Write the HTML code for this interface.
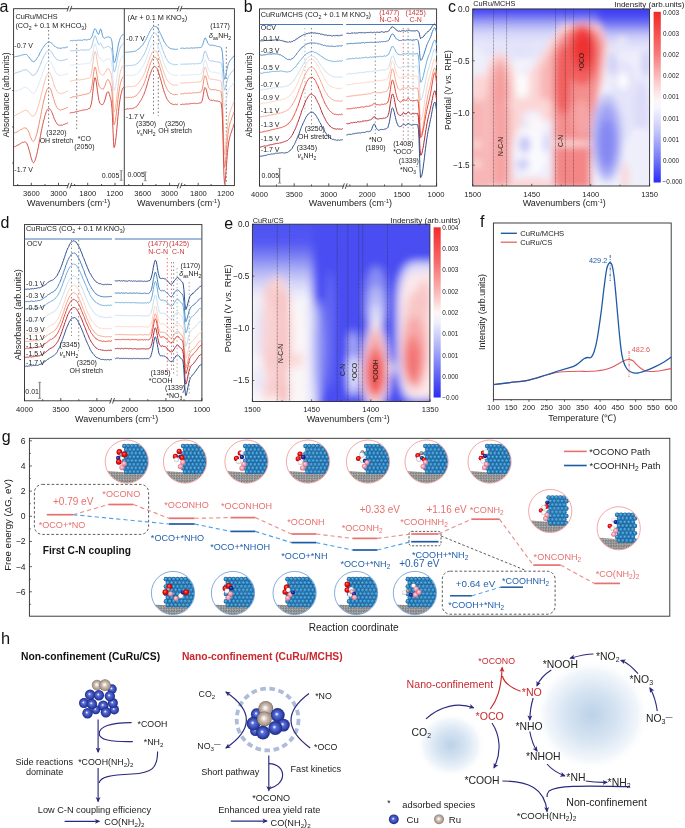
<!DOCTYPE html>
<html><head><meta charset="utf-8"><style>
html,body{margin:0;padding:0;background:#fff;}
body{width:685px;height:828px;overflow:hidden;position:relative;}
svg{position:absolute;left:0;top:0;font-family:"Liberation Sans", sans-serif;will-change:transform;}
</style></head><body>
<svg width="685" height="828" viewBox="0 0 685 828">
<text x="-0.60" y="11.60" font-size="16.00" fill="#111">a</text>
<rect x="13.60" y="8.70" width="220.80" height="176.90" fill="none" stroke="#2b2b2b" stroke-width="0.90"/>
<line x1="124.30" y1="8.70" x2="124.30" y2="185.60" stroke="#2b2b2b" stroke-width="0.90"/>
<line x1="67.00" y1="11.50" x2="69.00" y2="5.90" stroke="#2b2b2b" stroke-width="0.80"/><line x1="69.80" y1="11.50" x2="71.80" y2="5.90" stroke="#2b2b2b" stroke-width="0.80"/><rect x="68.60" y="8.10" width="1.60" height="1.20" fill="#fff"/>
<line x1="67.00" y1="188.40" x2="69.00" y2="182.80" stroke="#2b2b2b" stroke-width="0.80"/><line x1="69.80" y1="188.40" x2="71.80" y2="182.80" stroke="#2b2b2b" stroke-width="0.80"/><rect x="68.60" y="185.00" width="1.60" height="1.20" fill="#fff"/>
<line x1="177.20" y1="11.50" x2="179.20" y2="5.90" stroke="#2b2b2b" stroke-width="0.80"/><line x1="180.00" y1="11.50" x2="182.00" y2="5.90" stroke="#2b2b2b" stroke-width="0.80"/><rect x="178.80" y="8.10" width="1.60" height="1.20" fill="#fff"/>
<line x1="177.20" y1="188.40" x2="179.20" y2="182.80" stroke="#2b2b2b" stroke-width="0.80"/><line x1="180.00" y1="188.40" x2="182.00" y2="182.80" stroke="#2b2b2b" stroke-width="0.80"/><rect x="178.80" y="185.00" width="1.60" height="1.20" fill="#fff"/>
<line x1="31.30" y1="185.60" x2="31.30" y2="182.80" stroke="#2b2b2b" stroke-width="0.80"/><line x1="58.50" y1="185.60" x2="58.50" y2="182.80" stroke="#2b2b2b" stroke-width="0.80"/><line x1="87.70" y1="185.60" x2="87.70" y2="182.80" stroke="#2b2b2b" stroke-width="0.80"/><line x1="115.00" y1="185.60" x2="115.00" y2="182.80" stroke="#2b2b2b" stroke-width="0.80"/><line x1="142.60" y1="185.60" x2="142.60" y2="182.80" stroke="#2b2b2b" stroke-width="0.80"/><line x1="169.60" y1="185.60" x2="169.60" y2="182.80" stroke="#2b2b2b" stroke-width="0.80"/><line x1="198.20" y1="185.60" x2="198.20" y2="182.80" stroke="#2b2b2b" stroke-width="0.80"/><line x1="225.00" y1="185.60" x2="225.00" y2="182.80" stroke="#2b2b2b" stroke-width="0.80"/>
<line x1="17.70" y1="185.60" x2="17.70" y2="184.00" stroke="#2b2b2b" stroke-width="0.80"/><line x1="45.00" y1="185.60" x2="45.00" y2="184.00" stroke="#2b2b2b" stroke-width="0.80"/><line x1="74.60" y1="185.60" x2="74.60" y2="184.00" stroke="#2b2b2b" stroke-width="0.80"/><line x1="101.50" y1="185.60" x2="101.50" y2="184.00" stroke="#2b2b2b" stroke-width="0.80"/><line x1="128.80" y1="185.60" x2="128.80" y2="184.00" stroke="#2b2b2b" stroke-width="0.80"/><line x1="155.90" y1="185.60" x2="155.90" y2="184.00" stroke="#2b2b2b" stroke-width="0.80"/><line x1="184.80" y1="185.60" x2="184.80" y2="184.00" stroke="#2b2b2b" stroke-width="0.80"/><line x1="211.10" y1="185.60" x2="211.10" y2="184.00" stroke="#2b2b2b" stroke-width="0.80"/>
<text x="31.40" y="196.30" font-size="7.60" fill="#222" text-anchor="middle">3600</text>
<text x="58.60" y="196.30" font-size="7.60" fill="#222" text-anchor="middle">3000</text>
<text x="87.70" y="196.30" font-size="7.60" fill="#222" text-anchor="middle">1800</text>
<text x="114.80" y="196.30" font-size="7.60" fill="#222" text-anchor="middle">1200</text>
<text x="142.80" y="196.30" font-size="7.60" fill="#222" text-anchor="middle">3600</text>
<text x="169.50" y="196.30" font-size="7.60" fill="#222" text-anchor="middle">3000</text>
<text x="198.40" y="196.30" font-size="7.60" fill="#222" text-anchor="middle">1800</text>
<text x="225.50" y="196.30" font-size="7.60" fill="#222" text-anchor="middle">1200</text>
<text x="68.60" y="206.30" font-size="9.00" fill="#222" text-anchor="middle">Wavenumbers (cm<tspan baseline-shift="3.00" font-size="5.50">-1</tspan>)</text>
<text x="178.60" y="206.30" font-size="9.00" fill="#222" text-anchor="middle">Wavenumbers (cm<tspan baseline-shift="3.00" font-size="5.50">-1</tspan>)</text>
<text x="9.00" y="94.90" font-size="8.40" fill="#222" text-anchor="middle" transform="rotate(-90 9.00 94.90)">Absorbance (arb.units)</text>
<line x1="13.60" y1="54.50" x2="12.10" y2="54.50" stroke="#2b2b2b" stroke-width="0.70"/>
<line x1="13.60" y1="90.50" x2="12.10" y2="90.50" stroke="#2b2b2b" stroke-width="0.70"/>
<line x1="13.60" y1="127.00" x2="12.10" y2="127.00" stroke="#2b2b2b" stroke-width="0.70"/>
<line x1="13.60" y1="163.00" x2="12.10" y2="163.00" stroke="#2b2b2b" stroke-width="0.70"/>
<text x="15.40" y="18.90" font-size="7.30" fill="#222">CuRu/MCHS</text>
<text x="15.40" y="27.70" font-size="7.30" fill="#222">(CO<tspan baseline-shift="-1.80" font-size="5.20">2</tspan> + 0.1 M KHCO<tspan baseline-shift="-1.80" font-size="5.20">3</tspan>)</text>
<text x="14.30" y="48.30" font-size="7.00" fill="#222">-0.7 V</text>
<text x="14.30" y="172.20" font-size="7.00" fill="#222">-1.7 V</text>
<text x="56.40" y="135.30" font-size="7.00" fill="#222" text-anchor="middle">(3220)</text>
<text x="56.40" y="143.10" font-size="7.00" fill="#222" text-anchor="middle">OH stretch</text>
<text x="84.40" y="141.20" font-size="7.00" fill="#222" text-anchor="middle">*CO</text>
<text x="84.40" y="148.90" font-size="7.00" fill="#222" text-anchor="middle">(2050)</text>
<text x="119.40" y="177.80" font-size="7.00" fill="#222" text-anchor="end">0.005</text>
<line x1="121.20" y1="170.70" x2="121.20" y2="180.30" stroke="#808080" stroke-width="1.20"/>
<line x1="119.70" y1="170.70" x2="122.70" y2="170.70" stroke="#808080" stroke-width="0.80"/>
<line x1="119.70" y1="180.30" x2="122.70" y2="180.30" stroke="#808080" stroke-width="0.80"/>
<text x="127.60" y="19.50" font-size="7.30" fill="#222">(Ar + 0.1 M KNO<tspan baseline-shift="-1.80" font-size="5.20">3</tspan>)</text>
<text x="126.30" y="41.00" font-size="7.00" fill="#222">-0.7 V</text>
<text x="220.10" y="27.70" font-size="7.00" fill="#222" text-anchor="middle">(1177)</text>
<text x="220.10" y="37.90" font-size="7.00" fill="#222" text-anchor="middle"><tspan font-style="italic">δ</tspan><tspan baseline-shift="-1.80" font-size="5.00">as</tspan>NH<tspan baseline-shift="-1.80" font-size="5.00">2</tspan></text>
<text x="125.80" y="119.00" font-size="7.00" fill="#222">-1.7 V</text>
<text x="146.10" y="125.80" font-size="7.00" fill="#222" text-anchor="middle">(3350)</text>
<text x="146.10" y="133.50" font-size="7.00" fill="#222" text-anchor="middle"><tspan font-style="italic">v</tspan><tspan baseline-shift="-1.80" font-size="5.00">s</tspan>NH<tspan baseline-shift="-1.80" font-size="5.00">2</tspan></text>
<text x="175.10" y="125.80" font-size="7.00" fill="#222" text-anchor="middle">(3250)</text>
<text x="175.10" y="132.60" font-size="7.00" fill="#222" text-anchor="middle">OH stretch</text>
<text x="127.40" y="177.00" font-size="7.00" fill="#222">0.005</text>
<line x1="145.20" y1="172.00" x2="145.20" y2="180.70" stroke="#808080" stroke-width="1.20"/>
<line x1="143.70" y1="172.00" x2="146.70" y2="172.00" stroke="#808080" stroke-width="0.80"/>
<line x1="143.70" y1="180.70" x2="146.70" y2="180.70" stroke="#808080" stroke-width="0.80"/>
<line x1="48.60" y1="30.00" x2="48.60" y2="128.00" stroke="#444" stroke-width="0.70" stroke-dasharray="1.6 2.2"/>
<line x1="76.70" y1="44.00" x2="76.70" y2="129.00" stroke="#444" stroke-width="0.70" stroke-dasharray="1.6 2.2"/>
<line x1="153.50" y1="21.00" x2="153.50" y2="116.00" stroke="#444" stroke-width="0.70" stroke-dasharray="1.6 2.2"/>
<line x1="158.30" y1="24.00" x2="158.30" y2="116.00" stroke="#444" stroke-width="0.70" stroke-dasharray="1.6 2.2"/>
<line x1="226.30" y1="47.00" x2="226.30" y2="183.00" stroke="#444" stroke-width="0.70" stroke-dasharray="1.6 2.2"/>
<polyline points="13.90,57.21 14.40,57.06 14.90,56.76 15.40,56.57 15.90,56.63 16.40,56.46 16.91,56.59 17.41,56.19 17.91,56.18 18.41,56.13 18.91,56.19 19.41,55.81 19.91,55.52 20.41,55.64 20.91,55.39 21.41,54.99 21.91,55.20 22.42,55.07 22.92,54.80 23.42,54.72 23.92,54.25 24.42,54.45 24.92,54.54 25.42,54.47 25.92,54.48 26.42,54.47 26.92,54.97 27.43,55.46 27.93,56.11 28.43,56.68 28.93,57.00 29.43,57.89 29.93,58.22 30.43,59.24 30.93,59.77 31.43,60.06 31.93,61.02 32.43,61.23 32.94,61.74 33.44,61.73 33.94,61.24 34.44,61.30 34.94,61.17 35.44,60.33 35.94,59.81 36.44,59.47 36.94,58.32 37.44,57.73 37.94,56.66 38.45,56.19 38.95,55.15 39.45,53.99 39.95,52.81 40.45,52.00 40.95,51.18 41.45,50.52 41.95,49.13 42.45,48.54 42.95,47.81 43.45,46.93 43.96,46.35 44.46,45.49 44.96,45.10 45.46,44.30 45.96,43.77 46.46,43.23 46.96,42.93 47.46,42.49 47.96,42.37 48.46,42.03 48.96,41.89 49.47,41.91 49.97,42.30 50.47,42.55 50.97,42.74 51.47,42.88 51.97,43.70 52.47,44.23 52.97,44.73 53.47,45.16 53.97,45.67 54.48,46.13 54.98,46.32 55.48,46.61 55.98,47.13 56.48,47.16 56.98,47.72 57.48,47.94 57.98,48.12 58.48,48.05 58.98,48.34 59.48,48.17 59.99,48.11 60.49,48.23 60.99,48.40 61.49,48.31 61.99,48.19 62.49,47.70 62.99,47.94 63.49,47.79 63.99,47.79 64.49,47.84 64.99,47.39 65.50,47.59 66.00,47.14 66.50,47.11 67.00,47.36 67.50,46.99 68.00,47.19" fill="none" stroke="#5b9bd5" stroke-width="1.00" stroke-linejoin="round"/>
<polyline points="13.90,73.28 14.40,73.57 14.90,73.39 15.40,72.94 15.90,72.95 16.40,72.78 16.91,72.76 17.41,72.69 17.91,72.12 18.41,71.92 18.91,72.23 19.41,71.81 19.91,71.81 20.41,71.15 20.91,71.20 21.41,71.14 21.91,70.62 22.42,70.83 22.92,70.60 23.42,69.89 23.92,69.73 24.42,69.93 24.92,70.11 25.42,69.78 25.92,69.75 26.42,70.01 26.92,70.00 27.43,70.41 27.93,70.90 28.43,71.37 28.93,71.71 29.43,72.25 29.93,72.80 30.43,73.51 30.93,73.95 31.43,74.27 31.93,75.16 32.43,75.28 32.94,75.49 33.44,75.20 33.94,75.51 34.44,75.12 34.94,74.25 35.44,73.84 35.94,73.43 36.44,72.68 36.94,71.98 37.44,70.76 37.94,70.02 38.45,68.88 38.95,67.57 39.45,66.61 39.95,65.63 40.45,64.44 40.95,63.05 41.45,61.92 41.95,60.41 42.45,59.38 42.95,58.57 43.45,57.24 43.96,56.03 44.46,55.25 44.96,54.40 45.46,53.52 45.96,52.55 46.46,51.90 46.96,51.36 47.46,51.04 47.96,50.53 48.46,50.21 48.96,50.17 49.47,49.96 49.97,50.20 50.47,50.98 50.97,51.67 51.47,52.07 51.97,52.66 52.47,53.30 52.97,54.30 53.47,55.39 53.97,56.06 54.48,56.68 54.98,57.58 55.48,57.84 55.98,58.58 56.48,59.34 56.98,59.53 57.48,59.80 57.98,59.95 58.48,60.32 58.98,60.71 59.48,60.23 59.99,60.75 60.49,60.78 60.99,60.79 61.49,60.66 61.99,60.63 62.49,60.37 62.99,60.30 63.49,60.11 63.99,59.77 64.49,60.13 64.99,59.83 65.50,59.48 66.00,59.53 66.50,59.39 67.00,59.18 67.50,59.04 68.00,59.02" fill="none" stroke="#9fc5e8" stroke-width="1.00" stroke-linejoin="round"/>
<polyline points="13.90,92.07 14.40,91.90 14.90,91.19 15.40,91.04 15.90,91.31 16.40,91.08 16.91,90.86 17.41,90.46 17.91,90.45 18.41,90.25 18.91,90.03 19.41,89.56 19.91,89.49 20.41,89.23 20.91,89.18 21.41,89.08 21.91,88.80 22.42,88.30 22.92,88.00 23.42,87.68 23.92,87.35 24.42,87.21 24.92,87.39 25.42,87.29 25.92,87.38 26.42,87.82 26.92,87.82 27.43,88.15 27.93,88.34 28.43,88.67 28.93,89.38 29.43,89.85 29.93,90.68 30.43,91.58 30.93,91.97 31.43,92.19 31.93,93.05 32.43,93.29 32.94,93.39 33.44,93.45 33.94,93.12 34.44,92.74 34.94,91.95 35.44,91.67 35.94,90.87 36.44,89.48 36.94,88.81 37.44,87.66 37.94,86.30 38.45,85.05 38.95,83.67 39.45,82.52 39.95,80.82 40.45,79.54 40.95,77.75 41.45,76.55 41.95,75.05 42.45,73.28 42.95,71.87 43.45,70.64 43.96,69.13 44.46,67.66 44.96,66.26 45.46,65.18 45.96,64.36 46.46,63.13 46.96,62.80 47.46,61.80 47.96,61.71 48.46,61.04 48.96,61.30 49.47,61.26 49.97,61.47 50.47,62.02 50.97,62.82 51.47,63.64 51.97,64.46 52.47,65.46 52.97,66.74 53.47,68.10 53.97,69.01 54.48,69.72 54.98,71.13 55.48,71.96 55.98,72.86 56.48,73.11 56.98,74.02 57.48,74.08 57.98,74.82 58.48,74.88 58.98,75.06 59.48,75.59 59.99,75.20 60.49,75.47 60.99,75.65 61.49,75.24 61.99,75.13 62.49,75.43 62.99,75.03 63.49,75.08 63.99,74.52 64.49,74.57 64.99,74.29 65.50,74.43 66.00,73.92 66.50,74.27 67.00,73.55 67.50,73.80 68.00,73.21" fill="none" stroke="#d6e6f5" stroke-width="1.00" stroke-linejoin="round"/>
<polyline points="13.90,115.84 14.40,115.79 14.90,115.45 15.40,115.36 15.90,115.14 16.40,114.56 16.91,114.29 17.41,114.54 17.91,113.94 18.41,113.66 18.91,113.85 19.41,113.25 19.91,113.18 20.41,112.66 20.91,112.45 21.41,111.83 21.91,111.80 22.42,111.63 22.92,111.12 23.42,110.98 23.92,110.70 24.42,110.15 24.92,110.44 25.42,110.28 25.92,110.14 26.42,110.09 26.92,110.80 27.43,110.87 27.93,111.42 28.43,112.01 28.93,112.48 29.43,113.23 29.93,113.58 30.43,114.49 30.93,114.92 31.43,115.77 31.93,116.19 32.43,116.02 32.94,116.15 33.44,116.09 33.94,116.19 34.44,115.34 34.94,114.76 35.44,113.70 35.94,112.80 36.44,111.54 36.94,110.20 37.44,108.88 37.94,107.30 38.45,105.81 38.95,103.90 39.45,102.19 39.95,100.23 40.45,98.33 40.95,96.12 41.45,93.77 41.95,92.14 42.45,90.15 42.95,88.09 43.45,85.90 43.96,84.06 44.46,81.93 44.96,80.57 45.46,78.82 45.96,77.20 46.46,75.79 46.96,75.18 47.46,74.39 47.96,73.20 48.46,73.20 48.96,72.80 49.47,72.81 49.97,73.38 50.47,74.43 50.97,75.52 51.47,76.27 51.97,78.01 52.47,79.18 52.97,81.16 53.47,82.52 53.97,84.40 54.48,85.95 54.98,87.05 55.48,88.61 55.98,89.32 56.48,90.16 56.98,91.30 57.48,91.65 57.98,92.29 58.48,92.84 58.98,93.26 59.48,93.20 59.99,93.24 60.49,93.78 60.99,93.43 61.49,93.75 61.99,93.60 62.49,93.15 62.99,93.04 63.49,92.89 63.99,92.77 64.49,92.53 64.99,92.29 65.50,92.11 66.00,92.08 66.50,91.59 67.00,91.32 67.50,91.26 68.00,90.74" fill="none" stroke="#f8bfa6" stroke-width="1.00" stroke-linejoin="round"/>
<polyline points="13.90,133.24 14.40,132.92 14.90,132.85 15.40,132.46 15.90,132.16 16.40,132.12 16.91,132.17 17.41,131.85 17.91,131.57 18.41,130.97 18.91,130.88 19.41,130.44 19.91,130.07 20.41,129.72 20.91,129.47 21.41,129.58 21.91,129.20 22.42,128.88 22.92,128.59 23.42,127.97 23.92,127.85 24.42,127.91 24.92,127.94 25.42,128.09 25.92,128.30 26.42,128.16 26.92,128.97 27.43,129.67 27.93,130.39 28.43,131.18 28.93,132.49 29.43,133.51 29.93,135.34 30.43,136.65 30.93,137.77 31.43,138.82 31.93,140.20 32.43,140.75 32.94,141.37 33.44,141.42 33.94,140.89 34.44,140.20 34.94,139.41 35.44,138.15 35.94,136.59 36.44,135.04 36.94,133.51 37.44,131.03 37.94,128.87 38.45,126.92 38.95,124.33 39.45,122.02 39.95,119.48 40.45,116.87 40.95,114.72 41.45,111.71 41.95,109.34 42.45,106.75 42.95,104.62 43.45,102.09 43.96,99.92 44.46,98.06 44.96,95.85 45.46,94.20 45.96,92.80 46.46,90.91 46.96,89.70 47.46,88.84 47.96,88.45 48.46,87.89 48.96,87.48 49.47,87.71 49.97,88.14 50.47,89.15 50.97,90.01 51.47,91.74 51.97,93.37 52.47,95.04 52.97,96.60 53.47,98.45 53.97,99.56 54.48,101.33 54.98,103.23 55.48,104.49 55.98,105.48 56.48,106.86 56.98,107.57 57.48,108.43 57.98,108.71 58.48,109.11 58.98,109.59 59.48,109.63 59.99,109.91 60.49,110.32 60.99,109.93 61.49,109.67 61.99,109.58 62.49,109.51 62.99,109.71 63.49,109.27 63.99,109.02 64.49,108.69 64.99,109.00 65.50,108.44 66.00,108.07 66.50,107.75 67.00,107.51 67.50,107.34 68.00,107.40" fill="none" stroke="#ef8a70" stroke-width="1.00" stroke-linejoin="round"/>
<polyline points="13.90,146.97 14.40,146.82 14.90,146.63 15.40,146.49 15.90,146.14 16.40,146.02 16.91,145.25 17.41,145.28 17.91,145.32 18.41,144.89 18.91,144.78 19.41,144.04 19.91,143.98 20.41,143.55 20.91,143.44 21.41,143.16 21.91,142.53 22.42,142.37 22.92,142.16 23.42,142.35 23.92,142.12 24.42,141.72 24.92,142.17 25.42,141.98 25.92,142.64 26.42,142.91 26.92,143.61 27.43,145.12 27.93,145.95 28.43,147.40 28.93,149.52 29.43,151.28 29.93,152.87 30.43,155.25 30.93,156.93 31.43,158.81 31.93,160.07 32.43,161.72 32.94,162.35 33.44,162.81 33.94,162.53 34.44,161.54 34.94,160.60 35.44,159.18 35.94,157.57 36.44,155.64 36.94,153.67 37.44,151.55 37.94,148.73 38.45,146.56 38.95,143.72 39.45,141.02 39.95,138.64 40.45,135.78 40.95,133.07 41.45,130.63 41.95,128.29 42.45,125.54 42.95,123.82 43.45,121.10 43.96,119.52 44.46,117.69 44.96,115.46 45.46,114.35 45.96,112.69 46.46,111.60 46.96,110.22 47.46,109.41 47.96,108.86 48.46,108.91 48.96,108.26 49.47,108.69 49.97,109.17 50.47,109.80 50.97,110.29 51.47,111.32 51.97,112.59 52.47,114.00 52.97,114.92 53.47,116.63 53.97,117.95 54.48,119.23 54.98,119.89 55.48,121.49 55.98,121.91 56.48,122.87 56.98,123.71 57.48,124.46 57.98,124.55 58.48,125.23 58.98,125.24 59.48,125.25 59.99,125.32 60.49,125.25 60.99,125.15 61.49,125.11 61.99,125.32 62.49,125.36 62.99,124.69 63.49,124.44 63.99,124.81 64.49,124.34 64.99,124.05 65.50,123.74 66.00,123.74 66.50,123.66 67.00,123.21 67.50,122.97 68.00,122.53" fill="none" stroke="#d44c44" stroke-width="1.00" stroke-linejoin="round"/>
<polyline points="69.90,40.84 70.40,40.73 70.90,40.79 71.40,40.53 71.90,40.87 72.40,40.84 72.91,40.71 73.41,40.38 73.91,40.57 74.41,40.42 74.91,40.34 75.41,40.74 75.91,40.73 76.41,40.13 76.91,40.59 77.41,40.40 77.91,40.24 78.42,40.15 78.92,40.35 79.42,40.19 79.92,40.30 80.42,40.26 80.92,39.91 81.42,40.26 81.92,40.36 82.42,40.32 82.92,40.07 83.43,39.70 83.93,39.65 84.43,39.69 84.93,40.15 85.43,39.73 85.93,39.74 86.43,40.03 86.93,39.65 87.43,39.76 87.93,39.65 88.43,39.38 88.94,39.63 89.44,39.67 89.94,39.07 90.44,38.79 90.94,38.40 91.44,37.39 91.94,36.58 92.44,35.37 92.94,33.65 93.44,31.88 93.94,30.55 94.45,29.03 94.95,28.82 95.45,28.88 95.95,29.70 96.45,30.48 96.95,32.15 97.45,32.99 97.95,33.93 98.45,34.53 98.95,33.91 99.45,32.06 99.96,30.24 100.46,28.99 100.96,29.21 101.46,31.00 101.96,33.06 102.46,35.23 102.96,37.00 103.46,37.66 103.96,38.25 104.46,38.34 104.96,38.16 105.47,37.76 105.97,37.45 106.47,37.28 106.97,36.85 107.47,37.15 107.97,36.88 108.47,36.91 108.97,36.86 109.47,37.23 109.97,37.51 110.47,37.65 110.98,38.43 111.48,39.45 111.98,41.71 112.48,46.49 112.98,53.19 113.48,59.40 113.98,62.95 114.48,62.50 114.98,61.71 115.48,59.96 115.99,57.64 116.49,55.00 116.99,52.27 117.49,49.41 117.99,46.70 118.49,44.08 118.99,42.13 119.49,40.66 119.99,38.87 120.49,37.46 120.99,36.52 121.50,36.12 122.00,35.27 122.50,34.89 123.00,34.61 123.50,34.62 124.00,34.84" fill="none" stroke="#5b9bd5" stroke-width="1.00" stroke-linejoin="round"/>
<polyline points="69.90,50.87 70.40,50.90 70.90,51.09 71.40,50.78 71.90,50.78 72.40,50.80 72.91,50.52 73.41,50.69 73.91,50.73 74.41,50.79 74.91,50.34 75.41,50.44 75.91,50.28 76.41,50.68 76.91,50.58 77.41,50.15 77.91,50.69 78.42,50.64 78.92,50.43 79.42,50.37 79.92,50.06 80.42,49.95 80.92,50.22 81.42,49.91 81.92,49.96 82.42,49.96 82.92,49.80 83.43,50.03 83.93,49.98 84.43,50.19 84.93,49.97 85.43,50.01 85.93,49.89 86.43,49.96 86.93,49.80 87.43,49.66 87.93,50.05 88.43,50.00 88.94,49.83 89.44,49.61 89.94,49.14 90.44,48.69 90.94,48.08 91.44,46.96 91.94,45.98 92.44,43.97 92.94,42.15 93.44,39.70 93.94,38.09 94.45,36.63 94.95,35.53 95.45,35.90 95.95,37.20 96.45,38.34 96.95,40.34 97.45,41.72 97.95,43.03 98.45,44.38 98.95,44.82 99.45,44.25 99.96,43.57 100.46,43.35 100.96,43.98 101.46,44.76 101.96,45.62 102.46,46.85 102.96,47.54 103.46,47.88 103.96,48.37 104.46,47.86 104.96,47.85 105.47,47.49 105.97,47.03 106.47,47.08 106.97,46.49 107.47,46.65 107.97,46.28 108.47,46.52 108.97,46.54 109.47,46.78 109.97,47.46 110.47,47.68 110.98,47.92 111.48,49.41 111.98,51.47 112.48,56.03 112.98,62.54 113.48,68.61 113.98,71.65 114.48,72.05 114.98,70.58 115.48,68.92 115.99,67.01 116.49,64.16 116.99,61.39 117.49,58.49 117.99,55.86 118.49,53.76 118.99,51.44 119.49,49.86 119.99,48.22 120.49,47.04 120.99,46.36 121.50,45.28 122.00,44.73 122.50,44.43 123.00,43.69 123.50,43.45 124.00,43.79" fill="none" stroke="#9fc5e8" stroke-width="1.00" stroke-linejoin="round"/>
<polyline points="69.90,65.28 70.40,65.35 70.90,65.30 71.40,64.94 71.90,64.81 72.40,64.98 72.91,64.87 73.41,65.14 73.91,65.02 74.41,64.92 74.91,64.84 75.41,64.86 75.91,64.50 76.41,64.63 76.91,64.41 77.41,64.81 77.91,64.25 78.42,64.66 78.92,64.16 79.42,64.48 79.92,64.22 80.42,64.21 80.92,64.43 81.42,63.88 81.92,63.86 82.42,64.32 82.92,64.03 83.43,63.73 83.93,64.22 84.43,64.14 84.93,63.60 85.43,63.73 85.93,63.51 86.43,63.57 86.93,63.70 87.43,63.37 87.93,63.63 88.43,63.17 88.94,63.12 89.44,63.31 89.94,62.73 90.44,62.18 90.94,61.36 91.44,59.89 91.94,57.87 92.44,55.14 92.94,52.61 93.44,49.69 93.94,46.95 94.45,44.79 94.95,43.77 95.45,44.10 95.95,45.55 96.45,47.50 96.95,49.57 97.45,52.15 97.95,54.53 98.45,56.44 98.95,57.82 99.45,58.21 99.96,58.09 100.46,58.67 100.96,58.77 101.46,59.46 101.96,60.05 102.46,60.83 102.96,61.19 103.46,61.52 103.96,60.99 104.46,60.97 104.96,60.36 105.47,60.22 105.97,59.37 106.47,59.09 106.97,58.78 107.47,58.74 107.97,58.31 108.47,58.63 108.97,58.69 109.47,59.05 109.97,59.54 110.47,60.30 110.98,60.73 111.48,62.50 111.98,65.14 112.48,71.17 112.98,78.63 113.48,86.28 113.98,90.82 114.48,90.75 114.98,88.94 115.48,86.98 115.99,84.50 116.49,81.01 116.99,77.49 117.49,73.89 117.99,70.60 118.49,67.94 118.99,65.51 119.49,63.26 119.99,61.08 120.49,59.24 120.99,58.18 121.50,57.46 122.00,56.71 122.50,56.01 123.00,55.33 123.50,55.22 124.00,55.04" fill="none" stroke="#d6e6f5" stroke-width="1.00" stroke-linejoin="round"/>
<polyline points="69.90,81.06 70.40,81.24 70.90,81.16 71.40,81.18 71.90,80.71 72.40,80.66 72.91,80.53 73.41,80.50 73.91,80.73 74.41,80.29 74.91,80.46 75.41,80.19 75.91,80.17 76.41,80.17 76.91,80.34 77.41,80.13 77.91,79.69 78.42,79.77 78.92,79.62 79.42,79.98 79.92,79.87 80.42,79.79 80.92,79.73 81.42,79.60 81.92,79.65 82.42,79.48 82.92,79.08 83.43,79.36 83.93,79.07 84.43,79.15 84.93,78.96 85.43,78.80 85.93,78.69 86.43,78.65 86.93,78.50 87.43,78.30 87.93,78.63 88.43,78.50 88.94,78.45 89.44,78.00 89.94,77.45 90.44,76.78 90.94,75.14 91.44,73.55 91.94,70.71 92.44,67.09 92.94,63.06 93.44,59.06 93.94,55.13 94.45,52.54 94.95,51.48 95.45,51.80 95.95,53.34 96.45,56.24 96.95,59.37 97.45,62.84 97.95,66.05 98.45,68.86 98.95,70.67 99.45,72.29 99.96,73.20 100.46,73.32 100.96,73.95 101.46,74.58 101.96,74.53 102.46,74.92 102.96,75.37 103.46,75.16 103.96,74.53 104.46,73.52 104.96,72.78 105.47,72.04 105.97,71.02 106.47,70.01 106.97,68.89 107.47,68.80 107.97,68.38 108.47,68.80 108.97,68.99 109.47,70.25 109.97,70.92 110.47,72.00 110.98,73.00 111.48,75.44 111.98,79.60 112.48,86.86 112.98,96.71 113.48,106.82 113.98,111.94 114.48,111.70 114.98,110.00 115.48,107.60 115.99,103.69 116.49,99.60 116.99,95.06 117.49,90.93 117.99,86.60 118.49,82.66 118.99,78.88 119.49,76.11 119.99,73.51 120.49,71.25 120.99,69.46 121.50,68.65 122.00,67.00 122.50,66.24 123.00,65.58 123.50,65.35 124.00,64.82" fill="none" stroke="#f8bfa6" stroke-width="1.00" stroke-linejoin="round"/>
<polyline points="69.90,97.36 70.40,97.61 70.90,97.48 71.40,97.54 71.90,97.03 72.40,96.92 72.91,97.10 73.41,96.94 73.91,96.62 74.41,96.74 74.91,96.46 75.41,96.59 75.91,96.08 76.41,96.04 76.91,96.34 77.41,95.90 77.91,95.74 78.42,95.96 78.92,95.75 79.42,95.35 79.92,95.48 80.42,95.44 80.92,95.04 81.42,95.22 81.92,94.80 82.42,94.82 82.92,94.56 83.43,94.52 83.93,94.88 84.43,94.43 84.93,94.67 85.43,94.23 85.93,94.23 86.43,94.28 86.93,94.06 87.43,93.60 87.93,93.76 88.43,93.64 88.94,93.17 89.44,92.82 89.94,92.81 90.44,91.80 90.94,90.36 91.44,88.63 91.94,85.87 92.44,82.85 92.94,78.75 93.44,74.44 93.94,71.21 94.45,68.13 94.95,67.11 95.45,67.35 95.95,69.38 96.45,71.55 96.95,74.92 97.45,77.96 97.95,81.26 98.45,83.95 98.95,85.72 99.45,86.84 99.96,87.50 100.46,87.86 100.96,88.32 101.46,88.46 101.96,89.09 102.46,89.17 102.96,89.47 103.46,89.08 103.96,87.80 104.46,86.79 104.96,85.84 105.47,84.32 105.97,82.51 106.47,81.56 106.97,80.61 107.47,79.61 107.97,79.38 108.47,79.83 108.97,80.81 109.47,81.49 109.97,82.78 110.47,84.09 110.98,85.99 111.48,88.33 111.98,92.51 112.48,99.80 112.98,109.41 113.48,119.25 113.98,124.86 114.48,124.40 114.98,122.60 115.48,120.29 115.99,116.39 116.49,112.19 116.99,107.62 117.49,103.21 117.99,98.92 118.49,94.95 118.99,91.76 119.49,88.26 119.99,85.56 120.49,83.49 120.99,81.76 121.50,79.80 122.00,78.79 122.50,77.54 123.00,76.89 123.50,76.40 124.00,76.34" fill="none" stroke="#ef8a70" stroke-width="1.00" stroke-linejoin="round"/>
<polyline points="69.90,113.38 70.40,112.69 70.90,113.02 71.40,112.56 71.90,112.94 72.40,112.25 72.91,112.66 73.41,112.42 73.91,112.42 74.41,112.39 74.91,111.82 75.41,111.77 75.91,111.88 76.41,111.51 76.91,111.39 77.41,111.26 77.91,111.52 78.42,111.42 78.92,111.26 79.42,110.81 79.92,111.11 80.42,110.75 80.92,110.47 81.42,110.50 81.92,110.36 82.42,110.05 82.92,110.23 83.43,109.99 83.93,110.00 84.43,110.11 84.93,109.83 85.43,109.57 85.93,109.73 86.43,109.70 86.93,109.28 87.43,109.43 87.93,108.75 88.43,108.66 88.94,108.46 89.44,108.58 89.94,107.87 90.44,106.96 90.94,105.21 91.44,103.09 91.94,100.20 92.44,95.70 92.94,91.02 93.44,86.11 93.94,81.99 94.45,79.07 94.95,77.54 95.45,77.94 95.95,79.94 96.45,82.82 96.95,87.06 97.45,90.70 97.95,94.40 98.45,97.67 98.95,100.48 99.45,101.93 99.96,103.40 100.46,103.75 100.96,104.27 101.46,104.36 101.96,105.01 102.46,104.88 102.96,104.32 103.46,103.41 103.96,102.60 104.46,101.17 104.96,99.79 105.47,98.00 105.97,95.99 106.47,93.97 106.97,92.43 107.47,92.08 107.97,91.89 108.47,91.86 108.97,93.08 109.47,94.51 109.97,96.48 110.47,97.73 110.98,99.85 111.48,103.39 111.98,108.55 112.48,117.32 112.98,129.51 113.48,141.19 113.98,147.61 114.48,147.09 114.98,145.01 115.48,141.68 115.99,137.54 116.49,132.66 116.99,127.06 117.49,121.53 117.99,116.36 118.49,111.47 118.99,106.94 119.49,102.84 119.99,99.74 120.49,96.81 120.99,94.40 121.50,92.33 122.00,90.12 122.50,89.17 123.00,87.98 123.50,87.35 124.00,87.10" fill="none" stroke="#d44c44" stroke-width="1.00" stroke-linejoin="round"/>
<polyline points="124.80,52.44 125.30,52.28 125.80,52.30 126.31,52.36 126.81,51.94 127.31,52.14 127.81,52.28 128.31,52.23 128.82,52.02 129.32,51.75 129.82,51.86 130.32,52.17 130.82,51.60 131.32,51.69 131.83,52.03 132.33,51.67 132.83,51.47 133.33,51.46 133.83,51.72 134.34,51.27 134.84,51.18 135.34,51.14 135.84,51.04 136.34,50.61 136.85,50.09 137.35,50.06 137.85,49.37 138.35,49.01 138.85,48.63 139.35,48.47 139.86,47.74 140.36,47.48 140.86,46.64 141.36,46.07 141.86,45.46 142.37,45.28 142.87,44.75 143.37,43.70 143.87,42.99 144.37,42.09 144.88,41.64 145.38,40.54 145.88,39.50 146.38,38.81 146.88,37.75 147.38,36.60 147.89,35.35 148.39,34.56 148.89,33.45 149.39,32.35 149.89,31.20 150.40,30.73 150.90,29.83 151.40,28.94 151.90,28.43 152.40,27.59 152.91,26.95 153.41,26.42 153.91,26.44 154.41,26.24 154.91,26.16 155.42,26.60 155.92,26.74 156.42,26.67 156.92,27.63 157.42,27.73 157.92,28.86 158.43,29.51 158.93,30.68 159.43,31.81 159.93,32.59 160.43,33.81 160.94,34.49 161.44,35.97 161.94,36.75 162.44,38.05 162.94,39.04 163.45,39.92 163.95,41.32 164.45,41.86 164.95,42.84 165.45,43.56 165.95,44.66 166.46,45.13 166.96,45.60 167.46,46.14 167.96,46.75 168.46,47.36 168.97,47.44 169.47,47.76 169.97,48.42 170.47,48.57 170.97,48.52 171.48,48.78 171.98,48.80 172.48,48.98 172.98,49.13 173.48,49.08 173.98,49.11 174.49,49.15 174.99,49.21 175.49,49.37 175.99,49.56 176.49,49.41 177.00,49.28 177.50,49.00 178.00,49.09" fill="none" stroke="#5b9bd5" stroke-width="1.00" stroke-linejoin="round"/>
<polyline points="124.80,65.50 125.30,65.80 125.80,65.76 126.31,65.66 126.81,65.49 127.31,65.83 127.81,65.83 128.31,65.64 128.82,65.63 129.32,65.45 129.82,65.30 130.32,65.50 130.82,65.61 131.32,65.27 131.83,65.68 132.33,65.30 132.83,65.25 133.33,65.06 133.83,65.54 134.34,65.27 134.84,65.19 135.34,64.85 135.84,64.26 136.34,64.14 136.85,63.90 137.35,63.28 137.85,63.33 138.35,62.47 138.85,61.80 139.35,61.62 139.86,60.59 140.36,60.43 140.86,59.49 141.36,58.86 141.86,58.02 142.37,57.36 142.87,56.38 143.37,55.44 143.87,55.02 144.37,53.66 144.88,52.92 145.38,51.43 145.88,50.66 146.38,49.34 146.88,47.92 147.38,46.55 147.89,45.05 148.39,43.75 148.89,42.01 149.39,40.89 149.89,39.82 150.40,38.25 150.90,37.57 151.40,36.54 151.90,35.37 152.40,34.58 152.91,34.01 153.41,33.48 153.91,33.51 154.41,32.97 154.91,32.75 155.42,32.96 155.92,33.67 156.42,34.35 156.92,34.73 157.42,35.58 157.92,36.62 158.43,37.89 158.93,38.83 159.43,40.39 159.93,41.76 160.43,43.25 160.94,44.47 161.44,45.96 161.94,47.56 162.44,49.38 162.94,50.47 163.45,52.02 163.95,53.18 164.45,54.32 164.95,55.49 165.45,57.05 165.95,58.05 166.46,58.74 166.96,59.78 167.46,60.53 167.96,61.35 168.46,61.98 168.97,62.17 169.47,62.97 169.97,63.35 170.47,63.45 170.97,63.91 171.48,63.90 171.98,64.03 172.48,64.11 172.98,64.61 173.48,64.28 173.98,64.31 174.49,64.81 174.99,64.84 175.49,64.70 175.99,64.93 176.49,64.48 177.00,64.62 177.50,64.64 178.00,64.72" fill="none" stroke="#9fc5e8" stroke-width="1.00" stroke-linejoin="round"/>
<polyline points="124.80,75.67 125.30,75.18 125.80,75.11 126.31,75.70 126.81,75.21 127.31,75.17 127.81,75.49 128.31,75.30 128.82,75.62 129.32,75.23 129.82,75.66 130.32,75.26 130.82,75.42 131.32,75.60 131.83,75.43 132.33,75.54 132.83,75.36 133.33,74.90 133.83,75.31 134.34,75.02 134.84,74.71 135.34,74.45 135.84,74.60 136.34,74.15 136.85,74.02 137.35,73.52 137.85,73.18 138.35,72.43 138.85,71.96 139.35,71.32 139.86,70.48 140.36,70.25 140.86,69.19 141.36,68.78 141.86,68.16 142.37,67.21 142.87,66.10 143.37,65.64 143.87,64.61 144.37,63.31 144.88,62.13 145.38,61.25 145.88,59.71 146.38,58.93 146.88,57.31 147.38,55.91 147.89,54.42 148.39,53.15 148.89,51.90 149.39,50.17 149.89,48.90 150.40,47.80 150.90,46.49 151.40,45.64 151.90,44.71 152.40,43.86 152.91,43.37 153.41,42.79 153.91,42.19 154.41,42.57 154.91,42.18 155.42,42.41 155.92,42.75 156.42,43.60 156.92,44.33 157.42,44.95 157.92,45.93 158.43,46.94 158.93,48.71 159.43,49.67 159.93,51.34 160.43,52.73 160.94,54.25 161.44,55.82 161.94,57.27 162.44,58.70 162.94,60.49 163.45,62.09 163.95,63.39 164.45,64.43 164.95,65.96 165.45,66.73 165.95,68.01 166.46,69.23 166.96,70.17 167.46,70.69 167.96,71.63 168.46,72.04 168.97,72.61 169.47,73.12 169.97,73.77 170.47,73.97 170.97,74.10 171.48,74.51 171.98,74.66 172.48,74.66 172.98,75.05 173.48,75.19 173.98,75.15 174.49,75.42 174.99,74.93 175.49,75.26 175.99,75.38 176.49,75.23 177.00,75.14 177.50,75.47 178.00,75.33" fill="none" stroke="#d6e6f5" stroke-width="1.00" stroke-linejoin="round"/>
<polyline points="124.80,87.25 125.30,87.25 125.80,87.20 126.31,86.69 126.81,86.98 127.31,86.86 127.81,86.91 128.31,86.65 128.82,86.66 129.32,86.79 129.82,86.63 130.32,86.75 130.82,86.46 131.32,86.46 131.83,86.79 132.33,86.56 132.83,86.55 133.33,86.59 133.83,86.26 134.34,85.93 134.84,86.19 135.34,85.85 135.84,85.62 136.34,85.27 136.85,85.09 137.35,84.28 137.85,84.01 138.35,83.21 138.85,82.72 139.35,82.12 139.86,81.23 140.36,80.38 140.86,79.87 141.36,79.25 141.86,78.37 142.37,77.45 142.87,76.68 143.37,75.46 143.87,74.43 144.37,73.42 144.88,72.52 145.38,70.87 145.88,69.47 146.38,68.03 146.88,66.51 147.38,65.12 147.89,63.76 148.39,62.36 148.89,60.54 149.39,59.08 149.89,57.61 150.40,56.28 150.90,55.33 151.40,54.07 151.90,52.91 152.40,51.97 152.91,51.67 153.41,51.08 153.91,50.77 154.41,50.22 154.91,50.39 155.42,50.78 155.92,50.95 156.42,51.72 156.92,52.01 157.42,53.42 157.92,53.98 158.43,55.45 158.93,56.59 159.43,58.53 159.93,60.00 160.43,61.77 160.94,63.30 161.44,65.03 161.94,66.43 162.44,68.32 162.94,69.76 163.45,71.05 163.95,72.89 164.45,73.93 164.95,75.13 165.45,76.27 165.95,77.63 166.46,78.50 166.96,79.87 167.46,80.71 167.96,81.02 168.46,81.60 168.97,82.43 169.47,82.70 169.97,83.35 170.47,83.87 170.97,83.83 171.48,84.18 171.98,84.67 172.48,84.56 172.98,84.63 173.48,85.06 173.98,85.10 174.49,85.20 174.99,85.12 175.49,84.99 175.99,85.17 176.49,85.27 177.00,85.16 177.50,84.91 178.00,84.94" fill="none" stroke="#f8bfa6" stroke-width="1.00" stroke-linejoin="round"/>
<polyline points="124.80,97.73 125.30,97.78 125.80,97.35 126.31,97.82 126.81,97.30 127.31,97.56 127.81,97.19 128.31,97.56 128.82,97.16 129.32,97.46 129.82,97.44 130.32,97.42 130.82,97.19 131.32,97.40 131.83,97.41 132.33,96.82 132.83,96.98 133.33,97.14 133.83,96.88 134.34,96.54 134.84,96.26 135.34,96.39 135.84,95.57 136.34,95.60 136.85,95.22 137.35,94.31 137.85,93.85 138.35,93.21 138.85,92.67 139.35,91.85 139.86,91.40 140.36,90.63 140.86,89.45 141.36,88.94 141.86,87.57 142.37,86.66 142.87,86.02 143.37,85.05 143.87,83.94 144.37,82.82 144.88,81.43 145.38,79.67 145.88,78.46 146.38,77.00 146.88,74.86 147.38,73.42 147.89,71.52 148.39,69.81 148.89,68.33 149.39,66.81 149.89,65.43 150.40,63.45 150.90,62.31 151.40,61.37 151.90,60.14 152.40,59.06 152.91,58.11 153.41,57.74 153.91,57.09 154.41,57.09 154.91,57.07 155.42,57.10 155.92,57.74 156.42,58.11 156.92,58.96 157.42,60.19 157.92,61.04 158.43,62.38 158.93,64.11 159.43,65.63 159.93,67.57 160.43,68.94 160.94,70.79 161.44,72.40 161.94,74.43 162.44,76.12 162.94,77.93 163.45,79.79 163.95,80.95 164.45,83.04 164.95,84.30 165.45,85.69 165.95,86.75 166.46,87.89 166.96,88.80 167.46,89.70 167.96,90.40 168.46,91.15 168.97,91.77 169.47,92.32 169.97,93.12 170.47,93.44 170.97,93.66 171.48,93.55 171.98,93.91 172.48,94.26 172.98,94.48 173.48,94.42 173.98,94.63 174.49,94.85 174.99,94.51 175.49,94.60 175.99,94.84 176.49,94.58 177.00,94.82 177.50,94.62 178.00,94.37" fill="none" stroke="#ef8a70" stroke-width="1.00" stroke-linejoin="round"/>
<polyline points="124.80,109.13 125.30,109.41 125.80,109.31 126.31,108.89 126.81,109.24 127.31,109.05 127.81,108.65 128.31,109.15 128.82,108.68 129.32,108.66 129.82,108.68 130.32,108.72 130.82,108.38 131.32,108.65 131.83,108.67 132.33,108.39 132.83,108.46 133.33,108.23 133.83,108.20 134.34,107.63 134.84,107.51 135.34,107.30 135.84,106.75 136.34,106.88 136.85,106.22 137.35,105.36 137.85,105.06 138.35,104.30 138.85,103.46 139.35,102.68 139.86,102.06 140.36,101.00 140.86,100.44 141.36,99.53 141.86,98.37 142.37,97.85 142.87,96.33 143.37,95.32 143.87,94.53 144.37,92.91 144.88,91.67 145.38,90.30 145.88,88.67 146.38,87.08 146.88,85.39 147.38,83.64 147.89,81.62 148.39,80.31 148.89,78.25 149.39,76.42 149.89,75.02 150.40,73.73 150.90,72.21 151.40,70.82 151.90,69.70 152.40,68.56 152.91,67.98 153.41,67.19 153.91,66.56 154.41,66.35 154.91,66.29 155.42,66.81 155.92,67.32 156.42,67.84 156.92,68.34 157.42,69.32 157.92,71.01 158.43,72.06 158.93,73.46 159.43,75.32 159.93,77.06 160.43,78.78 160.94,80.53 161.44,82.27 161.94,84.20 162.44,85.97 162.94,87.86 163.45,89.42 163.95,90.99 164.45,92.91 164.95,93.82 165.45,95.55 165.95,96.59 166.46,97.95 166.96,98.91 167.46,99.74 167.96,100.57 168.46,101.05 168.97,101.54 169.47,102.50 169.97,102.66 170.47,102.95 170.97,103.68 171.48,103.80 171.98,103.67 172.48,104.12 172.98,104.03 173.48,104.54 173.98,104.25 174.49,104.69 174.99,104.52 175.49,104.20 175.99,104.40 176.49,104.72 177.00,104.54 177.50,104.19 178.00,104.28" fill="none" stroke="#d44c44" stroke-width="1.00" stroke-linejoin="round"/>
<polyline points="180.30,48.42 180.80,48.26 181.30,48.08 181.81,48.44 182.31,48.15 182.81,48.17 183.31,48.23 183.81,48.36 184.31,48.55 184.82,48.22 185.32,48.52 185.82,48.50 186.32,48.03 186.82,47.91 187.33,47.95 187.83,48.34 188.33,48.18 188.83,48.35 189.33,48.36 189.84,48.16 190.34,48.07 190.84,47.77 191.34,47.72 191.84,48.17 192.34,48.08 192.85,48.11 193.35,47.98 193.85,48.02 194.35,47.99 194.85,48.12 195.36,47.63 195.86,47.85 196.36,47.72 196.86,48.01 197.36,48.02 197.87,47.63 198.37,47.50 198.87,47.58 199.37,47.59 199.87,47.82 200.37,47.53 200.88,47.57 201.38,46.99 201.88,46.53 202.38,45.36 202.88,44.21 203.39,42.35 203.89,40.69 204.39,39.20 204.89,38.15 205.39,37.91 205.90,38.99 206.40,39.94 206.90,40.82 207.40,42.02 207.90,43.36 208.40,43.81 208.91,44.42 209.41,45.07 209.91,45.27 210.41,45.37 210.91,45.47 211.42,45.28 211.92,45.21 212.42,45.10 212.92,45.12 213.42,45.27 213.93,45.39 214.43,45.67 214.93,45.72 215.43,45.78 215.93,45.83 216.43,46.11 216.94,46.10 217.44,46.47 217.94,46.49 218.44,46.62 218.94,46.52 219.45,46.68 219.95,46.89 220.45,47.18 220.95,47.25 221.45,47.95 221.96,50.10 222.46,53.70 222.96,60.41 223.46,68.60 223.96,76.25 224.46,79.15 224.97,78.85 225.47,77.33 225.97,74.85 226.47,71.82 226.97,69.43 227.48,66.81 227.98,65.34 228.48,63.58 228.98,62.57 229.48,61.27 229.99,60.82 230.49,59.74 230.99,59.55 231.49,58.65 231.99,57.86 232.49,57.76 233.00,57.10 233.50,56.11 234.00,55.73" fill="none" stroke="#5b9bd5" stroke-width="1.00" stroke-linejoin="round"/>
<polyline points="180.30,64.11 180.80,64.15 181.30,64.29 181.81,64.44 182.31,64.09 182.81,64.06 183.31,64.10 183.81,64.40 184.31,64.01 184.82,64.34 185.32,64.27 185.82,63.94 186.32,64.15 186.82,64.08 187.33,64.03 187.83,64.36 188.33,63.80 188.83,63.73 189.33,64.26 189.84,63.92 190.34,63.77 190.84,63.83 191.34,63.83 191.84,64.16 192.34,63.69 192.85,63.67 193.35,63.87 193.85,63.82 194.35,64.04 194.85,63.95 195.36,63.64 195.86,63.53 196.36,63.88 196.86,63.95 197.36,63.35 197.87,63.75 198.37,63.81 198.87,63.65 199.37,63.35 199.87,63.65 200.37,63.51 200.88,62.98 201.38,62.83 201.88,61.81 202.38,60.41 202.88,58.71 203.39,56.35 203.89,53.91 204.39,52.04 204.89,51.12 205.39,51.27 205.90,52.06 206.40,53.38 206.90,54.85 207.40,56.20 207.90,57.60 208.40,59.07 208.91,59.88 209.41,60.53 209.91,60.50 210.41,60.71 210.91,61.21 211.42,61.02 211.92,61.07 212.42,60.72 212.92,60.93 213.42,61.29 213.93,61.20 214.43,61.51 214.93,61.14 215.43,61.42 215.93,61.75 216.43,61.67 216.94,62.00 217.44,61.98 217.94,61.82 218.44,61.91 218.94,62.52 219.45,62.08 219.95,62.20 220.45,62.41 220.95,62.92 221.45,63.70 221.96,65.11 222.46,68.46 222.96,74.21 223.46,81.01 223.96,87.28 224.46,90.03 224.97,89.72 225.47,87.86 225.97,85.87 226.47,83.61 226.97,81.72 227.48,79.70 227.98,78.19 228.48,76.73 228.98,75.39 229.48,74.88 229.99,74.34 230.49,73.38 230.99,72.63 231.49,72.33 231.99,71.75 232.49,71.17 233.00,70.57 233.50,70.09 234.00,70.01" fill="none" stroke="#9fc5e8" stroke-width="1.00" stroke-linejoin="round"/>
<polyline points="180.30,75.15 180.80,75.21 181.30,75.24 181.81,75.57 182.31,75.31 182.81,75.42 183.31,75.03 183.81,75.25 184.31,75.43 184.82,75.21 185.32,75.44 185.82,75.38 186.32,75.05 186.82,74.81 187.33,75.24 187.83,74.84 188.33,74.75 188.83,75.16 189.33,75.20 189.84,75.18 190.34,75.22 190.84,74.75 191.34,74.66 191.84,74.66 192.34,75.15 192.85,74.61 193.35,74.61 193.85,74.51 194.35,74.50 194.85,74.47 195.36,74.64 195.86,74.50 196.36,74.57 196.86,74.92 197.36,74.44 197.87,74.80 198.37,74.73 198.87,74.60 199.37,74.57 199.87,74.63 200.37,74.41 200.88,73.96 201.38,73.54 201.88,72.59 202.38,71.19 202.88,69.36 203.39,66.28 203.89,63.20 204.39,61.09 204.89,60.11 205.39,60.00 205.90,61.09 206.40,62.27 206.90,64.14 207.40,66.44 207.90,67.83 208.40,69.40 208.91,70.49 209.41,71.06 209.91,71.37 210.41,71.55 210.91,72.20 211.42,72.06 211.92,72.22 212.42,71.96 212.92,72.26 213.42,72.26 213.93,72.19 214.43,72.23 214.93,72.33 215.43,72.28 215.93,72.50 216.43,72.84 216.94,72.65 217.44,73.16 217.94,73.06 218.44,73.21 218.94,73.43 219.45,73.40 219.95,73.18 220.45,73.39 220.95,73.57 221.45,74.43 221.96,76.96 222.46,80.81 222.96,87.80 223.46,96.32 223.96,103.59 224.46,107.15 224.97,106.73 225.47,104.63 225.97,101.94 226.47,99.33 226.97,96.52 227.48,94.21 227.98,92.01 228.48,90.77 228.98,89.67 229.48,88.23 229.99,87.76 230.49,86.94 230.99,86.23 231.49,85.85 231.99,84.91 232.49,84.55 233.00,83.45 233.50,83.37 234.00,82.27" fill="none" stroke="#d6e6f5" stroke-width="1.00" stroke-linejoin="round"/>
<polyline points="180.30,83.14 180.80,83.15 181.30,83.23 181.81,82.88 182.31,83.08 182.81,83.19 183.31,83.17 183.81,82.71 184.31,82.96 184.82,82.91 185.32,82.81 185.82,83.06 186.32,82.77 186.82,82.69 187.33,82.96 187.83,82.75 188.33,82.52 188.83,82.49 189.33,82.58 189.84,82.28 190.34,82.59 190.84,82.63 191.34,82.42 191.84,82.64 192.34,82.66 192.85,82.41 193.35,82.46 193.85,82.09 194.35,82.02 194.85,82.55 195.36,82.10 195.86,82.03 196.36,82.41 196.86,82.29 197.36,81.89 197.87,81.97 198.37,81.90 198.87,81.88 199.37,81.68 199.87,81.92 200.37,81.67 200.88,81.49 201.38,80.88 201.88,79.93 202.38,78.38 202.88,76.69 203.39,73.87 203.89,70.88 204.39,68.27 204.89,67.09 205.39,67.18 205.90,68.22 206.40,69.61 206.90,71.62 207.40,73.51 207.90,75.26 208.40,76.95 208.91,77.86 209.41,78.55 209.91,78.87 210.41,79.18 210.91,79.40 211.42,79.13 211.92,78.98 212.42,79.23 212.92,79.19 213.42,79.48 213.93,79.14 214.43,79.69 214.93,79.28 215.43,79.71 215.93,79.78 216.43,79.82 216.94,80.28 217.44,80.28 217.94,80.06 218.44,80.35 218.94,80.50 219.45,80.23 219.95,80.38 220.45,80.95 220.95,81.72 221.45,83.38 221.96,87.72 222.46,96.71 222.96,111.50 223.46,130.90 223.96,147.62 224.46,154.34 224.97,153.19 225.47,149.43 225.97,144.25 226.47,137.90 226.97,131.80 227.48,126.50 227.98,122.36 228.48,118.76 228.98,115.81 229.48,113.86 229.99,112.18 230.49,110.78 230.99,109.28 231.49,107.67 231.99,106.54 232.49,105.24 233.00,103.84 233.50,102.40 234.00,100.93" fill="none" stroke="#f8bfa6" stroke-width="1.00" stroke-linejoin="round"/>
<polyline points="180.30,93.82 180.80,93.82 181.30,93.93 181.81,93.93 182.31,93.89 182.81,93.54 183.31,93.86 183.81,93.51 184.31,93.40 184.82,93.24 185.32,93.45 185.82,93.20 186.32,93.24 186.82,93.40 187.33,93.47 187.83,93.42 188.33,92.98 188.83,92.93 189.33,93.01 189.84,93.16 190.34,93.29 190.84,93.23 191.34,93.28 191.84,93.04 192.34,93.03 192.85,92.79 193.35,92.76 193.85,92.66 194.35,92.83 194.85,92.83 195.36,92.78 195.86,92.63 196.36,92.62 196.86,92.48 197.36,92.78 197.87,92.60 198.37,92.66 198.87,92.66 199.37,92.29 199.87,92.12 200.37,92.08 200.88,92.18 201.38,91.56 201.88,90.29 202.38,88.80 202.88,86.04 203.39,83.22 203.89,79.47 204.39,77.18 204.89,75.98 205.39,75.77 205.90,76.87 206.40,78.45 206.90,80.70 207.40,82.91 207.90,84.96 208.40,86.46 208.91,87.80 209.41,88.47 209.91,89.19 210.41,89.35 210.91,89.34 211.42,89.79 211.92,89.41 212.42,89.54 212.92,89.77 213.42,89.73 213.93,89.92 214.43,89.79 214.93,90.04 215.43,89.67 215.93,90.19 216.43,90.06 216.94,90.17 217.44,90.54 217.94,90.62 218.44,90.46 218.94,90.55 219.45,90.57 219.95,91.08 220.45,91.15 220.95,91.65 221.45,93.70 221.96,97.94 222.46,107.36 222.96,123.03 223.46,143.10 223.96,160.36 224.46,167.45 224.97,166.67 225.47,162.21 225.97,156.83 226.47,150.71 226.97,143.99 227.48,138.89 227.98,134.28 228.48,130.22 228.98,127.62 229.48,125.48 229.99,123.14 230.49,121.73 230.99,120.33 231.49,119.03 231.99,117.29 232.49,116.16 233.00,114.70 233.50,113.35 234.00,111.85" fill="none" stroke="#ef8a70" stroke-width="1.00" stroke-linejoin="round"/>
<polyline points="180.30,104.43 180.80,104.52 181.30,104.48 181.81,104.52 182.31,104.14 182.81,104.52 183.31,104.25 183.81,104.33 184.31,104.30 184.82,104.37 185.32,103.95 185.82,103.97 186.32,104.15 186.82,104.04 187.33,104.11 187.83,103.84 188.33,104.16 188.83,103.57 189.33,103.96 189.84,103.72 190.34,103.48 190.84,103.84 191.34,103.43 191.84,103.51 192.34,103.53 192.85,103.40 193.35,103.37 193.85,103.29 194.35,103.72 194.85,103.23 195.36,103.24 195.86,103.16 196.36,103.63 196.86,103.38 197.36,103.51 197.87,103.57 198.37,103.25 198.87,103.15 199.37,103.10 199.87,102.96 200.37,103.03 200.88,102.99 201.38,102.20 201.88,101.38 202.38,99.85 202.88,97.47 203.39,94.44 203.89,91.28 204.39,88.50 204.89,87.40 205.39,87.80 205.90,88.55 206.40,90.35 206.90,92.13 207.40,94.40 207.90,96.07 208.40,97.93 208.91,99.07 209.41,99.32 209.91,100.14 210.41,100.02 210.91,100.61 211.42,100.17 211.92,100.14 212.42,100.60 212.92,100.45 213.42,100.13 213.93,100.47 214.43,100.77 214.93,100.48 215.43,100.94 215.93,100.79 216.43,101.00 216.94,101.08 217.44,100.99 217.94,101.29 218.44,101.45 218.94,101.59 219.45,101.62 219.95,101.52 220.45,102.06 220.95,102.64 221.45,105.02 221.96,109.35 222.46,119.65 222.96,135.77 223.46,157.12 223.96,175.43 224.46,183.25 224.97,182.43 225.47,178.08 225.97,171.60 226.47,165.42 226.97,158.68 227.48,152.43 227.98,147.85 228.48,144.00 228.98,140.69 229.48,138.61 229.99,136.24 230.49,134.72 230.99,133.03 231.49,131.86 231.99,130.05 232.49,128.50 233.00,127.44 233.50,125.56 234.00,124.08" fill="none" stroke="#d44c44" stroke-width="1.00" stroke-linejoin="round"/>
<text x="243.80" y="11.60" font-size="16.00" fill="#111">b</text>
<rect x="259.50" y="8.90" width="177.10" height="177.20" fill="none" stroke="#2b2b2b" stroke-width="0.90"/>
<line x1="342.40" y1="188.90" x2="344.40" y2="183.30" stroke="#2b2b2b" stroke-width="0.80"/><line x1="345.20" y1="188.90" x2="347.20" y2="183.30" stroke="#2b2b2b" stroke-width="0.80"/><rect x="344.00" y="185.50" width="1.60" height="1.20" fill="#fff"/>
<line x1="259.50" y1="186.10" x2="259.50" y2="183.30" stroke="#2b2b2b" stroke-width="0.80"/><line x1="294.20" y1="186.10" x2="294.20" y2="183.30" stroke="#2b2b2b" stroke-width="0.80"/><line x1="328.80" y1="186.10" x2="328.80" y2="183.30" stroke="#2b2b2b" stroke-width="0.80"/><line x1="367.20" y1="186.10" x2="367.20" y2="183.30" stroke="#2b2b2b" stroke-width="0.80"/><line x1="401.90" y1="186.10" x2="401.90" y2="183.30" stroke="#2b2b2b" stroke-width="0.80"/><line x1="436.60" y1="186.10" x2="436.60" y2="183.30" stroke="#2b2b2b" stroke-width="0.80"/>
<line x1="276.50" y1="186.10" x2="276.50" y2="184.50" stroke="#2b2b2b" stroke-width="0.80"/><line x1="311.50" y1="186.10" x2="311.50" y2="184.50" stroke="#2b2b2b" stroke-width="0.80"/><line x1="349.80" y1="186.10" x2="349.80" y2="184.50" stroke="#2b2b2b" stroke-width="0.80"/><line x1="384.50" y1="186.10" x2="384.50" y2="184.50" stroke="#2b2b2b" stroke-width="0.80"/><line x1="419.90" y1="186.10" x2="419.90" y2="184.50" stroke="#2b2b2b" stroke-width="0.80"/>
<text x="259.50" y="196.60" font-size="7.60" fill="#222" text-anchor="middle">4000</text>
<text x="294.20" y="196.60" font-size="7.60" fill="#222" text-anchor="middle">3500</text>
<text x="328.80" y="196.60" font-size="7.60" fill="#222" text-anchor="middle">3000</text>
<text x="367.20" y="196.60" font-size="7.60" fill="#222" text-anchor="middle">2000</text>
<text x="401.90" y="196.60" font-size="7.60" fill="#222" text-anchor="middle">1500</text>
<text x="436.00" y="196.60" font-size="7.60" fill="#222" text-anchor="middle">1000</text>
<text x="350.40" y="206.30" font-size="9.00" fill="#222" text-anchor="middle">Wavenumbers (cm<tspan baseline-shift="3.00" font-size="5.50">-1</tspan>)</text>
<text x="252.40" y="94.90" font-size="8.40" fill="#222" text-anchor="middle" transform="rotate(-90 252.40 94.90)">Absorbance (arb.units)</text>
<text x="260.80" y="17.00" font-size="7.30" fill="#222">CuRu/MCHS (CO<tspan baseline-shift="-1.80" font-size="5.20">2</tspan> + 0.1 M KNO<tspan baseline-shift="-1.80" font-size="5.20">3</tspan>)</text>
<text x="389.30" y="14.80" font-size="7.00" fill="#c8373a" text-anchor="middle">(1477)</text>
<text x="389.30" y="22.20" font-size="7.00" fill="#c8373a" text-anchor="middle">N-C-N</text>
<text x="415.70" y="14.80" font-size="7.00" fill="#c8373a" text-anchor="middle">(1425)</text>
<text x="415.70" y="22.20" font-size="7.00" fill="#c8373a" text-anchor="middle">C-N</text>
<line x1="304.90" y1="28.00" x2="304.90" y2="112.00" stroke="#999" stroke-width="0.70" stroke-dasharray="1.4 2.4"/>
<line x1="311.50" y1="28.00" x2="311.50" y2="130.00" stroke="#555" stroke-width="0.70" stroke-dasharray="1.4 2.4"/>
<line x1="375.30" y1="34.00" x2="375.30" y2="134.00" stroke="#555" stroke-width="0.70" stroke-dasharray="1.4 2.4"/>
<line x1="403.30" y1="28.00" x2="403.30" y2="140.00" stroke="#c8373a" stroke-width="0.70" stroke-dasharray="1.4 2.4"/>
<line x1="408.10" y1="28.00" x2="408.10" y2="140.00" stroke="#555" stroke-width="0.70" stroke-dasharray="1.4 2.4"/>
<line x1="413.00" y1="40.00" x2="413.00" y2="140.00" stroke="#777" stroke-width="0.70" stroke-dasharray="1.4 2.4"/>
<line x1="259.50" y1="24.50" x2="343.00" y2="24.50" stroke="#4477bb" stroke-width="1.00"/>
<line x1="346.20" y1="24.50" x2="436.60" y2="24.50" stroke="#4477bb" stroke-width="1.00"/>
<polyline points="259.80,40.87 260.30,41.13 260.80,40.50 261.30,40.65 261.80,41.09 262.30,40.85 262.80,40.44 263.30,40.56 263.80,40.90 264.30,40.56 264.80,40.23 265.30,40.81 265.80,40.24 266.30,40.56 266.80,40.51 267.30,40.37 267.80,40.69 268.30,40.10 268.80,40.37 269.30,40.00 269.80,40.56 270.30,39.95 270.80,40.18 271.30,40.38 271.80,40.39 272.30,39.81 272.80,40.33 273.30,40.29 273.80,39.90 274.30,40.19 274.80,39.81 275.30,39.75 275.80,39.76 276.30,39.87 276.80,40.24 277.30,40.01 277.80,40.40 278.30,40.37 278.80,39.94 279.30,40.16 279.80,39.97 280.30,40.41 280.80,40.51 281.30,40.60 281.80,40.36 282.30,40.84 282.80,40.62 283.30,41.26 283.80,41.13 284.30,41.01 284.80,41.76 285.30,41.87 285.80,41.56 286.30,42.10 286.80,41.75 287.30,42.01 287.80,42.10 288.30,42.30 288.80,41.81 289.30,41.79 289.80,41.83 290.30,41.93 290.80,42.13 291.30,41.95 291.80,41.37 292.30,41.63 292.80,41.04 293.30,40.68 293.80,40.75 294.30,40.77 294.80,40.47 295.30,39.84 295.80,39.77 296.30,39.01 296.80,38.66 297.30,38.88 297.80,38.34 298.30,37.65 298.80,37.44 299.30,37.42 299.80,36.60 300.30,36.38 300.80,36.52 301.30,35.84 301.80,35.69 302.30,35.44 302.80,35.22 303.30,34.87 303.80,34.60 304.30,34.78 304.80,34.55 305.30,34.49 305.80,33.69 306.30,33.61 306.80,33.95 307.30,33.44 307.80,33.65 308.30,33.20 308.80,33.16 309.30,33.27 309.80,33.03 310.30,33.04 310.80,32.65 311.30,33.18 311.80,33.00 312.30,32.73 312.80,32.89 313.30,33.02 313.80,33.25 314.30,32.65 314.80,33.33 315.30,33.16 315.80,32.84 316.30,33.14 316.80,33.48 317.30,33.14 317.80,33.57 318.30,33.65 318.80,33.76 319.30,33.48 319.80,33.59 320.30,34.36 320.80,33.91 321.30,34.03 321.80,34.41 322.30,34.13 322.80,34.73 323.30,34.85 323.80,34.65 324.30,34.93 324.80,34.94 325.30,35.16 325.80,34.88 326.30,34.85 326.80,34.97 327.30,35.62 327.80,35.71 328.30,35.26 328.80,35.63 329.30,35.32 329.80,35.61 330.30,35.49 330.80,35.64 331.30,35.90 331.80,35.89 332.30,35.95 332.80,35.88 333.30,35.64 333.80,35.44 334.30,35.88 334.80,35.75 335.30,35.39 335.80,35.55 336.30,35.30 336.80,35.79 337.30,35.88 337.80,35.21 338.30,35.62 338.80,35.79 339.30,35.76 339.80,35.62 340.30,35.16 340.80,35.45 341.30,35.26 341.80,35.40 342.30,35.21 342.80,35.08" fill="none" stroke="#2b4a86" stroke-width="1.00" stroke-linejoin="round"/>
<polyline points="259.80,55.22 260.30,55.05 260.80,54.95 261.30,55.41 261.80,55.12 262.30,55.14 262.80,54.99 263.30,54.81 263.80,55.00 264.30,54.83 264.80,54.91 265.30,54.77 265.80,54.84 266.30,54.50 266.80,54.24 267.30,54.18 267.80,54.53 268.30,54.08 268.80,54.37 269.30,54.29 269.80,53.84 270.30,54.30 270.80,53.72 271.30,54.26 271.80,54.20 272.30,53.72 272.80,54.05 273.30,54.02 273.80,53.57 274.30,53.94 274.80,53.55 275.30,54.11 275.80,53.98 276.30,54.21 276.80,53.62 277.30,53.87 277.80,54.17 278.30,54.27 278.80,54.11 279.30,54.76 279.80,54.91 280.30,54.74 280.80,54.86 281.30,55.48 281.80,55.58 282.30,56.06 282.80,56.26 283.30,56.53 283.80,56.61 284.30,57.04 284.80,57.62 285.30,58.15 285.80,58.27 286.30,58.80 286.80,58.94 287.30,59.43 287.80,59.47 288.30,59.40 288.80,59.38 289.30,59.37 289.80,59.34 290.30,59.83 290.80,59.70 291.30,59.40 291.80,58.67 292.30,58.72 292.80,57.95 293.30,58.03 293.80,57.37 294.30,56.89 294.80,56.22 295.30,55.47 295.80,55.14 296.30,54.58 296.80,53.42 297.30,52.89 297.80,52.45 298.30,51.76 298.80,50.94 299.30,50.35 299.80,50.12 300.30,49.07 300.80,48.47 301.30,48.28 301.80,47.50 302.30,47.47 302.80,46.63 303.30,46.64 303.80,45.87 304.30,45.87 304.80,45.44 305.30,45.12 305.80,44.47 306.30,44.17 306.80,43.83 307.30,43.72 307.80,43.86 308.30,43.26 308.80,43.22 309.30,43.32 309.80,42.91 310.30,42.93 310.80,42.78 311.30,43.03 311.80,42.59 312.30,43.18 312.80,42.90 313.30,42.99 313.80,42.90 314.30,42.91 314.80,43.30 315.30,43.31 315.80,43.35 316.30,42.89 316.80,43.39 317.30,43.75 317.80,43.67 318.30,43.71 318.80,43.94 319.30,43.75 319.80,44.28 320.30,44.46 320.80,44.11 321.30,44.56 321.80,44.77 322.30,44.74 322.80,45.11 323.30,45.41 323.80,45.52 324.30,45.23 324.80,45.23 325.30,45.83 325.80,45.76 326.30,46.01 326.80,46.12 327.30,45.79 327.80,46.07 328.30,45.94 328.80,46.34 329.30,46.31 329.80,46.03 330.30,46.25 330.80,46.34 331.30,46.10 331.80,46.08 332.30,46.29 332.80,46.01 333.30,46.30 333.80,46.60 334.30,46.51 334.80,45.95 335.30,46.46 335.80,46.36 336.30,46.32 336.80,45.81 337.30,46.29 337.80,45.85 338.30,46.24 338.80,45.85 339.30,45.84 339.80,45.66 340.30,46.09 340.80,45.59 341.30,46.00 341.80,45.69 342.30,45.38 342.80,45.68" fill="none" stroke="#3d78bd" stroke-width="1.00" stroke-linejoin="round"/>
<polyline points="259.80,73.60 260.30,73.09 260.80,73.19 261.30,73.08 261.80,73.36 262.30,73.24 262.80,73.32 263.30,72.68 263.80,72.83 264.30,72.48 264.80,72.54 265.30,72.66 265.80,72.25 266.30,72.30 266.80,72.53 267.30,72.39 267.80,72.08 268.30,72.26 268.80,72.34 269.30,71.71 269.80,72.19 270.30,72.04 270.80,71.72 271.30,71.52 271.80,72.01 272.30,71.51 272.80,71.27 273.30,71.21 273.80,71.67 274.30,71.44 274.80,71.53 275.30,71.43 275.80,71.25 276.30,71.52 276.80,71.07 277.30,71.17 277.80,71.35 278.30,71.19 278.80,71.37 279.30,71.18 279.80,71.29 280.30,70.86 280.80,71.03 281.30,71.13 281.80,71.04 282.30,71.21 282.80,71.19 283.30,71.39 283.80,71.72 284.30,71.61 284.80,71.68 285.30,71.63 285.80,71.72 286.30,72.22 286.80,72.03 287.30,71.99 287.80,71.65 288.30,71.97 288.80,71.48 289.30,71.49 289.80,71.75 290.30,71.29 290.80,70.97 291.30,70.76 291.80,70.53 292.30,70.11 292.80,69.31 293.30,68.71 293.80,68.42 294.30,67.86 294.80,67.27 295.30,67.20 295.80,66.55 296.30,65.54 296.80,65.14 297.30,64.32 297.80,64.03 298.30,63.05 298.80,62.25 299.30,61.58 299.80,61.15 300.30,60.29 300.80,59.88 301.30,59.47 301.80,58.51 302.30,57.79 302.80,57.76 303.30,56.85 303.80,56.02 304.30,55.47 304.80,55.02 305.30,54.92 305.80,54.59 306.30,53.92 306.80,53.28 307.30,53.15 307.80,53.26 308.30,52.65 308.80,52.71 309.30,52.41 309.80,51.63 310.30,51.98 310.80,51.84 311.30,51.66 311.80,51.44 312.30,51.70 312.80,51.37 313.30,51.68 313.80,51.80 314.30,52.30 314.80,52.42 315.30,52.21 315.80,52.61 316.30,52.65 316.80,53.45 317.30,53.72 317.80,53.65 318.30,54.23 318.80,54.55 319.30,54.59 319.80,55.39 320.30,55.60 320.80,56.14 321.30,56.33 321.80,56.33 322.30,56.91 322.80,57.05 323.30,58.03 323.80,58.32 324.30,58.61 324.80,58.55 325.30,58.66 325.80,59.51 326.30,59.81 326.80,59.45 327.30,59.95 327.80,59.86 328.30,60.53 328.80,60.71 329.30,60.42 329.80,60.80 330.30,60.97 330.80,60.88 331.30,61.39 331.80,61.16 332.30,61.07 332.80,61.35 333.30,61.52 333.80,61.18 334.30,61.28 334.80,61.76 335.30,61.52 335.80,61.36 336.30,61.40 336.80,61.10 337.30,61.15 337.80,61.19 338.30,61.32 338.80,61.03 339.30,60.97 339.80,60.82 340.30,61.15 340.80,60.81 341.30,61.23 341.80,61.13 342.30,60.51 342.80,60.56" fill="none" stroke="#6aaad8" stroke-width="1.00" stroke-linejoin="round"/>
<polyline points="259.80,89.78 260.30,90.16 260.80,89.69 261.30,89.83 261.80,89.90 262.30,89.90 262.80,89.59 263.30,89.54 263.80,89.12 264.30,89.33 264.80,89.21 265.30,89.46 265.80,89.17 266.30,89.24 266.80,88.93 267.30,88.67 267.80,89.06 268.30,88.96 268.80,88.57 269.30,88.29 269.80,88.51 270.30,88.41 270.80,88.53 271.30,88.33 271.80,88.19 272.30,88.16 272.80,87.94 273.30,87.63 273.80,87.57 274.30,88.11 274.80,87.96 275.30,87.51 275.80,87.85 276.30,87.53 276.80,87.17 277.30,87.63 277.80,87.38 278.30,87.57 278.80,87.33 279.30,86.87 279.80,87.19 280.30,87.25 280.80,87.28 281.30,86.84 281.80,86.93 282.30,87.00 282.80,86.57 283.30,86.99 283.80,86.88 284.30,86.30 284.80,86.59 285.30,86.34 285.80,86.10 286.30,86.26 286.80,86.36 287.30,85.90 287.80,85.39 288.30,85.42 288.80,85.36 289.30,85.18 289.80,84.68 290.30,83.84 290.80,84.08 291.30,83.37 291.80,82.52 292.30,82.02 292.80,81.42 293.30,81.21 293.80,80.21 294.30,79.98 294.80,78.76 295.30,78.31 295.80,77.46 296.30,76.36 296.80,75.49 297.30,75.25 297.80,74.42 298.30,72.92 298.80,72.43 299.30,71.68 299.80,70.69 300.30,69.74 300.80,68.42 301.30,67.76 301.80,66.68 302.30,66.08 302.80,65.02 303.30,64.25 303.80,63.41 304.30,62.26 304.80,61.70 305.30,60.52 305.80,59.89 306.30,59.74 306.80,58.75 307.30,58.38 307.80,57.79 308.30,57.12 308.80,56.95 309.30,56.84 309.80,56.16 310.30,55.97 310.80,55.72 311.30,55.64 311.80,56.09 312.30,56.08 312.80,56.40 313.30,56.40 313.80,56.87 314.30,56.70 314.80,57.07 315.30,57.54 315.80,58.16 316.30,59.14 316.80,59.19 317.30,59.99 317.80,60.37 318.30,61.04 318.80,62.12 319.30,62.89 319.80,63.56 320.30,64.59 320.80,65.31 321.30,66.12 321.80,66.60 322.30,67.10 322.80,67.72 323.30,68.86 323.80,69.11 324.30,69.66 324.80,70.77 325.30,70.97 325.80,71.88 326.30,72.13 326.80,72.79 327.30,72.98 327.80,73.67 328.30,74.05 328.80,74.38 329.30,74.64 329.80,75.27 330.30,75.64 330.80,75.55 331.30,75.67 331.80,76.03 332.30,76.52 332.80,76.38 333.30,76.77 333.80,76.48 334.30,77.02 334.80,76.70 335.30,76.82 335.80,77.22 336.30,77.07 336.80,77.21 337.30,76.97 337.80,77.23 338.30,76.96 338.80,77.07 339.30,77.01 339.80,77.31 340.30,77.15 340.80,76.96 341.30,77.12 341.80,76.90 342.30,76.92 342.80,76.72" fill="none" stroke="#c5dcf0" stroke-width="1.00" stroke-linejoin="round"/>
<polyline points="259.80,103.94 260.30,103.93 260.80,104.06 261.30,103.49 261.80,103.42 262.30,103.19 262.80,103.16 263.30,102.99 263.80,102.99 264.30,103.15 264.80,103.38 265.30,103.08 265.80,102.76 266.30,102.69 266.80,102.79 267.30,102.44 267.80,102.17 268.30,102.61 268.80,102.35 269.30,101.90 269.80,101.78 270.30,101.70 270.80,102.21 271.30,101.52 271.80,101.78 272.30,101.92 272.80,101.17 273.30,101.32 273.80,101.29 274.30,101.50 274.80,100.89 275.30,100.84 275.80,100.74 276.30,100.50 276.80,100.84 277.30,100.84 277.80,100.47 278.30,100.09 278.80,100.46 279.30,100.38 279.80,100.21 280.30,99.87 280.80,100.11 281.30,99.86 281.80,99.71 282.30,99.54 282.80,99.19 283.30,99.20 283.80,99.28 284.30,99.03 284.80,98.61 285.30,98.74 285.80,98.53 286.30,97.73 286.80,97.54 287.30,97.30 287.80,96.83 288.30,96.99 288.80,96.53 289.30,96.04 289.80,95.89 290.30,94.95 290.80,94.30 291.30,93.66 291.80,93.19 292.30,92.88 292.80,92.00 293.30,90.86 293.80,90.33 294.30,89.21 294.80,88.73 295.30,87.46 295.80,86.53 296.30,85.85 296.80,84.95 297.30,83.73 297.80,82.41 298.30,81.53 298.80,80.12 299.30,78.78 299.80,77.79 300.30,76.89 300.80,75.66 301.30,74.17 301.80,73.44 302.30,72.26 302.80,70.72 303.30,70.07 303.80,68.48 304.30,67.28 304.80,66.57 305.30,65.83 305.80,64.72 306.30,63.82 306.80,62.97 307.30,62.08 307.80,61.43 308.30,60.91 308.80,60.49 309.30,60.34 309.80,59.38 310.30,59.24 310.80,59.55 311.30,59.26 311.80,58.87 312.30,59.23 312.80,59.58 313.30,60.05 313.80,59.85 314.30,60.89 314.80,61.34 315.30,61.62 315.80,62.49 316.30,63.45 316.80,63.85 317.30,65.03 317.80,65.84 318.30,66.44 318.80,67.55 319.30,68.65 319.80,69.46 320.30,71.05 320.80,71.58 321.30,72.59 321.80,73.85 322.30,74.79 322.80,75.62 323.30,76.58 323.80,77.62 324.30,78.79 324.80,79.07 325.30,80.47 325.80,81.26 326.30,81.82 326.80,82.60 327.30,82.96 327.80,83.97 328.30,84.38 328.80,84.86 329.30,85.18 329.80,85.46 330.30,86.18 330.80,86.58 331.30,86.39 331.80,86.89 332.30,87.30 332.80,87.30 333.30,87.43 333.80,87.64 334.30,87.66 334.80,87.85 335.30,88.13 335.80,88.28 336.30,88.43 336.80,88.24 337.30,88.14 337.80,88.70 338.30,88.49 338.80,88.51 339.30,88.49 339.80,88.20 340.30,88.34 340.80,88.10 341.30,88.28 341.80,88.33 342.30,87.70 342.80,88.18" fill="none" stroke="#fdd3c0" stroke-width="1.00" stroke-linejoin="round"/>
<polyline points="259.80,117.04 260.30,117.09 260.80,116.71 261.30,116.79 261.80,116.50 262.30,116.36 262.80,116.45 263.30,116.24 263.80,116.27 264.30,116.48 264.80,115.88 265.30,116.19 265.80,115.75 266.30,116.11 266.80,115.97 267.30,115.50 267.80,115.85 268.30,115.66 268.80,115.11 269.30,115.24 269.80,115.35 270.30,115.40 270.80,114.78 271.30,114.73 271.80,115.00 272.30,115.03 272.80,114.32 273.30,114.21 273.80,114.57 274.30,114.17 274.80,114.11 275.30,114.35 275.80,114.16 276.30,114.00 276.80,114.04 277.30,113.84 277.80,113.78 278.30,113.56 278.80,113.41 279.30,112.93 279.80,113.41 280.30,113.29 280.80,112.77 281.30,112.84 281.80,112.27 282.30,112.47 282.80,112.40 283.30,112.01 283.80,111.92 284.30,112.02 284.80,111.32 285.30,111.31 285.80,110.81 286.30,110.74 286.80,110.79 287.30,110.27 287.80,109.50 288.30,109.68 288.80,109.10 289.30,108.53 289.80,107.85 290.30,107.30 290.80,106.61 291.30,106.27 291.80,105.17 292.30,105.04 292.80,103.66 293.30,103.17 293.80,102.24 294.30,101.14 294.80,100.09 295.30,99.16 295.80,98.00 296.30,97.32 296.80,95.93 297.30,94.63 297.80,93.50 298.30,92.11 298.80,90.58 299.30,89.18 299.80,88.51 300.30,87.09 300.80,85.22 301.30,84.24 301.80,83.02 302.30,81.77 302.80,79.89 303.30,78.66 303.80,77.60 304.30,76.54 304.80,75.01 305.30,74.34 305.80,73.33 306.30,72.13 306.80,71.50 307.30,70.35 307.80,69.90 308.30,68.92 308.80,68.36 309.30,67.85 309.80,67.70 310.30,67.53 310.80,66.77 311.30,67.05 311.80,67.24 312.30,67.27 312.80,67.19 313.30,67.63 313.80,68.44 314.30,68.51 314.80,69.66 315.30,69.99 315.80,70.88 316.30,71.88 316.80,72.80 317.30,73.73 317.80,74.97 318.30,75.89 318.80,77.21 319.30,78.17 319.80,79.29 320.30,80.09 320.80,81.86 321.30,82.56 321.80,83.72 322.30,84.74 322.80,86.27 323.30,87.19 323.80,88.45 324.30,89.58 324.80,90.66 325.30,91.51 325.80,92.43 326.30,92.96 326.80,93.54 327.30,94.79 327.80,95.65 328.30,95.94 328.80,96.85 329.30,97.17 329.80,97.56 330.30,98.34 330.80,98.22 331.30,98.81 331.80,99.38 332.30,99.26 332.80,99.85 333.30,99.97 333.80,100.05 334.30,100.35 334.80,100.73 335.30,100.79 335.80,100.83 336.30,101.03 336.80,100.83 337.30,100.98 337.80,100.67 338.30,101.06 338.80,101.06 339.30,101.01 339.80,101.10 340.30,101.19 340.80,100.96 341.30,101.08 341.80,100.80 342.30,100.47 342.80,100.81" fill="none" stroke="#f7a088" stroke-width="1.00" stroke-linejoin="round"/>
<polyline points="259.80,132.77 260.30,132.32 260.80,132.34 261.30,132.42 261.80,131.87 262.30,131.96 262.80,131.90 263.30,132.05 263.80,131.29 264.30,131.21 264.80,131.28 265.30,131.52 265.80,131.42 266.30,130.82 266.80,131.26 267.30,130.87 267.80,131.07 268.30,130.94 268.80,130.24 269.30,130.74 269.80,130.29 270.30,129.95 270.80,130.05 271.30,129.67 271.80,130.03 272.30,129.78 272.80,129.36 273.30,129.33 273.80,129.41 274.30,129.49 274.80,129.02 275.30,128.79 275.80,128.85 276.30,128.53 276.80,128.60 277.30,128.86 277.80,128.26 278.30,128.22 278.80,128.43 279.30,127.90 279.80,127.71 280.30,127.67 280.80,127.78 281.30,127.71 281.80,127.53 282.30,126.94 282.80,126.92 283.30,126.62 283.80,126.73 284.30,126.37 284.80,126.41 285.30,126.02 285.80,125.75 286.30,125.16 286.80,125.08 287.30,124.38 287.80,124.00 288.30,124.09 288.80,123.13 289.30,122.48 289.80,122.42 290.30,121.43 290.80,120.84 291.30,120.32 291.80,119.80 292.30,118.34 292.80,117.90 293.30,116.54 293.80,116.07 294.30,114.75 294.80,113.46 295.30,112.54 295.80,111.53 296.30,109.93 296.80,108.83 297.30,107.79 297.80,106.46 298.30,105.00 298.80,103.41 299.30,102.13 299.80,100.28 300.30,98.98 300.80,97.45 301.30,95.85 301.80,94.32 302.30,92.88 302.80,92.09 303.30,90.27 303.80,88.86 304.30,87.77 304.80,86.54 305.30,85.45 305.80,84.30 306.30,82.63 306.80,81.76 307.30,80.94 307.80,80.05 308.30,79.49 308.80,78.64 309.30,78.56 309.80,77.74 310.30,77.81 310.80,77.63 311.30,77.34 311.80,77.10 312.30,77.09 312.80,78.01 313.30,78.34 313.80,78.52 314.30,78.82 314.80,80.01 315.30,80.47 315.80,81.45 316.30,82.79 316.80,83.78 317.30,84.82 317.80,85.43 318.30,87.03 318.80,88.23 319.30,89.56 319.80,90.35 320.30,92.27 320.80,93.05 321.30,94.22 321.80,95.96 322.30,97.27 322.80,98.49 323.30,99.26 323.80,100.53 324.30,101.87 324.80,103.00 325.30,104.13 325.80,104.61 326.30,106.00 326.80,106.57 327.30,107.49 327.80,108.14 328.30,109.10 328.80,109.59 329.30,110.47 329.80,110.79 330.30,111.19 330.80,111.80 331.30,112.19 331.80,112.56 332.30,113.39 332.80,113.39 333.30,113.84 333.80,113.90 334.30,114.33 334.80,114.14 335.30,114.26 335.80,114.22 336.30,114.27 336.80,114.80 337.30,114.54 337.80,114.68 338.30,114.88 338.80,114.59 339.30,114.32 339.80,114.66 340.30,114.68 340.80,114.72 341.30,114.31 341.80,114.03 342.30,114.34 342.80,114.34" fill="none" stroke="#e6453a" stroke-width="1.00" stroke-linejoin="round"/>
<polyline points="259.80,147.10 260.30,147.04 260.80,146.95 261.30,146.76 261.80,146.77 262.30,146.57 262.80,146.22 263.30,146.37 263.80,145.98 264.30,145.93 264.80,145.93 265.30,146.31 265.80,145.86 266.30,145.80 266.80,145.95 267.30,145.82 267.80,145.48 268.30,145.13 268.80,145.23 269.30,145.00 269.80,145.31 270.30,144.55 270.80,144.68 271.30,144.79 271.80,144.62 272.30,144.48 272.80,144.51 273.30,144.04 273.80,144.35 274.30,144.30 274.80,143.57 275.30,143.68 275.80,143.59 276.30,143.50 276.80,143.51 277.30,143.20 277.80,143.38 278.30,143.44 278.80,143.38 279.30,143.22 279.80,142.68 280.30,142.95 280.80,142.87 281.30,142.65 281.80,142.59 282.30,142.20 282.80,142.42 283.30,141.91 283.80,141.99 284.30,141.63 284.80,141.64 285.30,141.10 285.80,141.07 286.30,141.15 286.80,140.51 287.30,140.53 287.80,140.23 288.30,139.70 288.80,139.29 289.30,138.51 289.80,138.18 290.30,137.93 290.80,137.31 291.30,136.32 291.80,135.49 292.30,135.06 292.80,133.89 293.30,133.16 293.80,131.68 294.30,130.78 294.80,130.08 295.30,128.76 295.80,127.74 296.30,126.27 296.80,125.35 297.30,123.42 297.80,122.25 298.30,121.14 298.80,119.66 299.30,118.36 299.80,116.80 300.30,115.53 300.80,114.16 301.30,112.39 301.80,110.76 302.30,109.51 302.80,108.21 303.30,107.31 303.80,105.97 304.30,104.51 304.80,102.93 305.30,102.28 305.80,100.62 306.30,99.60 306.80,99.09 307.30,97.90 307.80,97.14 308.30,96.35 308.80,95.56 309.30,95.13 309.80,94.68 310.30,94.34 310.80,94.15 311.30,94.15 311.80,94.39 312.30,94.51 312.80,94.95 313.30,95.32 313.80,95.58 314.30,96.16 314.80,96.42 315.30,97.21 315.80,98.56 316.30,99.52 316.80,100.08 317.30,101.47 317.80,102.56 318.30,103.23 318.80,104.26 319.30,105.48 319.80,106.66 320.30,107.85 320.80,109.41 321.30,110.40 321.80,112.06 322.30,112.99 322.80,114.16 323.30,115.43 323.80,116.43 324.30,117.75 324.80,118.13 325.30,119.39 325.80,120.36 326.30,121.51 326.80,121.96 327.30,122.69 327.80,123.38 328.30,124.43 328.80,124.81 329.30,125.13 329.80,126.24 330.30,126.12 330.80,126.79 331.30,127.40 331.80,127.78 332.30,127.81 332.80,128.17 333.30,128.54 333.80,128.25 334.30,128.93 334.80,129.06 335.30,128.97 335.80,128.80 336.30,128.96 336.80,129.39 337.30,128.98 337.80,128.89 338.30,128.94 338.80,129.18 339.30,129.15 339.80,128.99 340.30,129.13 340.80,129.17 341.30,129.27 341.80,129.23 342.30,128.61 342.80,128.87" fill="none" stroke="#b3262f" stroke-width="1.00" stroke-linejoin="round"/>
<polyline points="259.80,156.53 260.30,156.14 260.80,156.45 261.30,156.06 261.80,156.40 262.30,155.78 262.80,156.08 263.30,155.56 263.80,156.02 264.30,155.86 264.80,155.22 265.30,155.50 265.80,155.09 266.30,155.20 266.80,155.34 267.30,154.75 267.80,154.69 268.30,154.49 268.80,154.38 269.30,154.59 269.80,154.26 270.30,154.13 270.80,154.43 271.30,154.05 271.80,153.99 272.30,153.89 272.80,154.15 273.30,153.66 273.80,153.84 274.30,153.95 274.80,153.61 275.30,153.33 275.80,153.16 276.30,153.45 276.80,153.05 277.30,153.15 277.80,153.39 278.30,153.32 278.80,152.93 279.30,152.96 279.80,152.88 280.30,152.87 280.80,153.00 281.30,152.73 281.80,152.72 282.30,152.74 282.80,152.87 283.30,153.01 283.80,152.85 284.30,152.90 284.80,153.11 285.30,153.06 285.80,152.74 286.30,152.96 286.80,152.21 287.30,152.44 287.80,152.30 288.30,151.85 288.80,151.56 289.30,151.09 289.80,151.03 290.30,150.16 290.80,149.88 291.30,149.39 291.80,148.82 292.30,148.17 292.80,146.85 293.30,146.01 293.80,145.20 294.30,144.63 294.80,143.45 295.30,142.51 295.80,141.21 296.30,140.14 296.80,139.29 297.30,137.68 297.80,136.49 298.30,135.40 298.80,134.29 299.30,133.05 299.80,131.52 300.30,129.90 300.80,128.67 301.30,127.37 301.80,126.11 302.30,125.34 302.80,123.95 303.30,122.59 303.80,121.97 304.30,120.74 304.80,119.63 305.30,118.87 305.80,117.42 306.30,116.79 306.80,116.07 307.30,115.26 307.80,114.40 308.30,114.20 308.80,113.74 309.30,113.40 309.80,112.78 310.30,112.23 310.80,112.08 311.30,111.84 311.80,112.50 312.30,112.21 312.80,112.29 313.30,112.38 313.80,112.95 314.30,113.86 314.80,114.17 315.30,114.35 315.80,115.12 316.30,116.34 316.80,116.69 317.30,117.83 317.80,118.62 318.30,119.12 318.80,120.62 319.30,121.55 319.80,122.59 320.30,123.00 320.80,124.07 321.30,125.11 321.80,126.43 322.30,127.21 322.80,128.43 323.30,129.21 323.80,129.61 324.30,130.83 324.80,131.29 325.30,132.59 325.80,132.78 326.30,133.67 326.80,134.57 327.30,135.35 327.80,135.44 328.30,136.47 328.80,136.46 329.30,137.11 329.80,137.81 330.30,137.97 330.80,138.46 331.30,138.62 331.80,139.03 332.30,139.36 332.80,139.35 333.30,139.33 333.80,139.36 334.30,139.80 334.80,139.74 335.30,139.89 335.80,139.87 336.30,139.91 336.80,140.49 337.30,140.06 337.80,140.46 338.30,139.83 338.80,140.16 339.30,140.37 339.80,140.14 340.30,139.81 340.80,140.07 341.30,139.93 341.80,139.84 342.30,139.79 342.80,139.80" fill="none" stroke="#2d4f8e" stroke-width="1.00" stroke-linejoin="round"/>
<polyline points="346.40,33.27 346.90,33.44 347.40,33.20 347.90,33.56 348.40,33.30 348.90,33.19 349.40,33.56 349.90,33.47 350.40,33.50 350.90,33.34 351.41,32.99 351.91,33.11 352.41,32.99 352.91,33.36 353.41,32.79 353.91,33.32 354.41,32.86 354.91,32.94 355.41,33.15 355.91,33.16 356.41,33.03 356.91,33.04 357.41,33.04 357.91,33.03 358.41,32.67 358.91,32.78 359.41,32.57 359.91,32.93 360.42,32.72 360.92,32.66 361.42,32.67 361.92,33.12 362.42,32.53 362.92,33.05 363.42,33.03 363.92,32.52 364.42,32.94 364.92,32.48 365.42,32.77 365.92,32.39 366.42,32.51 366.92,32.61 367.42,32.51 367.92,32.80 368.42,32.66 368.92,32.21 369.43,32.56 369.93,32.21 370.43,32.25 370.93,32.38 371.43,32.31 371.93,32.46 372.43,32.74 372.93,32.58 373.43,32.40 373.93,32.58 374.43,32.10 374.93,32.46 375.43,32.62 375.93,32.58 376.43,32.26 376.93,32.30 377.43,32.13 377.94,32.15 378.44,32.52 378.94,31.90 379.44,32.39 379.94,31.92 380.44,32.14 380.94,32.11 381.44,31.74 381.94,32.03 382.44,31.68 382.94,32.31 383.44,32.29 383.94,32.02 384.44,32.13 384.94,32.08 385.44,31.69 385.94,31.56 386.44,31.72 386.94,31.68 387.45,31.60 387.95,31.53 388.45,31.29 388.95,30.74 389.45,29.79 389.95,29.35 390.45,28.82 390.95,28.28 391.45,27.05 391.95,27.13 392.45,26.82 392.95,26.81 393.45,27.44 393.95,27.42 394.45,27.86 394.95,28.62 395.45,29.22 395.95,29.39 396.46,30.08 396.96,30.27 397.46,30.91 397.96,30.63 398.46,31.33 398.96,31.18 399.46,31.04 399.96,31.15 400.46,31.43 400.96,31.26 401.46,30.90 401.96,30.81 402.46,30.62 402.96,30.82 403.46,30.87 403.96,30.47 404.46,31.06 404.96,30.96 405.47,31.21 405.97,30.78 406.47,30.66 406.97,30.79 407.47,30.87 407.97,30.43 408.47,30.39 408.97,30.58 409.47,30.32 409.97,30.55 410.47,30.76 410.97,31.08 411.47,30.86 411.97,31.00 412.47,30.80 412.97,30.91 413.47,30.88 413.98,30.50 414.48,30.87 414.98,30.73 415.48,30.90 415.98,30.70 416.48,30.45 416.98,30.41 417.48,30.79 417.98,31.04 418.48,31.65 418.98,32.47 419.48,34.40 419.98,36.70 420.48,38.50 420.98,38.28 421.48,37.76 421.98,37.95 422.48,37.47 422.99,37.14 423.49,36.19 423.99,36.11 424.49,35.18 424.99,34.76 425.49,33.74 425.99,33.70 426.49,33.23 426.99,32.41 427.49,32.00 427.99,31.18 428.49,31.16 428.99,30.73 429.49,30.36 429.99,29.81 430.49,28.85 430.99,28.57 431.49,27.73 432.00,26.62 432.50,25.83 433.00,25.19 433.50,24.56 434.00,24.39 434.50,24.10 435.00,24.22 435.50,24.56 436.00,25.48 436.50,26.59" fill="none" stroke="#2b4a86" stroke-width="1.00" stroke-linejoin="round"/>
<polyline points="346.40,43.80 346.90,43.81 347.40,43.96 347.90,43.59 348.40,43.56 348.90,43.79 349.40,43.62 349.90,43.50 350.40,43.50 350.90,43.42 351.41,43.28 351.91,43.57 352.41,43.73 352.91,43.55 353.41,43.49 353.91,43.25 354.41,43.29 354.91,43.06 355.41,43.44 355.91,43.11 356.41,43.07 356.91,43.53 357.41,43.05 357.91,43.47 358.41,43.18 358.91,43.26 359.41,43.13 359.91,42.79 360.42,43.14 360.92,42.79 361.42,42.86 361.92,42.64 362.42,42.56 362.92,42.75 363.42,42.47 363.92,42.70 364.42,43.00 364.92,43.07 365.42,42.64 365.92,42.39 366.42,42.53 366.92,42.30 367.42,42.38 367.92,42.63 368.42,42.60 368.92,42.16 369.43,42.45 369.93,42.38 370.43,42.33 370.93,42.12 371.43,42.27 371.93,42.04 372.43,42.42 372.93,42.36 373.43,42.32 373.93,42.14 374.43,42.49 374.93,42.05 375.43,41.91 375.93,42.00 376.43,42.34 376.93,41.79 377.43,42.18 377.94,42.28 378.44,42.19 378.94,41.89 379.44,41.85 379.94,42.11 380.44,41.97 380.94,42.01 381.44,41.54 381.94,41.81 382.44,41.87 382.94,41.49 383.44,41.44 383.94,41.86 384.44,41.64 384.94,41.49 385.44,41.51 385.94,41.30 386.44,41.21 386.94,41.00 387.45,41.02 387.95,40.55 388.45,40.64 388.95,40.07 389.45,39.01 389.95,37.68 390.45,36.96 390.95,35.59 391.45,34.84 391.95,34.07 392.45,34.13 392.95,33.96 393.45,34.46 393.95,35.00 394.45,35.86 394.95,36.96 395.45,37.50 395.95,38.37 396.46,38.98 396.96,39.38 397.46,39.48 397.96,39.78 398.46,40.06 398.96,40.47 399.46,40.43 399.96,40.88 400.46,40.36 400.96,40.27 401.46,40.52 401.96,40.33 402.46,39.75 402.96,39.77 403.46,39.75 403.96,40.03 404.46,40.11 404.96,40.31 405.47,40.15 405.97,40.41 406.47,39.96 406.97,39.63 407.47,39.30 407.97,39.63 408.47,39.48 408.97,39.56 409.47,39.99 409.97,39.92 410.47,39.81 410.97,40.13 411.47,40.30 411.97,39.76 412.47,40.27 412.97,39.87 413.47,39.63 413.98,39.88 414.48,40.04 414.98,39.81 415.48,39.63 415.98,39.95 416.48,39.46 416.98,39.85 417.48,39.74 417.98,40.40 418.48,41.84 418.98,45.09 419.48,50.58 419.98,57.10 420.48,60.32 420.98,60.22 421.48,60.00 421.98,59.38 422.48,57.89 422.99,56.90 423.49,55.27 423.99,54.16 424.49,52.04 424.99,50.97 425.49,49.18 425.99,47.63 426.49,46.21 426.99,44.71 427.49,43.61 427.99,42.28 428.49,41.35 428.99,40.49 429.49,39.46 429.99,38.16 430.49,37.19 430.99,36.04 431.49,34.66 432.00,32.70 432.50,31.63 433.00,30.07 433.50,29.38 434.00,28.36 434.50,27.77 435.00,27.85 435.50,28.65 436.00,30.10 436.50,32.61" fill="none" stroke="#3d78bd" stroke-width="1.00" stroke-linejoin="round"/>
<polyline points="346.40,59.40 346.90,58.83 347.40,59.35 347.90,58.80 348.40,58.92 348.90,59.18 349.40,58.76 349.90,58.83 350.40,58.55 350.90,59.07 351.41,59.04 351.91,58.43 352.41,58.36 352.91,58.56 353.41,58.56 353.91,58.70 354.41,58.35 354.91,58.49 355.41,58.15 355.91,58.14 356.41,58.01 356.91,58.30 357.41,58.27 357.91,58.27 358.41,58.45 358.91,57.97 359.41,57.96 359.91,58.00 360.42,58.30 360.92,57.81 361.42,57.76 361.92,57.82 362.42,57.96 362.92,57.64 363.42,57.52 363.92,57.87 364.42,57.72 364.92,57.69 365.42,57.25 365.92,57.38 366.42,57.23 366.92,57.38 367.42,57.72 367.92,57.73 368.42,57.60 368.92,57.22 369.43,57.32 369.93,57.51 370.43,57.08 370.93,57.08 371.43,57.26 371.93,56.96 372.43,57.02 372.93,56.90 373.43,57.18 373.93,56.93 374.43,56.60 374.93,56.50 375.43,56.90 375.93,56.49 376.43,56.84 376.93,56.48 377.43,56.66 377.94,56.49 378.44,56.67 378.94,56.26 379.44,56.42 379.94,56.55 380.44,56.23 380.94,56.70 381.44,56.66 381.94,56.61 382.44,56.54 382.94,56.51 383.44,56.21 383.94,56.36 384.44,56.01 384.94,55.73 385.44,56.28 385.94,56.21 386.44,55.65 386.94,55.58 387.45,55.24 387.95,55.20 388.45,54.26 388.95,53.92 389.45,52.33 389.95,51.33 390.45,50.21 390.95,48.64 391.45,47.23 391.95,46.38 392.45,46.58 392.95,46.31 393.45,46.92 393.95,47.87 394.45,48.57 394.95,49.37 395.45,50.90 395.95,51.79 396.46,52.54 396.96,52.87 397.46,53.68 397.96,54.42 398.46,54.38 398.96,54.38 399.46,54.97 399.96,54.60 400.46,54.72 400.96,54.40 401.46,54.75 401.96,54.41 402.46,54.05 402.96,53.79 403.46,53.56 403.96,53.67 404.46,53.84 404.96,53.66 405.47,54.25 405.97,54.25 406.47,53.58 406.97,53.39 407.47,53.50 407.97,53.05 408.47,52.87 408.97,53.40 409.47,53.82 409.97,53.59 410.47,53.90 410.97,53.94 411.47,53.95 411.97,53.96 412.47,54.15 412.97,54.07 413.47,54.05 413.98,53.87 414.48,53.88 414.98,53.84 415.48,53.79 415.98,53.71 416.48,53.73 416.98,53.23 417.48,53.45 417.98,54.46 418.48,56.39 418.98,60.97 419.48,68.91 419.98,77.01 420.48,82.20 420.98,81.92 421.48,81.74 421.98,80.29 422.48,79.34 422.99,77.18 423.49,75.54 423.99,72.96 424.49,70.99 424.99,68.65 425.49,66.81 425.99,64.60 426.49,62.54 426.99,60.40 427.49,59.03 427.99,57.32 428.49,55.82 428.99,54.91 429.49,53.50 429.99,52.49 430.49,50.99 430.99,48.95 431.49,48.02 432.00,46.13 432.50,44.86 433.00,42.90 433.50,41.75 434.00,40.95 434.50,40.09 435.00,40.14 435.50,41.04 436.00,42.84 436.50,45.17" fill="none" stroke="#6aaad8" stroke-width="1.00" stroke-linejoin="round"/>
<polyline points="346.40,74.26 346.90,74.10 347.40,74.47 347.90,74.11 348.40,73.78 348.90,74.18 349.40,73.65 349.90,73.68 350.40,73.53 350.90,73.86 351.41,73.95 351.91,73.73 352.41,73.40 352.91,73.78 353.41,73.74 353.91,73.30 354.41,73.20 354.91,73.42 355.41,73.57 355.91,73.47 356.41,73.39 356.91,73.22 357.41,72.81 357.91,73.03 358.41,72.84 358.91,72.93 359.41,72.76 359.91,72.51 360.42,72.93 360.92,72.27 361.42,72.42 361.92,72.36 362.42,72.74 362.92,72.09 363.42,72.35 363.92,72.55 364.42,72.26 364.92,72.42 365.42,71.99 365.92,71.96 366.42,71.86 366.92,71.80 367.42,71.72 367.92,71.47 368.42,72.05 368.92,71.82 369.43,71.72 369.93,71.56 370.43,71.27 370.93,71.22 371.43,71.68 371.93,71.53 372.43,71.21 372.93,71.35 373.43,71.44 373.93,70.74 374.43,70.91 374.93,70.88 375.43,70.78 375.93,70.86 376.43,70.63 376.93,70.45 377.43,70.91 377.94,70.54 378.44,70.74 378.94,70.22 379.44,70.28 379.94,70.35 380.44,69.97 380.94,70.18 381.44,69.96 381.94,70.05 382.44,69.92 382.94,70.20 383.44,69.95 383.94,69.71 384.44,69.89 384.94,69.74 385.44,69.48 385.94,69.77 386.44,69.49 386.94,68.88 387.45,68.90 387.95,68.26 388.45,67.22 388.95,66.70 389.45,64.95 389.95,63.39 390.45,61.03 390.95,59.03 391.45,57.15 391.95,56.38 392.45,55.88 392.95,55.89 393.45,57.03 393.95,57.90 394.45,58.84 394.95,60.90 395.45,61.96 395.95,63.67 396.46,64.50 396.96,65.24 397.46,66.37 397.96,66.85 398.46,67.52 398.96,67.58 399.46,67.64 399.96,67.74 400.46,67.77 400.96,67.85 401.46,67.70 401.96,67.11 402.46,66.56 402.96,66.13 403.46,66.36 403.96,66.14 404.46,66.77 404.96,66.70 405.47,67.22 405.97,66.57 406.47,66.86 406.97,65.97 407.47,65.64 407.97,65.47 408.47,65.33 408.97,65.64 409.47,66.00 409.97,66.38 410.47,66.18 410.97,66.68 411.47,66.53 411.97,66.66 412.47,66.39 412.97,66.69 413.47,66.22 413.98,66.07 414.48,66.45 414.98,66.33 415.48,65.96 415.98,66.01 416.48,66.01 416.98,65.84 417.48,66.25 417.98,66.96 418.48,69.58 418.98,75.39 419.48,84.20 419.98,94.40 420.48,100.46 420.98,100.44 421.48,99.78 421.98,98.22 422.48,96.48 422.99,94.28 423.49,92.08 423.99,89.46 424.49,87.11 424.99,84.12 425.49,81.76 425.99,78.75 426.49,76.49 426.99,74.38 427.49,72.23 427.99,70.56 428.49,69.19 428.99,67.20 429.49,65.41 429.99,64.05 430.49,62.27 430.99,60.64 431.49,58.17 432.00,56.62 432.50,54.54 433.00,52.47 433.50,50.93 434.00,49.54 434.50,49.43 435.00,48.91 435.50,50.17 436.00,52.57 436.50,55.36" fill="none" stroke="#c5dcf0" stroke-width="1.00" stroke-linejoin="round"/>
<polyline points="346.40,84.88 346.90,84.93 347.40,84.71 347.90,85.00 348.40,84.31 348.90,84.93 349.40,84.66 349.90,84.67 350.40,84.61 350.90,84.12 351.41,84.49 351.91,84.31 352.41,83.90 352.91,84.33 353.41,83.97 353.91,84.11 354.41,83.60 354.91,83.95 355.41,83.42 355.91,83.40 356.41,83.36 356.91,83.26 357.41,83.57 357.91,83.25 358.41,83.17 358.91,83.54 359.41,83.45 359.91,83.12 360.42,82.93 360.92,83.24 361.42,83.04 361.92,82.85 362.42,82.75 362.92,82.72 363.42,82.75 363.92,82.47 364.42,82.28 364.92,82.54 365.42,82.30 365.92,82.13 366.42,82.22 366.92,82.43 367.42,82.48 367.92,81.86 368.42,82.34 368.92,81.92 369.43,82.25 369.93,82.21 370.43,81.73 370.93,81.91 371.43,81.79 371.93,81.50 372.43,81.94 372.93,81.66 373.43,81.81 373.93,81.18 374.43,81.20 374.93,81.60 375.43,81.10 375.93,81.09 376.43,80.96 376.93,81.28 377.43,80.85 377.94,80.66 378.44,80.59 378.94,81.09 379.44,80.42 379.94,80.44 380.44,80.49 380.94,80.59 381.44,80.72 381.94,80.75 382.44,80.34 382.94,80.41 383.44,80.10 383.94,80.18 384.44,79.77 384.94,80.20 385.44,79.96 385.94,79.94 386.44,79.88 386.94,79.58 387.45,79.23 387.95,78.31 388.45,76.77 388.95,75.36 389.45,73.50 389.95,70.66 390.45,68.09 390.95,65.37 391.45,62.89 391.95,61.55 392.45,61.22 392.95,61.73 393.45,62.50 393.95,63.93 394.45,65.43 394.95,68.01 395.45,69.87 395.95,71.72 396.46,73.24 396.96,74.69 397.46,75.46 397.96,76.43 398.46,76.81 398.96,77.87 399.46,77.66 399.96,77.97 400.46,78.04 400.96,77.73 401.46,77.83 401.96,77.42 402.46,76.58 402.96,75.82 403.46,76.10 403.96,75.98 404.46,75.93 404.96,76.76 405.47,76.90 405.97,77.13 406.47,76.55 406.97,75.90 407.47,75.13 407.97,74.78 408.47,75.13 408.97,75.49 409.47,75.61 409.97,76.20 410.47,76.26 410.97,76.26 411.47,76.45 411.97,76.37 412.47,76.79 412.97,76.22 413.47,76.24 413.98,76.33 414.48,76.61 414.98,76.10 415.48,76.06 415.98,76.31 416.48,76.05 416.98,76.36 417.48,76.29 417.98,77.17 418.48,80.85 418.98,87.95 419.48,99.72 419.98,113.02 420.48,120.13 420.98,120.09 421.48,119.15 421.98,117.59 422.48,115.79 422.99,113.14 423.49,109.64 423.99,106.24 424.49,102.90 424.99,99.30 425.49,96.30 425.99,92.86 426.49,90.03 426.99,86.91 427.49,84.71 427.99,82.47 428.49,80.04 428.99,78.57 429.49,76.21 429.99,74.85 430.49,72.94 430.99,70.92 431.49,68.54 432.00,66.72 432.50,64.76 433.00,62.46 433.50,61.13 434.00,59.62 434.50,58.83 435.00,59.19 435.50,60.23 436.00,62.48 436.50,64.73" fill="none" stroke="#fdd3c0" stroke-width="1.00" stroke-linejoin="round"/>
<polyline points="346.40,96.54 346.90,96.39 347.40,96.72 347.90,96.38 348.40,96.38 348.90,96.33 349.40,96.12 349.90,96.27 350.40,96.39 350.90,95.75 351.41,96.03 351.91,95.76 352.41,95.98 352.91,95.89 353.41,95.43 353.91,95.41 354.41,95.64 354.91,95.81 355.41,95.71 355.91,95.67 356.41,95.13 356.91,95.21 357.41,95.31 357.91,95.10 358.41,94.95 358.91,95.37 359.41,95.11 359.91,94.88 360.42,94.88 360.92,94.97 361.42,94.95 361.92,94.91 362.42,94.53 362.92,94.92 363.42,94.71 363.92,94.31 364.42,94.18 364.92,94.30 365.42,94.12 365.92,94.49 366.42,93.82 366.92,94.32 367.42,93.80 367.92,94.20 368.42,93.87 368.92,93.60 369.43,94.13 369.93,93.66 370.43,93.96 370.93,93.38 371.43,93.16 371.93,93.18 372.43,92.68 372.93,92.68 373.43,92.55 373.93,92.35 374.43,91.86 374.93,92.38 375.43,92.23 375.93,92.50 376.43,92.89 376.93,92.97 377.43,92.48 377.94,92.43 378.44,92.86 378.94,92.58 379.44,92.72 379.94,92.62 380.44,92.80 380.94,92.64 381.44,92.68 381.94,92.55 382.44,92.26 382.94,92.08 383.44,91.85 383.94,92.26 384.44,91.95 384.94,91.87 385.44,91.65 385.94,91.54 386.44,91.46 386.94,91.23 387.45,90.44 387.95,89.45 388.45,88.43 388.95,86.77 389.45,84.00 389.95,81.25 390.45,77.34 390.95,74.47 391.45,71.49 391.95,69.27 392.45,68.77 392.95,69.57 393.45,70.82 393.95,72.14 394.45,74.77 394.95,77.38 395.45,79.41 395.95,82.15 396.46,83.74 396.96,85.45 397.46,87.27 397.96,88.35 398.46,88.94 398.96,89.28 399.46,89.69 399.96,89.77 400.46,89.82 400.96,89.92 401.46,89.30 401.96,88.68 402.46,88.05 402.96,87.73 403.46,87.63 403.96,87.46 404.46,87.75 404.96,88.11 405.47,88.79 405.97,88.27 406.47,88.15 406.97,87.39 407.47,87.12 407.97,86.67 408.47,86.59 408.97,86.55 409.47,87.25 409.97,87.81 410.47,88.64 410.97,88.86 411.47,88.80 411.97,88.65 412.47,88.49 412.97,88.55 413.47,88.47 413.98,88.28 414.48,88.10 414.98,87.94 415.48,88.02 415.98,87.89 416.48,88.23 416.98,88.29 417.48,88.07 417.98,89.70 418.48,93.08 418.98,100.60 419.48,113.53 419.98,127.28 420.48,135.35 420.98,135.47 421.48,134.59 421.98,132.66 422.48,130.09 422.99,127.56 423.49,124.32 423.99,120.69 424.49,116.92 424.99,113.66 425.49,110.01 425.99,106.40 426.49,102.97 426.99,100.10 427.49,97.04 427.99,94.47 428.49,92.33 428.99,90.45 429.49,88.62 429.99,86.39 430.49,84.15 430.99,81.49 431.49,79.62 432.00,76.63 432.50,74.33 433.00,72.34 433.50,70.59 434.00,68.63 434.50,68.29 435.00,68.12 435.50,69.54 436.00,72.17 436.50,75.74" fill="none" stroke="#f7a088" stroke-width="1.00" stroke-linejoin="round"/>
<polyline points="346.40,108.80 346.90,108.99 347.40,108.79 347.90,108.87 348.40,108.67 348.90,109.03 349.40,108.76 349.90,108.82 350.40,108.88 350.90,108.52 351.41,108.43 351.91,108.13 352.41,108.52 352.91,107.96 353.41,108.10 353.91,107.90 354.41,108.23 354.91,107.97 355.41,107.94 355.91,107.89 356.41,108.05 356.91,108.08 357.41,107.59 357.91,107.88 358.41,107.70 358.91,107.63 359.41,107.76 359.91,107.15 360.42,107.17 360.92,107.22 361.42,107.03 361.92,106.95 362.42,106.82 362.92,107.27 363.42,107.24 363.92,107.11 364.42,106.98 364.92,106.65 365.42,106.52 365.92,106.52 366.42,106.18 366.92,106.19 367.42,106.37 367.92,106.27 368.42,106.37 368.92,106.23 369.43,105.84 369.93,106.27 370.43,105.85 370.93,105.71 371.43,105.37 371.93,105.02 372.43,104.96 372.93,104.53 373.43,103.58 373.93,103.86 374.43,103.75 374.93,103.93 375.43,103.86 375.93,104.62 376.43,104.69 376.93,104.80 377.43,104.61 377.94,104.97 378.44,104.71 378.94,104.75 379.44,105.09 379.94,104.67 380.44,104.93 380.94,104.55 381.44,104.31 381.94,104.45 382.44,104.22 382.94,104.15 383.44,104.45 383.94,104.40 384.44,103.97 384.94,104.27 385.44,104.04 385.94,103.60 386.44,103.38 386.94,103.46 387.45,103.03 387.95,102.05 388.45,100.49 388.95,98.13 389.45,95.98 389.95,92.33 390.45,89.33 390.95,85.39 391.45,83.08 391.95,80.79 392.45,79.97 392.95,80.33 393.45,81.68 393.95,83.87 394.45,85.91 394.95,88.35 395.45,91.42 395.95,93.45 396.46,95.60 396.96,97.43 397.46,98.80 397.96,99.93 398.46,100.57 398.96,101.03 399.46,101.41 399.96,101.76 400.46,102.15 400.96,101.96 401.46,101.44 401.96,100.66 402.46,100.58 402.96,99.56 403.46,99.46 403.96,99.58 404.46,99.87 404.96,100.20 405.47,100.96 405.97,100.38 406.47,100.17 406.97,99.76 407.47,98.77 407.97,98.12 408.47,98.12 408.97,98.95 409.47,99.41 409.97,99.88 410.47,100.62 410.97,100.69 411.47,100.43 411.97,100.42 412.47,100.85 412.97,100.45 413.47,100.49 413.98,100.29 414.48,100.63 414.98,100.34 415.48,100.42 415.98,100.07 416.48,100.20 416.98,99.76 417.48,99.97 417.98,100.96 418.48,103.68 418.98,110.30 419.48,119.81 419.98,131.04 420.48,137.55 420.98,137.34 421.48,136.78 421.98,135.30 422.48,133.48 422.99,130.79 423.49,128.32 423.99,125.91 424.49,122.64 424.99,119.96 425.49,116.97 425.99,114.44 426.49,111.51 426.99,109.37 427.49,107.02 427.99,104.81 428.49,102.95 428.99,100.72 429.49,98.45 429.99,96.44 430.49,93.85 430.99,90.98 431.49,88.09 432.00,84.78 432.50,81.86 433.00,78.62 433.50,76.31 434.00,74.08 434.50,73.22 435.00,72.60 435.50,75.24 436.00,78.44 436.50,83.21" fill="none" stroke="#e6453a" stroke-width="1.00" stroke-linejoin="round"/>
<polyline points="346.40,123.40 346.90,123.81 347.40,123.88 347.90,123.42 348.40,123.72 348.90,123.28 349.40,123.34 349.90,123.48 350.40,122.90 350.90,122.71 351.41,122.74 351.91,122.56 352.41,122.77 352.91,122.48 353.41,122.38 353.91,122.46 354.41,122.45 354.91,122.71 355.41,122.03 355.91,122.40 356.41,122.51 356.91,122.31 357.41,121.84 357.91,121.76 358.41,121.84 358.91,121.51 359.41,122.11 359.91,121.89 360.42,121.85 360.92,121.67 361.42,121.83 361.92,121.34 362.42,121.02 362.92,121.17 363.42,121.15 363.92,121.34 364.42,120.70 364.92,121.22 365.42,120.79 365.92,120.49 366.42,120.82 366.92,120.94 367.42,120.68 367.92,120.69 368.42,120.41 368.92,120.30 369.43,119.95 369.93,120.43 370.43,120.06 370.93,119.51 371.43,119.18 371.93,118.91 372.43,118.39 372.93,117.90 373.43,116.95 373.93,116.70 374.43,116.78 374.93,116.62 375.43,117.72 375.93,117.84 376.43,118.72 376.93,118.96 377.43,119.11 377.94,118.69 378.44,118.90 378.94,118.88 379.44,118.70 379.94,118.75 380.44,118.55 380.94,118.67 381.44,118.69 381.94,118.59 382.44,118.61 382.94,118.52 383.44,118.14 383.94,118.27 384.44,118.28 384.94,117.70 385.44,118.02 385.94,117.72 386.44,117.28 386.94,117.02 387.45,116.77 387.95,115.77 388.45,114.27 388.95,112.53 389.45,109.69 389.95,106.10 390.45,103.02 390.95,99.46 391.45,96.72 391.95,94.65 392.45,94.10 392.95,94.05 393.45,95.71 393.95,97.26 394.45,99.54 394.95,102.53 395.45,105.16 395.95,107.69 396.46,109.40 396.96,111.62 397.46,112.82 397.96,113.89 398.46,114.73 398.96,115.24 399.46,114.99 399.96,115.53 400.46,115.52 400.96,115.42 401.46,114.89 401.96,114.80 402.46,113.64 402.96,113.51 403.46,112.78 403.96,112.80 404.46,113.18 404.96,114.19 405.47,113.86 405.97,114.01 406.47,113.94 406.97,112.98 407.47,112.71 407.97,112.15 408.47,111.83 408.97,112.37 409.47,113.07 409.97,113.54 410.47,114.11 410.97,113.86 411.47,114.10 411.97,113.84 412.47,113.63 412.97,114.06 413.47,113.69 413.98,113.40 414.48,113.71 414.98,113.75 415.48,113.22 415.98,113.32 416.48,113.66 416.98,113.42 417.48,113.26 417.98,114.72 418.48,117.45 418.98,124.52 419.48,136.26 419.98,148.71 420.48,155.18 420.98,155.21 421.48,154.73 421.98,153.00 422.48,150.77 422.99,148.30 423.49,145.79 423.99,142.12 424.49,139.10 424.99,135.69 425.49,132.28 425.99,129.24 426.49,126.43 426.99,123.34 427.49,121.21 427.99,118.51 428.49,116.35 428.99,114.41 429.49,112.49 429.99,110.43 430.49,108.29 430.99,105.61 431.49,103.52 432.00,100.68 432.50,98.30 433.00,95.60 433.50,93.28 434.00,92.21 434.50,91.02 435.00,90.76 435.50,92.50 436.00,95.45 436.50,99.22" fill="none" stroke="#b3262f" stroke-width="1.00" stroke-linejoin="round"/>
<polyline points="346.40,134.97 346.90,135.03 347.40,134.83 347.90,134.86 348.40,134.23 348.90,134.49 349.40,134.31 349.90,134.12 350.40,134.46 350.90,134.02 351.41,134.39 351.91,133.89 352.41,133.95 352.91,134.03 353.41,133.96 353.91,133.37 354.41,133.78 354.91,133.27 355.41,133.36 355.91,133.11 356.41,133.40 356.91,133.04 357.41,132.96 357.91,133.12 358.41,132.98 358.91,132.98 359.41,132.90 359.91,132.95 360.42,133.01 360.92,132.99 361.42,132.65 361.92,132.60 362.42,132.50 362.92,132.26 363.42,132.49 363.92,131.96 364.42,132.45 364.92,132.06 365.42,132.17 365.92,132.06 366.42,131.56 366.92,131.72 367.42,131.62 367.92,131.36 368.42,131.72 368.92,131.41 369.43,131.47 369.93,130.87 370.43,131.22 370.93,130.38 371.43,129.92 371.93,128.77 372.43,126.92 372.93,125.90 373.43,124.63 373.93,124.00 374.43,124.04 374.93,124.43 375.43,125.87 375.93,127.46 376.43,128.11 376.93,129.04 377.43,129.61 377.94,129.93 378.44,130.16 378.94,129.88 379.44,130.02 379.94,130.10 380.44,129.45 380.94,129.73 381.44,129.36 381.94,129.82 382.44,129.54 382.94,129.24 383.44,129.56 383.94,129.06 384.44,129.08 384.94,129.37 385.44,129.12 385.94,129.06 386.44,128.36 386.94,128.19 387.45,128.03 387.95,127.33 388.45,125.66 388.95,123.88 389.45,121.79 389.95,118.90 390.45,115.91 390.95,113.04 391.45,110.56 391.95,108.31 392.45,107.85 392.95,108.33 393.45,109.14 393.95,111.23 394.45,112.87 394.95,115.51 395.45,117.43 395.95,119.77 396.46,121.58 396.96,122.99 397.46,124.25 397.96,125.40 398.46,126.10 398.96,126.13 399.46,126.61 399.96,126.91 400.46,126.42 400.96,126.64 401.46,125.83 401.96,125.54 402.46,124.98 402.96,124.54 403.46,124.74 403.96,124.18 404.46,124.45 404.96,125.29 405.47,125.39 405.97,125.44 406.47,125.03 406.97,124.24 407.47,124.02 407.97,123.64 408.47,123.63 408.97,123.48 409.47,124.34 409.97,124.89 410.47,124.68 410.97,125.21 411.47,125.15 411.97,125.01 412.47,124.95 412.97,125.15 413.47,124.70 413.98,124.93 414.48,124.53 414.98,124.88 415.48,124.57 415.98,124.25 416.48,124.46 416.98,124.35 417.48,124.70 417.98,126.30 418.48,129.64 418.98,138.42 419.48,153.24 419.98,168.72 420.48,177.58 420.98,177.43 421.48,176.35 421.98,174.85 422.48,172.01 422.99,169.00 423.49,164.93 423.99,161.33 424.49,157.29 424.99,152.69 425.49,148.41 425.99,144.83 426.49,140.95 426.99,137.60 427.49,134.72 427.99,131.73 428.49,129.06 428.99,127.19 429.49,124.73 429.99,121.95 430.49,119.65 430.99,117.43 431.49,114.69 432.00,111.63 432.50,109.41 433.00,106.50 433.50,104.78 434.00,102.95 434.50,102.36 435.00,102.00 435.50,103.51 436.00,106.74 436.50,110.17" fill="none" stroke="#2d4f8e" stroke-width="1.00" stroke-linejoin="round"/>
<text x="260.80" y="30.40" font-size="7.00" fill="#222">OCV</text>
<text x="260.80" y="40.50" font-size="7.00" fill="#222">-0.1 V</text>
<text x="260.80" y="53.20" font-size="7.00" fill="#222">-0.3 V</text>
<text x="260.80" y="69.80" font-size="7.00" fill="#222">-0.5 V</text>
<text x="260.80" y="87.00" font-size="7.00" fill="#222">-0.7 V</text>
<text x="260.80" y="99.60" font-size="7.00" fill="#222">-0.9 V</text>
<text x="260.80" y="113.00" font-size="7.00" fill="#222">-1.1 V</text>
<text x="260.80" y="126.80" font-size="7.00" fill="#222">-1.3 V</text>
<text x="260.80" y="140.80" font-size="7.00" fill="#222">-1.5 V</text>
<text x="260.80" y="152.00" font-size="7.00" fill="#222">-1.7 V</text>
<text x="314.80" y="131.30" font-size="7.00" fill="#222" text-anchor="middle">(3250)</text>
<text x="314.80" y="139.30" font-size="7.00" fill="#222" text-anchor="middle">OH stretch</text>
<text x="306.90" y="149.90" font-size="7.00" fill="#222" text-anchor="middle">(3345)</text>
<text x="306.90" y="157.90" font-size="7.00" fill="#222" text-anchor="middle"><tspan font-style="italic">v</tspan><tspan baseline-shift="-1.80" font-size="5.00">s</tspan>NH<tspan baseline-shift="-1.80" font-size="5.00">2</tspan></text>
<text x="261.60" y="178.30" font-size="7.00" fill="#222">0.005</text>
<line x1="279.60" y1="168.40" x2="279.60" y2="183.10" stroke="#808080" stroke-width="1.20"/><line x1="278.10" y1="168.40" x2="281.10" y2="168.40" stroke="#808080" stroke-width="0.80"/><line x1="278.10" y1="183.10" x2="281.10" y2="183.10" stroke="#808080" stroke-width="0.80"/>
<text x="375.50" y="141.80" font-size="7.00" fill="#222" text-anchor="middle">*NO</text>
<text x="375.50" y="150.10" font-size="7.00" fill="#222" text-anchor="middle">(1890)</text>
<text x="403.30" y="145.60" font-size="7.00" fill="#222" text-anchor="middle">(1408)</text>
<text x="403.30" y="153.60" font-size="7.00" fill="#222" text-anchor="middle">*OCO<tspan baseline-shift="2.50" font-size="5.00">-</tspan></text>
<text x="408.80" y="162.60" font-size="7.00" fill="#222" text-anchor="middle">(1339)</text>
<text x="408.80" y="171.60" font-size="7.00" fill="#222" text-anchor="middle">*NO<tspan baseline-shift="-1.80" font-size="5.00">3</tspan><tspan baseline-shift="4.30" font-size="5.00">-</tspan></text>
<text x="448.00" y="12.30" font-size="16.00" fill="#111">c</text>
<defs><clipPath id="clipc"><rect x="472.7" y="8.9" width="176.9" height="177.1"/></clipPath><filter id="blurc" x="-20%" y="-20%" width="140%" height="140%"><feGaussianBlur stdDeviation="3.8"/></filter></defs>
<g clip-path="url(#clipc)"><g filter="url(#blurc)">
<rect x="462.7" y="-1.1" width="196.9" height="197.1" fill="#efeffc"/>
<defs><linearGradient id="gctop" x1="0" y1="0" x2="0" y2="1"><stop offset="0.000" stop-color="#3a3cf2" stop-opacity="1.00"/><stop offset="0.150" stop-color="#3a3cf2" stop-opacity="1.00"/><stop offset="0.233" stop-color="#5052f2" stop-opacity="1.00"/><stop offset="0.317" stop-color="#7c7ef3" stop-opacity="1.00"/><stop offset="0.417" stop-color="#a8aaf6" stop-opacity="1.00"/><stop offset="0.533" stop-color="#cecff8" stop-opacity="1.00"/><stop offset="0.683" stop-color="#e2e2fa" stop-opacity="1.00"/><stop offset="1.000" stop-color="#efeffc" stop-opacity="0.00"/></linearGradient></defs><rect x="462.7" y="-1.1" width="196.9" height="60.0" fill="url(#gctop)"/>
<defs><linearGradient id="gctopr" x1="0" y1="0" x2="0" y2="1"><stop offset="0.000" stop-color="#3a3cf2" stop-opacity="1.00"/><stop offset="0.200" stop-color="#3a3cf2" stop-opacity="1.00"/><stop offset="0.350" stop-color="#5052f2" stop-opacity="1.00"/><stop offset="0.500" stop-color="#8a8cf4" stop-opacity="1.00"/><stop offset="0.640" stop-color="#c6c7f8" stop-opacity="1.00"/><stop offset="0.840" stop-color="#e4e4fa" stop-opacity="1.00"/><stop offset="1.000" stop-color="#e4e4fa" stop-opacity="0.00"/></linearGradient></defs><rect x="598.0" y="-1.1" width="70.0" height="56.0" fill="url(#gctopr)"/>
<ellipse cx="520.0" cy="50.0" rx="40.0" ry="9.0" fill="#e4e4fa"/>
<ellipse cx="612.5" cy="64.0" rx="5.0" ry="12.0" fill="#cfd0f7"/>
<ellipse cx="646.0" cy="64.0" rx="5.0" ry="14.0" fill="#cfd0f7"/>
<ellipse cx="625.0" cy="100.0" rx="14.0" ry="40.0" fill="#e4e4fa"/>
<ellipse cx="642.0" cy="110.0" rx="8.0" ry="30.0" fill="#dcdcf9"/>
<path d="M528 110 L528 75 L562 24 L600 24 L608 45 L604 75 L598 100 L592 110 Z" fill="#fbd6d6"/>
<path d="M540 110 L540 70 L560 34 L580 22 Q600 22 606 42 L602 75 L596 105 L592 110 Z" fill="#f8b6b6"/>
<path d="M553 186 L553 60 Q556 32 578 25 Q598 25 603 45 L600 78 Q596 105 591 130 L591 186 Z" fill="#f58e8e"/>
<ellipse cx="582.0" cy="55.0" rx="16.0" ry="30.0" fill="#f25e5e"/>
<ellipse cx="583.0" cy="50.0" rx="11.0" ry="20.0" fill="#f03a3a"/>
<ellipse cx="583.0" cy="48.0" rx="7.0" ry="12.0" fill="#ee3030"/>
<ellipse cx="563.0" cy="80.0" rx="8.0" ry="35.0" fill="#f25e5e"/>
<ellipse cx="582.0" cy="118.0" rx="9.0" ry="18.0" fill="#f6a4a4"/>
<ellipse cx="572.0" cy="143.5" rx="22.0" ry="3.2" fill="#fbd6d6"/>
<rect x="553.0" y="149.0" width="38.0" height="40.0" fill="#f48686"/>
<path d="M484 190 L484 80 Q488 55 500 52 Q510 54 516 80 Q526 104 523 122 Q511 140 511 160 L513 190 Z" fill="#fbd6d6"/>
<path d="M488 186 L488 85 Q492 60 500 58 Q508 60 511 85 L512 186 Z" fill="#f8b6b6"/>
<ellipse cx="500.0" cy="105.0" rx="7.0" ry="40.0" fill="#f59c9c"/>
<rect x="494.0" y="100.0" width="13.0" height="86.0" fill="#f5a2a2"/>
<path d="M466 100 Q472 84 486 86 L488 190 L466 190 Z" fill="#f8b6b6"/>
<ellipse cx="478.0" cy="88.0" rx="8.0" ry="14.0" fill="#fbd6d6"/>
<ellipse cx="477.0" cy="144.5" rx="3.0" ry="4.0" fill="#fde8e8"/>
<ellipse cx="477.0" cy="164.0" rx="3.0" ry="4.0" fill="#fde8e8"/>
<ellipse cx="522.0" cy="80.0" rx="7.0" ry="26.0" fill="#fdfbfc"/>
<ellipse cx="521.7" cy="48.7" rx="9.0" ry="12.0" fill="#e2e2fa"/>
<ellipse cx="523.0" cy="70.0" rx="4.0" ry="5.0" fill="#e8e8fa"/>
<ellipse cx="531.0" cy="150.0" rx="16.0" ry="25.0" fill="#fafafe"/>
<ellipse cx="535.0" cy="124.0" rx="10.0" ry="8.0" fill="#fbf6f9"/>
<ellipse cx="547.0" cy="112.0" rx="6.0" ry="10.0" fill="#fbd6d6"/>
<ellipse cx="525.0" cy="124.8" rx="4.0" ry="4.0" fill="#e4e4f8"/>
<ellipse cx="524.6" cy="144.6" rx="6.0" ry="9.0" fill="#c6c6f4"/>
<ellipse cx="523.0" cy="164.0" rx="6.0" ry="6.0" fill="#cacaf5"/>
<ellipse cx="545.6" cy="143.0" rx="3.0" ry="10.0" fill="#d0d0f6"/>
<ellipse cx="530.0" cy="104.0" rx="22.0" ry="7.0" fill="#fbd6d6"/>
<ellipse cx="532.0" cy="186.0" rx="24.0" ry="8.0" fill="#fbd6d6"/>
<ellipse cx="607.0" cy="138.0" rx="16.0" ry="44.0" fill="#c2c4f7"/>
<ellipse cx="607.0" cy="140.0" rx="12.0" ry="36.0" fill="#a0a3f5"/>
<ellipse cx="607.0" cy="143.0" rx="8.0" ry="24.0" fill="#8588f2"/>
<ellipse cx="625.0" cy="178.0" rx="4.0" ry="16.0" fill="#fbd6d6"/>
<ellipse cx="623.0" cy="81.0" rx="5.0" ry="8.0" fill="#ffffff"/>
<ellipse cx="640.0" cy="133.0" rx="7.0" ry="3.0" fill="#fbfbff"/>
<ellipse cx="622.0" cy="40.0" rx="4.0" ry="3.0" fill="#fbf2f4"/>
</g></g>
<line x1="493.50" y1="8.90" x2="493.50" y2="186.00" stroke="#333" stroke-width="0.50" stroke-dasharray="0.8 0.6"/>
<line x1="506.60" y1="8.90" x2="506.60" y2="186.00" stroke="#333" stroke-width="0.50" stroke-dasharray="0.8 0.6"/>
<line x1="555.50" y1="8.90" x2="555.50" y2="186.00" stroke="#333" stroke-width="0.50" stroke-dasharray="0.8 0.6"/>
<line x1="565.40" y1="8.90" x2="565.40" y2="186.00" stroke="#333" stroke-width="0.50" stroke-dasharray="0.8 0.6"/>
<line x1="573.50" y1="8.90" x2="573.50" y2="186.00" stroke="#333" stroke-width="0.50" stroke-dasharray="0.8 0.6"/>
<line x1="589.60" y1="8.90" x2="589.60" y2="186.00" stroke="#333" stroke-width="0.50" stroke-dasharray="0.8 0.6"/>
<rect x="472.70" y="8.90" width="176.90" height="177.10" fill="none" stroke="#2b2b2b" stroke-width="0.90"/>
<text x="502.60" y="156.00" font-size="6.80" fill="#222" transform="rotate(-90 502.60 156.00)">N-C-N</text>
<text x="562.50" y="147.00" font-size="6.80" fill="#222" transform="rotate(-90 562.50 147.00)">C-N</text>
<text x="584.40" y="71.00" font-size="6.80" fill="#222" transform="rotate(-90 584.40 71.00)">*OCO</text>
<text x="469.50" y="12.40" font-size="8.20" fill="#222" text-anchor="end">0.0</text>
<line x1="472.70" y1="9.50" x2="474.70" y2="9.50" stroke="#2b2b2b" stroke-width="0.70"/>
<text x="469.50" y="63.70" font-size="8.20" fill="#222" text-anchor="end">−0.5</text>
<line x1="472.70" y1="60.80" x2="474.70" y2="60.80" stroke="#2b2b2b" stroke-width="0.70"/>
<text x="469.50" y="115.60" font-size="8.20" fill="#222" text-anchor="end">−1.0</text>
<line x1="472.70" y1="112.70" x2="474.70" y2="112.70" stroke="#2b2b2b" stroke-width="0.70"/>
<text x="469.50" y="168.10" font-size="8.20" fill="#222" text-anchor="end">−1.5</text>
<line x1="472.70" y1="165.20" x2="474.70" y2="165.20" stroke="#2b2b2b" stroke-width="0.70"/>
<text x="472.70" y="196.60" font-size="7.60" fill="#222" text-anchor="middle">1500</text>
<line x1="472.70" y1="186.00" x2="472.70" y2="183.80" stroke="#2b2b2b" stroke-width="0.70"/>
<text x="531.70" y="196.60" font-size="7.60" fill="#222" text-anchor="middle">1450</text>
<line x1="531.70" y1="186.00" x2="531.70" y2="183.80" stroke="#2b2b2b" stroke-width="0.70"/>
<text x="590.70" y="196.60" font-size="7.60" fill="#222" text-anchor="middle">1400</text>
<line x1="590.70" y1="186.00" x2="590.70" y2="183.80" stroke="#2b2b2b" stroke-width="0.70"/>
<text x="649.60" y="196.60" font-size="7.60" fill="#222" text-anchor="middle">1350</text>
<line x1="649.60" y1="186.00" x2="649.60" y2="183.80" stroke="#2b2b2b" stroke-width="0.70"/>
<line x1="502.20" y1="186.00" x2="502.20" y2="184.70" stroke="#2b2b2b" stroke-width="0.70"/>
<line x1="561.20" y1="186.00" x2="561.20" y2="184.70" stroke="#2b2b2b" stroke-width="0.70"/>
<line x1="620.10" y1="186.00" x2="620.10" y2="184.70" stroke="#2b2b2b" stroke-width="0.70"/>
<text x="564.20" y="206.30" font-size="9.00" fill="#222" text-anchor="middle">Wavenumbers (cm<tspan baseline-shift="3.00" font-size="5.50">-1</tspan>)</text>
<text x="450.60" y="90.10" font-size="8.45" fill="#222" text-anchor="middle" transform="rotate(-90 450.60 90.10)">Potential (V <tspan font-style="italic">vs.</tspan> RHE)</text>
<text x="473.30" y="5.90" font-size="7.30" fill="#222">CuRu/MCHS</text>
<text x="684.50" y="7.30" font-size="8.00" fill="#222" text-anchor="end">Indensity (arb.units)</text>
<defs><linearGradient id="cbc" x1="0" y1="0" x2="0" y2="1"><stop offset="0.000" stop-color="#f42626"/><stop offset="0.250" stop-color="#f77b7b"/><stop offset="0.420" stop-color="#fbd0d0"/><stop offset="0.520" stop-color="#fdf6f6"/><stop offset="0.560" stop-color="#f6f6fe"/><stop offset="0.700" stop-color="#c4c6f8"/><stop offset="0.850" stop-color="#7c80f4"/><stop offset="1.000" stop-color="#2a2cf6"/></linearGradient></defs><rect x="653.6" y="11.8" width="7.2" height="170.7" fill="url(#cbc)"/>
<text x="663.00" y="14.70" font-size="6.40" fill="#222">0.003</text>
<text x="663.00" y="35.80" font-size="6.40" fill="#222">0.003</text>
<text x="663.00" y="56.90" font-size="6.40" fill="#222">0.002</text>
<text x="663.00" y="78.00" font-size="6.40" fill="#222">0.002</text>
<text x="663.00" y="99.10" font-size="6.40" fill="#222">0.001</text>
<text x="663.00" y="120.90" font-size="6.40" fill="#222">0.001</text>
<text x="663.00" y="142.00" font-size="6.40" fill="#222">0.001</text>
<text x="663.00" y="163.10" font-size="6.40" fill="#222">0.000</text>
<text x="662.60" y="184.10" font-size="6.40" fill="#222">−0.000</text>
<text x="0.60" y="228.00" font-size="16.00" fill="#111">d</text>
<rect x="24.50" y="224.60" width="177.40" height="176.20" fill="none" stroke="#2b2b2b" stroke-width="0.90"/>
<line x1="109.70" y1="403.60" x2="111.70" y2="398.00" stroke="#2b2b2b" stroke-width="0.80"/><line x1="112.50" y1="403.60" x2="114.50" y2="398.00" stroke="#2b2b2b" stroke-width="0.80"/><rect x="111.30" y="400.20" width="1.60" height="1.20" fill="#fff"/>
<line x1="24.50" y1="400.80" x2="24.50" y2="398.00" stroke="#2b2b2b" stroke-width="0.80"/><line x1="60.80" y1="400.80" x2="60.80" y2="398.00" stroke="#2b2b2b" stroke-width="0.80"/><line x1="96.90" y1="400.80" x2="96.90" y2="398.00" stroke="#2b2b2b" stroke-width="0.80"/><line x1="129.80" y1="400.80" x2="129.80" y2="398.00" stroke="#2b2b2b" stroke-width="0.80"/><line x1="165.90" y1="400.80" x2="165.90" y2="398.00" stroke="#2b2b2b" stroke-width="0.80"/><line x1="201.90" y1="400.80" x2="201.90" y2="398.00" stroke="#2b2b2b" stroke-width="0.80"/>
<line x1="42.70" y1="400.80" x2="42.70" y2="399.20" stroke="#2b2b2b" stroke-width="0.80"/><line x1="78.80" y1="400.80" x2="78.80" y2="399.20" stroke="#2b2b2b" stroke-width="0.80"/><line x1="147.80" y1="400.80" x2="147.80" y2="399.20" stroke="#2b2b2b" stroke-width="0.80"/><line x1="184.00" y1="400.80" x2="184.00" y2="399.20" stroke="#2b2b2b" stroke-width="0.80"/>
<text x="116.60" y="421.90" font-size="9.00" fill="#222" text-anchor="middle">Wavenumbers (cm<tspan baseline-shift="3.00" font-size="5.50">-1</tspan>)</text>
<text x="24.50" y="411.60" font-size="7.60" fill="#222" text-anchor="middle">4000</text>
<text x="60.80" y="411.60" font-size="7.60" fill="#222" text-anchor="middle">3500</text>
<text x="96.90" y="411.60" font-size="7.60" fill="#222" text-anchor="middle">3000</text>
<text x="129.80" y="411.60" font-size="7.60" fill="#222" text-anchor="middle">2000</text>
<text x="165.90" y="411.60" font-size="7.60" fill="#222" text-anchor="middle">1500</text>
<text x="201.90" y="411.60" font-size="7.60" fill="#222" text-anchor="middle">1000</text>
<text x="21.20" y="314.70" font-size="9.00" fill="#222" text-anchor="middle" transform="rotate(-90 21.20 314.70)">Absorbance (arb.units)</text>
<text x="26.10" y="231.20" font-size="7.30" fill="#222">CuRu/CS (CO<tspan baseline-shift="-1.80" font-size="5.20">2</tspan> + 0.1 M KNO<tspan baseline-shift="-1.80" font-size="5.20">3</tspan>)</text>
<line x1="24.50" y1="239.00" x2="112.00" y2="239.00" stroke="#4477bb" stroke-width="1.00"/>
<line x1="114.80" y1="239.00" x2="201.90" y2="239.00" stroke="#4477bb" stroke-width="1.00"/>
<text x="158.20" y="246.40" font-size="7.00" fill="#c8373a" text-anchor="middle">(1477)</text>
<text x="158.20" y="254.40" font-size="7.00" fill="#c8373a" text-anchor="middle">N-C-N</text>
<text x="179.00" y="246.40" font-size="7.00" fill="#c8373a" text-anchor="middle">(1425)</text>
<text x="178.30" y="254.40" font-size="7.00" fill="#c8373a" text-anchor="middle">C-N</text>
<text x="190.30" y="268.10" font-size="7.00" fill="#222" text-anchor="middle">(1170)</text>
<text x="190.30" y="276.10" font-size="7.00" fill="#222" text-anchor="middle"><tspan font-style="italic">δ</tspan><tspan baseline-shift="-1.80" font-size="5.00">as</tspan>NH<tspan baseline-shift="-1.80" font-size="5.00">2</tspan></text>
<line x1="71.50" y1="240.00" x2="71.50" y2="336.00" stroke="#555" stroke-width="0.70" stroke-dasharray="1.4 2.4"/>
<line x1="78.70" y1="240.00" x2="78.70" y2="345.00" stroke="#555" stroke-width="0.70" stroke-dasharray="1.4 2.4"/>
<line x1="167.30" y1="258.00" x2="167.30" y2="372.00" stroke="#c8373a" stroke-width="0.70" stroke-dasharray="1.4 2.4"/>
<line x1="171.50" y1="262.00" x2="171.50" y2="372.00" stroke="#c8373a" stroke-width="0.70" stroke-dasharray="1.4 2.4"/>
<line x1="173.60" y1="262.00" x2="173.60" y2="375.00" stroke="#555" stroke-width="0.70" stroke-dasharray="1.4 2.4"/>
<line x1="177.10" y1="268.00" x2="177.10" y2="378.00" stroke="#888" stroke-width="0.70" stroke-dasharray="1.4 2.4"/>
<line x1="189.20" y1="282.00" x2="189.20" y2="396.00" stroke="#777" stroke-width="0.70" stroke-dasharray="1.4 2.4"/>
<polyline points="24.80,289.04 25.30,289.20 25.80,289.29 26.30,289.44 26.80,289.00 27.31,289.08 27.81,288.95 28.31,289.04 28.81,289.22 29.31,289.30 29.81,289.22 30.31,289.20 30.81,288.55 31.31,288.66 31.82,289.12 32.32,288.82 32.82,288.50 33.32,288.80 33.82,288.98 34.32,288.45 34.82,288.49 35.32,288.32 35.83,288.84 36.33,288.24 36.83,288.21 37.33,288.01 37.83,287.94 38.33,287.79 38.83,287.67 39.33,287.90 39.83,287.60 40.34,287.48 40.84,287.43 41.34,287.03 41.84,287.09 42.34,286.48 42.84,286.37 43.34,285.97 43.84,285.90 44.34,285.35 44.85,284.86 45.35,284.94 45.85,284.45 46.35,283.75 46.85,283.59 47.35,283.09 47.85,282.40 48.35,282.16 48.86,282.12 49.36,281.35 49.86,281.06 50.36,280.92 50.86,280.78 51.36,280.17 51.86,280.58 52.36,280.30 52.86,279.85 53.37,279.59 53.87,279.27 54.37,278.84 54.87,278.10 55.37,277.41 55.87,277.05 56.37,276.56 56.87,275.99 57.37,275.16 57.88,273.82 58.38,272.93 58.88,272.09 59.38,270.91 59.88,269.80 60.38,268.90 60.88,267.44 61.38,266.18 61.89,265.05 62.39,263.27 62.89,261.92 63.39,260.75 63.89,258.99 64.39,257.70 64.89,256.22 65.39,254.56 65.89,253.05 66.40,251.90 66.90,250.39 67.40,249.21 67.90,247.75 68.40,247.30 68.90,246.25 69.40,244.67 69.90,243.90 70.40,243.18 70.91,242.55 71.41,241.97 71.91,241.57 72.41,241.40 72.91,240.87 73.41,240.73 73.91,241.15 74.41,240.89 74.91,241.53 75.42,241.42 75.92,242.42 76.42,242.33 76.92,243.21 77.42,244.20 77.92,244.97 78.42,245.84 78.92,246.74 79.43,247.93 79.93,248.51 80.43,250.12 80.93,251.36 81.43,252.00 81.93,253.60 82.43,255.06 82.93,256.35 83.43,257.73 83.94,258.54 84.44,260.15 84.94,261.19 85.44,262.49 85.94,264.16 86.44,264.95 86.94,266.24 87.44,267.81 87.94,268.83 88.45,269.90 88.95,271.17 89.45,272.37 89.95,272.97 90.45,274.06 90.95,274.58 91.45,275.89 91.95,276.26 92.46,277.25 92.96,278.05 93.46,278.55 93.96,279.49 94.46,280.31 94.96,280.59 95.46,280.84 95.96,281.71 96.46,282.15 96.97,282.08 97.47,282.69 97.97,283.16 98.47,283.40 98.97,283.36 99.47,283.66 99.97,283.66 100.47,283.68 100.97,283.76 101.48,284.29 101.98,283.86 102.48,284.33 102.98,284.21 103.48,284.64 103.98,284.51 104.48,284.66 104.98,284.32 105.49,284.23 105.99,284.25 106.49,284.69 106.99,284.53 107.49,284.30 107.99,284.39 108.49,284.36 108.99,284.24 109.49,284.47 110.00,284.25 110.50,284.65 111.00,284.27 111.50,284.50 112.00,284.10" fill="none" stroke="#2b4a86" stroke-width="1.00" stroke-linejoin="round"/>
<polyline points="24.80,301.70 25.30,301.64 25.80,301.68 26.30,301.53 26.80,301.82 27.31,301.32 27.81,301.49 28.31,301.68 28.81,301.54 29.31,301.72 29.81,301.26 30.31,301.28 30.81,301.22 31.31,301.06 31.82,300.99 32.32,301.27 32.82,301.08 33.32,301.25 33.82,301.48 34.32,301.46 34.82,301.27 35.32,300.91 35.83,300.90 36.33,301.20 36.83,300.67 37.33,301.00 37.83,300.51 38.33,300.56 38.83,300.52 39.33,300.67 39.83,300.36 40.34,300.27 40.84,299.73 41.34,299.51 41.84,299.64 42.34,299.17 42.84,298.97 43.34,298.23 43.84,297.87 44.34,297.77 44.85,297.31 45.35,296.90 45.85,296.90 46.35,296.58 46.85,295.70 47.35,295.23 47.85,294.91 48.35,294.55 48.86,294.58 49.36,294.01 49.86,294.11 50.36,293.14 50.86,293.22 51.36,292.65 51.86,292.88 52.36,292.26 52.86,291.86 53.37,291.78 53.87,291.63 54.37,290.63 54.87,290.33 55.37,290.30 55.87,289.40 56.37,288.53 56.87,288.41 57.37,287.63 57.88,286.40 58.38,285.30 58.88,284.16 59.38,283.56 59.88,282.41 60.38,281.16 60.88,279.84 61.38,278.26 61.89,276.83 62.39,275.61 62.89,274.31 63.39,272.62 63.89,271.18 64.39,269.62 64.89,268.47 65.39,267.12 65.89,265.24 66.40,264.35 66.90,262.93 67.40,261.38 67.90,260.07 68.40,259.25 68.90,258.10 69.40,257.17 69.90,256.57 70.40,255.79 70.91,254.93 71.41,254.24 71.91,253.54 72.41,253.14 72.91,253.43 73.41,252.92 73.91,253.22 74.41,253.06 74.91,253.22 75.42,253.87 75.92,253.94 76.42,254.40 76.92,255.68 77.42,255.98 77.92,256.76 78.42,257.96 78.92,258.52 79.43,259.97 79.93,260.67 80.43,262.17 80.93,263.38 81.43,264.16 81.93,265.61 82.43,267.21 82.93,268.26 83.43,269.53 83.94,270.59 84.44,271.96 84.94,273.83 85.44,275.16 85.94,276.11 86.44,277.47 86.94,278.34 87.44,280.12 87.94,281.08 88.45,282.29 88.95,283.48 89.45,284.10 89.95,285.44 90.45,286.25 90.95,287.06 91.45,287.84 91.95,289.04 92.46,289.45 92.96,290.16 93.46,290.98 93.96,291.64 94.46,292.23 94.96,292.61 95.46,293.63 95.96,293.46 96.46,294.36 96.97,294.69 97.47,294.82 97.97,295.00 98.47,295.65 98.97,295.81 99.47,295.67 99.97,296.29 100.47,296.28 100.97,296.08 101.48,296.75 101.98,296.43 102.48,296.36 102.98,296.99 103.48,296.91 103.98,296.75 104.48,296.84 104.98,296.83 105.49,296.85 105.99,296.56 106.49,296.96 106.99,296.76 107.49,296.62 107.99,296.74 108.49,296.76 108.99,296.50 109.49,296.64 110.00,296.64 110.50,296.51 111.00,296.68 111.50,296.39 112.00,296.68" fill="none" stroke="#3d78bd" stroke-width="1.00" stroke-linejoin="round"/>
<polyline points="24.80,308.75 25.30,308.97 25.80,308.96 26.30,309.26 26.80,309.13 27.31,309.10 27.81,309.00 28.31,308.61 28.81,309.12 29.31,308.76 29.81,308.84 30.31,308.48 30.81,308.61 31.31,308.96 31.82,308.43 32.32,308.38 32.82,308.52 33.32,308.51 33.82,308.59 34.32,308.55 34.82,308.30 35.32,308.14 35.83,308.35 36.33,308.26 36.83,308.37 37.33,308.32 37.83,308.35 38.33,308.07 38.83,307.93 39.33,308.00 39.83,308.05 40.34,307.72 40.84,307.10 41.34,307.10 41.84,307.34 42.34,307.10 42.84,306.37 43.34,306.02 43.84,305.57 44.34,305.32 44.85,304.95 45.35,305.23 45.85,304.85 46.35,304.06 46.85,303.48 47.35,303.75 47.85,303.19 48.35,303.06 48.86,302.32 49.36,302.41 49.86,302.08 50.36,301.71 50.86,301.45 51.36,301.21 51.86,300.79 52.36,300.87 52.86,300.00 53.37,299.91 53.87,299.56 54.37,299.27 54.87,299.11 55.37,298.11 55.87,297.82 56.37,297.26 56.87,296.55 57.37,295.98 57.88,295.24 58.38,294.31 58.88,293.27 59.38,292.16 59.88,291.50 60.38,290.24 60.88,288.93 61.38,287.27 61.89,286.19 62.39,285.08 62.89,283.38 63.39,282.18 63.89,280.81 64.39,279.24 64.89,278.37 65.39,277.06 65.89,275.32 66.40,273.97 66.90,272.80 67.40,271.95 67.90,270.48 68.40,269.79 68.90,268.94 69.40,267.46 69.90,267.07 70.40,266.36 70.91,265.68 71.41,265.19 71.91,264.51 72.41,264.10 72.91,264.43 73.41,263.82 73.91,264.34 74.41,264.37 74.91,264.29 75.42,264.66 75.92,264.93 76.42,265.40 76.92,266.39 77.42,266.56 77.92,267.42 78.42,268.79 78.92,269.27 79.43,270.41 79.93,271.47 80.43,272.60 80.93,273.83 81.43,274.96 81.93,275.78 82.43,277.02 82.93,278.70 83.43,279.87 83.94,280.77 84.44,281.91 84.94,283.22 85.44,284.74 85.94,285.53 86.44,286.59 86.94,287.80 87.44,289.01 87.94,290.59 88.45,291.15 88.95,292.17 89.45,293.59 89.95,294.65 90.45,295.63 90.95,296.44 91.45,297.28 91.95,297.99 92.46,298.81 92.96,299.16 93.46,300.08 93.96,300.11 94.46,300.78 94.96,301.77 95.46,301.88 95.96,302.35 96.46,302.87 96.97,303.01 97.47,303.09 97.97,303.92 98.47,303.73 98.97,304.44 99.47,304.40 99.97,304.55 100.47,305.02 100.97,304.71 101.48,305.11 101.98,304.83 102.48,305.31 102.98,305.03 103.48,305.48 103.98,305.23 104.48,305.57 104.98,305.66 105.49,305.15 105.99,305.26 106.49,305.72 106.99,305.35 107.49,305.10 107.99,305.21 108.49,305.33 108.99,305.30 109.49,305.43 110.00,305.48 110.50,305.07 111.00,305.01 111.50,305.10 112.00,305.61" fill="none" stroke="#6aaad8" stroke-width="1.00" stroke-linejoin="round"/>
<polyline points="24.80,321.00 25.30,321.23 25.80,320.67 26.30,320.85 26.80,320.60 27.31,321.00 27.81,320.65 28.31,320.72 28.81,321.05 29.31,320.50 29.81,320.54 30.31,320.62 30.81,320.96 31.31,320.70 31.82,320.78 32.32,320.95 32.82,320.46 33.32,320.58 33.82,320.36 34.32,320.76 34.82,320.19 35.32,320.67 35.83,320.34 36.33,320.45 36.83,320.12 37.33,320.58 37.83,320.07 38.33,320.08 38.83,320.32 39.33,319.97 39.83,319.64 40.34,319.42 40.84,319.72 41.34,319.39 41.84,319.11 42.34,318.81 42.84,318.80 43.34,317.96 43.84,317.82 44.34,317.80 44.85,317.35 45.35,316.98 45.85,316.64 46.35,316.15 46.85,315.85 47.35,315.41 47.85,315.42 48.35,314.62 48.86,314.29 49.36,314.02 49.86,313.63 50.36,313.67 50.86,313.38 51.36,312.77 51.86,312.64 52.36,312.82 52.86,312.12 53.37,312.10 53.87,311.59 54.37,311.05 54.87,311.20 55.37,310.50 55.87,309.71 56.37,309.35 56.87,308.49 57.37,308.11 57.88,306.76 58.38,306.17 58.88,305.36 59.38,304.41 59.88,302.89 60.38,301.70 60.88,300.78 61.38,299.63 61.89,298.25 62.39,296.64 62.89,295.43 63.39,294.37 63.89,292.87 64.39,291.80 64.89,289.82 65.39,288.87 65.89,287.54 66.40,286.16 66.90,284.67 67.40,283.71 67.90,282.55 68.40,281.39 68.90,280.88 69.40,279.47 69.90,278.62 70.40,278.50 70.91,277.92 71.41,277.18 71.91,276.67 72.41,276.50 72.91,275.83 73.41,275.87 73.91,276.04 74.41,275.89 74.91,276.63 75.42,276.74 75.92,276.90 76.42,277.66 76.92,278.42 77.42,278.96 77.92,279.89 78.42,280.65 78.92,281.41 79.43,282.64 79.93,283.66 80.43,284.32 80.93,285.39 81.43,286.50 81.93,288.08 82.43,289.35 82.93,290.38 83.43,291.93 83.94,292.71 84.44,293.87 84.94,295.19 85.44,296.64 85.94,297.68 86.44,299.20 86.94,299.98 87.44,301.47 87.94,302.47 88.45,303.41 88.95,304.76 89.45,305.55 89.95,306.65 90.45,307.64 90.95,308.31 91.45,308.94 91.95,309.61 92.46,310.80 92.96,311.08 93.46,312.12 93.96,312.26 94.46,312.76 94.96,313.77 95.46,314.04 95.96,314.11 96.46,314.71 96.97,314.90 97.47,315.35 97.97,315.79 98.47,316.07 98.97,316.44 99.47,316.70 99.97,316.40 100.47,316.56 100.97,317.15 101.48,316.95 101.98,317.19 102.48,316.86 102.98,316.96 103.48,317.08 103.98,317.22 104.48,317.27 104.98,317.60 105.49,317.54 105.99,317.38 106.49,317.70 106.99,317.73 107.49,317.71 107.99,317.18 108.49,317.26 108.99,317.06 109.49,317.12 110.00,317.59 110.50,317.03 111.00,317.44 111.50,316.96 112.00,317.52" fill="none" stroke="#c5dcf0" stroke-width="1.00" stroke-linejoin="round"/>
<polyline points="24.80,334.36 25.30,334.46 25.80,333.81 26.30,333.75 26.80,334.41 27.31,333.91 27.81,333.79 28.31,333.97 28.81,333.97 29.31,334.07 29.81,333.95 30.31,333.87 30.81,333.98 31.31,333.60 31.82,333.71 32.32,333.97 32.82,333.82 33.32,333.70 33.82,333.32 34.32,333.85 34.82,333.17 35.32,333.66 35.83,333.14 36.33,333.33 36.83,333.39 37.33,333.20 37.83,332.75 38.33,332.78 38.83,332.81 39.33,332.59 39.83,332.31 40.34,332.14 40.84,332.37 41.34,332.02 41.84,331.72 42.34,331.14 42.84,331.36 43.34,331.20 43.84,330.68 44.34,330.15 44.85,329.93 45.35,329.49 45.85,328.75 46.35,328.64 46.85,328.30 47.35,327.61 47.85,327.28 48.35,326.95 48.86,326.64 49.36,326.26 49.86,326.40 50.36,326.04 50.86,325.48 51.36,324.97 51.86,325.21 52.36,324.87 52.86,323.98 53.37,324.21 53.87,323.29 54.37,323.48 54.87,322.85 55.37,322.57 55.87,321.80 56.37,320.81 56.87,320.37 57.37,319.83 57.88,318.61 58.38,317.82 58.88,316.61 59.38,315.73 59.88,314.34 60.38,313.05 60.88,311.57 61.38,310.86 61.89,309.25 62.39,308.03 62.89,306.44 63.39,304.70 63.89,303.06 64.39,302.21 64.89,300.71 65.39,299.26 65.89,297.48 66.40,296.26 66.90,295.05 67.40,293.48 67.90,292.24 68.40,291.10 68.90,290.21 69.40,289.18 69.90,288.62 70.40,287.81 70.91,286.66 71.41,286.20 71.91,285.86 72.41,285.87 72.91,285.56 73.41,285.16 73.91,285.42 74.41,285.04 74.91,285.22 75.42,286.12 75.92,286.04 76.42,287.02 76.92,287.70 77.42,288.08 77.92,288.83 78.42,289.50 78.92,290.46 79.43,292.13 79.93,293.18 80.43,293.79 80.93,295.16 81.43,296.59 81.93,297.63 82.43,298.67 82.93,300.61 83.43,301.64 83.94,302.76 84.44,304.51 84.94,305.42 85.44,307.17 85.94,308.23 86.44,309.67 86.94,310.51 87.44,311.88 87.94,313.17 88.45,314.15 88.95,315.28 89.45,316.35 89.95,317.60 90.45,318.54 90.95,319.13 91.45,319.91 91.95,321.06 92.46,321.64 92.96,322.21 93.46,322.90 93.96,323.46 94.46,324.05 94.96,324.73 95.46,325.15 95.96,325.41 96.46,326.35 96.97,326.31 97.47,327.07 97.97,327.19 98.47,327.64 98.97,327.68 99.47,328.06 99.97,327.90 100.47,328.22 100.97,328.29 101.48,327.99 101.98,328.72 102.48,328.66 102.98,328.26 103.48,328.74 103.98,328.74 104.48,328.99 104.98,328.69 105.49,328.41 105.99,328.69 106.49,328.71 106.99,328.73 107.49,328.66 107.99,328.35 108.49,328.61 108.99,328.45 109.49,328.93 110.00,328.47 110.50,328.89 111.00,328.44 111.50,328.42 112.00,328.14" fill="none" stroke="#fdd3c0" stroke-width="1.00" stroke-linejoin="round"/>
<polyline points="24.80,341.19 25.30,341.45 25.80,341.07 26.30,341.60 26.80,341.07 27.31,341.23 27.81,341.42 28.31,341.49 28.81,341.24 29.31,341.28 29.81,341.15 30.31,341.34 30.81,340.87 31.31,341.17 31.82,341.08 32.32,340.95 32.82,340.90 33.32,340.56 33.82,340.92 34.32,340.79 34.82,340.88 35.32,340.72 35.83,341.00 36.33,340.77 36.83,340.68 37.33,340.31 37.83,340.36 38.33,340.64 38.83,340.11 39.33,339.85 39.83,339.85 40.34,339.51 40.84,339.80 41.34,339.48 41.84,338.93 42.34,339.16 42.84,338.53 43.34,338.13 43.84,338.19 44.34,337.32 44.85,337.03 45.35,336.75 45.85,336.68 46.35,335.94 46.85,335.68 47.35,335.03 47.85,334.71 48.35,334.43 48.86,334.33 49.36,334.07 49.86,333.73 50.36,332.99 50.86,332.92 51.36,332.43 51.86,332.56 52.36,331.98 52.86,332.14 53.37,331.71 53.87,331.40 54.37,330.63 54.87,330.61 55.37,329.98 55.87,328.97 56.37,328.92 56.87,327.62 57.37,327.44 57.88,326.09 58.38,325.12 58.88,324.29 59.38,322.85 59.88,322.17 60.38,320.95 60.88,319.19 61.38,318.33 61.89,316.77 62.39,315.34 62.89,313.92 63.39,312.59 63.89,311.30 64.39,309.57 64.89,307.84 65.39,306.75 65.89,305.14 66.40,303.79 66.90,302.40 67.40,301.34 67.90,299.87 68.40,299.14 68.90,297.81 69.40,297.02 69.90,295.89 70.40,295.13 70.91,294.72 71.41,293.93 71.91,293.59 72.41,292.99 72.91,293.14 73.41,292.88 73.91,292.67 74.41,293.01 74.91,293.02 75.42,293.26 75.92,293.81 76.42,294.31 76.92,295.02 77.42,295.55 77.92,296.98 78.42,297.80 78.92,298.67 79.43,299.79 79.93,300.63 80.43,301.55 80.93,302.70 81.43,304.19 81.93,305.82 82.43,306.80 82.93,308.25 83.43,309.62 83.94,310.49 84.44,312.37 84.94,313.62 85.44,314.49 85.94,315.63 86.44,317.50 86.94,318.73 87.44,319.41 87.94,320.70 88.45,321.72 88.95,322.80 89.45,324.27 89.95,324.86 90.45,326.31 90.95,326.85 91.45,328.27 91.95,329.00 92.46,329.77 92.96,330.02 93.46,330.94 93.96,331.23 94.46,332.11 94.96,332.39 95.46,333.35 95.96,333.90 96.46,333.82 96.97,334.59 97.47,334.90 97.97,335.21 98.47,335.44 98.97,335.49 99.47,335.49 99.97,335.59 100.47,336.03 100.97,335.98 101.48,335.97 101.98,336.10 102.48,336.54 102.98,336.54 103.48,336.52 103.98,336.77 104.48,336.64 104.98,336.71 105.49,337.02 105.99,336.76 106.49,336.88 106.99,336.87 107.49,336.68 107.99,337.08 108.49,336.61 108.99,336.59 109.49,336.53 110.00,336.58 110.50,336.88 111.00,336.54 111.50,336.43 112.00,336.67" fill="none" stroke="#f7a088" stroke-width="1.00" stroke-linejoin="round"/>
<polyline points="24.80,348.80 25.30,348.23 25.80,348.75 26.30,348.34 26.80,348.08 27.31,348.08 27.81,348.34 28.31,348.39 28.81,348.47 29.31,348.43 29.81,347.88 30.31,348.37 30.81,347.79 31.31,348.25 31.82,347.95 32.32,347.99 32.82,348.07 33.32,347.63 33.82,347.48 34.32,348.00 34.82,347.45 35.32,347.47 35.83,347.26 36.33,347.40 36.83,347.25 37.33,347.29 37.83,347.52 38.33,347.09 38.83,346.92 39.33,347.01 39.83,346.80 40.34,346.27 40.84,346.52 41.34,346.25 41.84,345.63 42.34,345.54 42.84,345.33 43.34,344.81 43.84,344.68 44.34,344.27 44.85,343.77 45.35,343.62 45.85,342.79 46.35,342.77 46.85,342.43 47.35,341.96 47.85,341.74 48.35,341.30 48.86,340.70 49.36,340.08 49.86,339.79 50.36,339.42 50.86,339.24 51.36,339.37 51.86,339.18 52.36,338.81 52.86,338.57 53.37,337.97 53.87,337.80 54.37,337.28 54.87,337.06 55.37,335.91 55.87,335.86 56.37,334.89 56.87,334.12 57.37,333.73 57.88,332.66 58.38,331.90 58.88,330.58 59.38,329.52 59.88,328.60 60.38,327.35 60.88,325.97 61.38,324.64 61.89,323.41 62.39,321.99 62.89,320.55 63.39,319.16 63.89,317.18 64.39,316.36 64.89,314.47 65.39,313.42 65.89,311.67 66.40,310.63 66.90,308.96 67.40,307.79 67.90,306.50 68.40,305.42 68.90,304.39 69.40,303.52 69.90,302.58 70.40,301.87 70.91,301.53 71.41,300.47 71.91,299.93 72.41,300.21 72.91,299.32 73.41,299.36 73.91,299.19 74.41,299.78 74.91,299.73 75.42,300.43 75.92,300.33 76.42,301.06 76.92,301.41 77.42,302.36 77.92,303.20 78.42,303.67 78.92,304.54 79.43,305.90 79.93,306.85 80.43,307.83 80.93,309.23 81.43,310.55 81.93,311.76 82.43,312.72 82.93,314.00 83.43,315.64 83.94,316.29 84.44,317.60 84.94,319.11 85.44,320.75 85.94,321.81 86.44,322.88 86.94,323.97 87.44,325.06 87.94,326.13 88.45,327.29 88.95,328.75 89.45,329.68 89.95,330.23 90.45,331.31 90.95,332.64 91.45,333.42 91.95,333.73 92.46,334.57 92.96,335.48 93.46,336.10 93.96,336.40 94.46,337.04 94.96,337.72 95.46,337.94 95.96,338.77 96.46,338.72 96.97,339.68 97.47,339.46 97.97,339.93 98.47,340.30 98.97,340.29 99.47,340.62 99.97,340.47 100.47,340.84 100.97,340.91 101.48,340.95 101.98,341.31 102.48,341.53 102.98,341.02 103.48,341.05 103.98,341.22 104.48,341.28 104.98,341.49 105.49,341.61 105.99,341.04 106.49,341.32 106.99,341.21 107.49,341.22 107.99,341.50 108.49,341.07 108.99,341.02 109.49,340.98 110.00,341.15 110.50,341.36 111.00,340.83 111.50,340.77 112.00,341.01" fill="none" stroke="#e6453a" stroke-width="1.00" stroke-linejoin="round"/>
<polyline points="24.80,357.15 25.30,357.14 25.80,357.55 26.30,357.30 26.80,357.08 27.31,357.08 27.81,357.18 28.31,356.99 28.81,357.22 29.31,356.76 29.81,356.89 30.31,356.79 30.81,357.08 31.31,357.09 31.82,356.82 32.32,357.04 32.82,356.42 33.32,356.80 33.82,356.45 34.32,356.36 34.82,356.56 35.32,356.17 35.83,356.07 36.33,356.17 36.83,356.32 37.33,356.27 37.83,356.28 38.33,355.83 38.83,355.93 39.33,356.01 39.83,355.84 40.34,355.13 40.84,355.02 41.34,354.69 41.84,354.71 42.34,354.35 42.84,354.12 43.34,353.60 43.84,353.69 44.34,352.75 44.85,352.99 45.35,352.48 45.85,352.02 46.35,351.53 46.85,351.36 47.35,350.62 47.85,350.57 48.35,350.19 48.86,349.21 49.36,349.20 49.86,348.58 50.36,348.68 50.86,347.93 51.36,348.25 51.86,347.44 52.36,347.30 52.86,346.70 53.37,346.74 53.87,346.52 54.37,346.20 54.87,345.20 55.37,344.80 55.87,344.29 56.37,343.53 56.87,342.81 57.37,342.09 57.88,341.43 58.38,340.15 58.88,339.66 59.38,337.90 59.88,336.90 60.38,335.92 60.88,334.30 61.38,333.17 61.89,331.69 62.39,330.17 62.89,328.79 63.39,327.19 63.89,325.96 64.39,324.28 64.89,322.61 65.39,321.67 65.89,319.86 66.40,318.58 66.90,317.02 67.40,316.14 67.90,314.52 68.40,313.73 68.90,312.93 69.40,311.35 69.90,310.59 70.40,310.21 70.91,309.13 71.41,309.04 71.91,308.34 72.41,307.84 72.91,307.57 73.41,307.35 73.91,307.78 74.41,307.53 74.91,307.62 75.42,307.96 75.92,308.53 76.42,308.96 76.92,309.61 77.42,310.61 77.92,311.20 78.42,312.27 78.92,312.91 79.43,314.33 79.93,315.29 80.43,316.37 80.93,317.48 81.43,318.87 81.93,319.72 82.43,321.06 82.93,322.54 83.43,323.49 83.94,325.16 84.44,326.35 84.94,327.42 85.44,328.83 85.94,329.96 86.44,331.22 86.94,332.89 87.44,333.79 87.94,334.75 88.45,335.95 88.95,337.13 89.45,338.65 89.95,339.68 90.45,340.03 90.95,341.35 91.45,342.38 91.95,342.56 92.46,343.52 92.96,344.15 93.46,345.12 93.96,345.75 94.46,346.17 94.96,346.78 95.46,347.11 95.96,347.90 96.46,348.17 96.97,348.53 97.47,348.65 97.97,349.19 98.47,349.43 98.97,349.50 99.47,350.00 99.97,349.49 100.47,349.80 100.97,349.87 101.48,349.87 101.98,350.39 102.48,350.17 102.98,350.13 103.48,350.22 103.98,350.41 104.48,350.60 104.98,350.71 105.49,350.31 105.99,350.69 106.49,350.68 106.99,350.36 107.49,350.50 107.99,350.25 108.49,350.25 108.99,350.05 109.49,350.34 110.00,350.49 110.50,350.08 111.00,350.28 111.50,350.38 112.00,350.15" fill="none" stroke="#b3262f" stroke-width="1.00" stroke-linejoin="round"/>
<polyline points="24.80,366.23 25.30,366.04 25.80,366.50 26.30,366.27 26.80,366.16 27.31,366.24 27.81,366.31 28.31,366.15 28.81,365.73 29.31,366.29 29.81,365.64 30.31,365.61 30.81,365.59 31.31,365.72 31.82,365.86 32.32,365.44 32.82,365.42 33.32,365.58 33.82,365.81 34.32,365.20 34.82,365.74 35.32,365.22 35.83,365.60 36.33,365.07 36.83,365.49 37.33,365.45 37.83,365.35 38.33,365.01 38.83,365.10 39.33,364.84 39.83,364.15 40.34,364.30 40.84,364.02 41.34,363.80 41.84,363.64 42.34,363.36 42.84,362.98 43.34,362.50 43.84,362.36 44.34,361.92 44.85,361.92 45.35,360.96 45.85,360.64 46.35,360.54 46.85,359.82 47.35,359.57 47.85,359.49 48.35,359.31 48.86,358.53 49.36,357.96 49.86,357.95 50.36,357.57 50.86,357.25 51.36,357.17 51.86,356.72 52.36,356.40 52.86,356.34 53.37,355.89 53.87,355.57 54.37,355.00 54.87,354.65 55.37,354.26 55.87,353.92 56.37,353.17 56.87,352.56 57.37,351.70 57.88,350.29 58.38,349.56 58.88,348.49 59.38,347.55 59.88,346.62 60.38,345.36 60.88,343.65 61.38,342.30 61.89,341.12 62.39,339.52 62.89,338.46 63.39,336.76 63.89,335.86 64.39,334.18 64.89,332.81 65.39,331.17 65.89,329.81 66.40,328.22 66.90,327.09 67.40,326.25 67.90,325.06 68.40,323.78 68.90,322.71 69.40,321.37 69.90,321.10 70.40,320.27 70.91,319.18 71.41,318.84 71.91,318.16 72.41,318.24 72.91,317.58 73.41,317.87 73.91,317.89 74.41,317.47 74.91,318.06 75.42,317.88 75.92,318.49 76.42,318.91 76.92,319.64 77.42,320.49 77.92,320.97 78.42,322.07 78.92,322.92 79.43,324.13 79.93,325.20 80.43,326.00 80.93,327.59 81.43,328.20 81.93,330.03 82.43,330.89 82.93,332.11 83.43,333.78 83.94,334.69 84.44,336.02 84.94,337.46 85.44,338.52 85.94,340.05 86.44,340.94 86.94,342.19 87.44,343.30 87.94,344.48 88.45,345.46 88.95,346.61 89.45,347.65 89.95,349.08 90.45,349.85 90.95,350.77 91.45,351.69 91.95,352.01 92.46,353.19 92.96,353.40 93.46,354.09 93.96,354.63 94.46,355.64 94.96,355.95 95.46,356.57 95.96,356.67 96.46,357.61 96.97,357.58 97.47,357.66 97.97,358.30 98.47,358.24 98.97,358.86 99.47,358.61 99.97,358.88 100.47,359.32 100.97,359.40 101.48,359.39 101.98,359.19 102.48,359.30 102.98,359.87 103.48,359.51 103.98,359.69 104.48,359.81 104.98,359.51 105.49,359.55 105.99,359.95 106.49,359.93 106.99,359.59 107.49,359.59 107.99,359.28 108.49,359.63 108.99,359.77 109.49,359.90 110.00,359.45 110.50,359.60 111.00,359.68 111.50,359.62 112.00,359.26" fill="none" stroke="#2d4f8e" stroke-width="1.00" stroke-linejoin="round"/>
<polyline points="114.80,280.55 115.30,280.77 115.80,281.00 116.30,280.96 116.80,280.99 117.30,280.78 117.80,281.04 118.30,280.86 118.80,280.55 119.31,280.82 119.81,280.54 120.31,281.17 120.81,281.18 121.31,280.76 121.81,280.75 122.31,281.07 122.81,280.68 123.31,280.67 123.81,280.69 124.31,280.80 124.81,281.00 125.31,281.25 125.81,280.72 126.31,281.25 126.81,280.98 127.31,281.22 127.81,281.17 128.32,280.72 128.82,281.06 129.32,280.70 129.82,280.63 130.32,280.91 130.82,281.18 131.32,281.04 131.82,280.78 132.32,281.24 132.82,281.30 133.32,280.83 133.82,280.98 134.32,281.12 134.82,281.31 135.32,280.77 135.82,281.08 136.32,281.38 136.83,281.13 137.33,281.21 137.83,281.26 138.33,281.08 138.83,280.93 139.33,281.14 139.83,281.11 140.33,280.98 140.83,281.35 141.33,281.01 141.83,281.10 142.33,281.30 142.83,281.34 143.33,281.40 143.83,281.24 144.33,280.97 144.83,281.39 145.34,281.44 145.84,281.30 146.34,281.34 146.84,281.17 147.34,281.14 147.84,281.18 148.34,280.82 148.84,281.07 149.34,280.98 149.84,280.11 150.34,279.89 150.84,278.90 151.34,277.12 151.84,275.23 152.34,273.29 152.84,270.34 153.34,267.52 153.84,264.95 154.35,262.59 154.85,261.01 155.35,260.20 155.85,260.50 156.35,261.91 156.85,264.49 157.35,267.50 157.85,270.70 158.35,273.48 158.85,275.21 159.35,276.82 159.85,278.13 160.35,278.24 160.85,278.65 161.35,278.59 161.85,278.55 162.35,278.35 162.86,278.37 163.36,278.51 163.86,278.25 164.36,278.88 164.86,279.19 165.36,278.92 165.86,279.38 166.36,279.82 166.86,280.15 167.36,280.68 167.86,281.58 168.36,281.80 168.86,282.37 169.36,283.57 169.86,283.69 170.36,284.16 170.86,284.30 171.36,284.19 171.87,284.03 172.37,283.43 172.87,283.14 173.37,282.26 173.87,281.46 174.37,280.74 174.87,280.09 175.37,279.68 175.87,278.74 176.37,278.42 176.87,277.62 177.37,277.37 177.87,277.79 178.37,277.76 178.87,278.84 179.37,279.01 179.87,279.53 180.38,280.07 180.88,280.56 181.38,281.38 181.88,281.79 182.38,282.04 182.88,282.92 183.38,285.10 183.88,289.49 184.38,296.09 184.88,303.42 185.38,308.30 185.88,309.60 186.38,308.76 186.88,306.97 187.38,305.36 187.88,303.20 188.38,301.43 188.89,299.28 189.39,298.34 189.89,296.46 190.39,295.94 190.89,295.04 191.39,294.80 191.89,293.88 192.39,293.99 192.89,292.99 193.39,293.12 193.89,292.70 194.39,292.14 194.89,291.45 195.39,291.12 195.89,290.66 196.39,289.97 196.89,289.39 197.39,289.32 197.90,288.58 198.40,287.87 198.90,287.64 199.40,287.20 199.90,286.47 200.40,286.45 200.90,286.18 201.40,285.62 201.90,285.57" fill="none" stroke="#2b4a86" stroke-width="1.00" stroke-linejoin="round"/>
<polyline points="114.80,293.06 115.30,292.79 115.80,293.34 116.30,293.31 116.80,293.00 117.30,293.14 117.80,292.83 118.30,292.85 118.80,292.90 119.31,293.19 119.81,292.86 120.31,293.39 120.81,292.77 121.31,292.86 121.81,292.79 122.31,293.28 122.81,293.00 123.31,293.08 123.81,292.98 124.31,293.21 124.81,293.05 125.31,292.92 125.81,293.08 126.31,293.00 126.81,292.87 127.31,293.37 127.81,293.28 128.32,293.27 128.82,293.43 129.32,293.09 129.82,293.09 130.32,293.12 130.82,293.12 131.32,293.31 131.82,292.85 132.32,293.18 132.82,293.23 133.32,293.10 133.82,292.88 134.32,293.37 134.82,292.89 135.32,293.28 135.82,293.00 136.32,292.92 136.83,293.03 137.33,292.95 137.83,293.02 138.33,293.40 138.83,293.44 139.33,293.19 139.83,293.39 140.33,293.28 140.83,293.30 141.33,293.57 141.83,293.18 142.33,293.58 142.83,293.46 143.33,293.46 143.83,292.99 144.33,293.05 144.83,293.02 145.34,293.24 145.84,293.67 146.34,293.62 146.84,293.59 147.34,293.08 147.84,293.47 148.34,293.46 148.84,293.36 149.34,293.13 149.84,292.29 150.34,291.69 150.84,291.16 151.34,289.75 151.84,288.02 152.34,285.39 152.84,283.01 153.34,279.60 153.84,277.38 154.35,274.96 154.85,272.93 155.35,272.05 155.85,272.85 156.35,274.58 156.85,276.85 157.35,279.61 157.85,282.73 158.35,285.75 158.85,287.33 159.35,289.40 159.85,289.85 160.35,290.30 160.85,290.42 161.35,291.04 161.85,290.92 162.35,290.44 162.86,290.25 163.36,290.68 163.86,290.96 164.36,290.53 164.86,291.22 165.36,291.68 165.86,291.76 166.36,292.24 166.86,292.85 167.36,292.95 167.86,293.52 168.36,294.38 168.86,294.91 169.36,295.48 169.86,295.85 170.36,296.64 170.86,296.37 171.36,296.62 171.87,296.54 172.37,295.78 172.87,294.98 173.37,294.43 173.87,293.60 174.37,292.89 174.87,292.09 175.37,291.47 175.87,290.78 176.37,290.25 176.87,290.01 177.37,289.86 177.87,289.97 178.37,290.08 178.87,290.80 179.37,291.32 179.87,291.63 180.38,292.47 180.88,292.77 181.38,293.40 181.88,293.81 182.38,294.01 182.88,295.26 183.38,297.61 183.88,301.84 184.38,308.11 184.88,315.21 185.38,320.75 185.88,321.72 186.38,320.69 186.88,319.39 187.38,317.28 187.88,315.58 188.38,313.79 188.89,311.89 189.39,310.18 189.89,309.34 190.39,308.36 190.89,307.03 191.39,306.72 191.89,306.29 192.39,305.76 192.89,305.61 193.39,304.89 193.89,304.91 194.39,304.56 194.89,303.54 195.39,303.49 195.89,302.67 196.39,302.39 196.89,301.87 197.39,301.51 197.90,300.84 198.40,299.99 198.90,299.77 199.40,298.92 199.90,298.92 200.40,298.39 200.90,298.01 201.40,297.77 201.90,297.59" fill="none" stroke="#3d78bd" stroke-width="1.00" stroke-linejoin="round"/>
<polyline points="114.80,302.25 115.30,302.59 115.80,302.28 116.30,302.67 116.80,302.60 117.30,302.45 117.80,302.62 118.30,302.59 118.80,302.23 119.31,302.57 119.81,302.64 120.31,302.58 120.81,302.83 121.31,302.74 121.81,302.49 122.31,302.39 122.81,302.33 123.31,302.81 123.81,302.74 124.31,302.69 124.81,302.57 125.31,302.62 125.81,302.43 126.31,302.65 126.81,302.39 127.31,302.73 127.81,302.74 128.32,302.77 128.82,302.48 129.32,302.38 129.82,302.56 130.32,302.81 130.82,302.69 131.32,302.86 131.82,302.65 132.32,302.63 132.82,302.99 133.32,302.48 133.82,302.51 134.32,302.79 134.82,302.82 135.32,302.69 135.82,302.78 136.32,302.71 136.83,302.87 137.33,303.03 137.83,302.99 138.33,302.87 138.83,302.75 139.33,303.09 139.83,302.75 140.33,302.88 140.83,303.06 141.33,302.93 141.83,302.73 142.33,302.99 142.83,302.89 143.33,303.12 143.83,302.92 144.33,302.86 144.83,303.18 145.34,302.87 145.84,302.78 146.34,303.16 146.84,303.17 147.34,302.62 147.84,302.52 148.34,303.01 148.84,302.91 149.34,302.34 149.84,301.87 150.34,301.54 150.84,300.77 151.34,298.89 151.84,297.20 152.34,295.04 152.84,292.04 153.34,289.29 153.84,286.31 154.35,284.17 154.85,282.35 155.35,281.56 155.85,282.24 156.35,283.71 156.85,286.19 157.35,289.17 157.85,292.33 158.35,294.89 158.85,297.27 159.35,298.54 159.85,299.34 160.35,299.79 160.85,300.05 161.35,300.37 161.85,299.93 162.35,300.04 162.86,300.25 163.36,300.30 163.86,300.16 164.36,300.61 164.86,300.72 165.36,300.74 165.86,301.01 166.36,301.46 166.86,302.34 167.36,302.56 167.86,303.41 168.36,304.09 168.86,304.66 169.36,304.93 169.86,305.12 170.36,305.68 170.86,305.82 171.36,306.10 171.87,305.90 172.37,305.64 172.87,304.93 173.37,304.45 173.87,303.50 174.37,302.62 174.87,302.09 175.37,300.92 175.87,300.57 176.37,299.94 176.87,299.65 177.37,298.93 177.87,299.12 178.37,299.99 178.87,299.94 179.37,300.75 179.87,301.46 180.38,301.92 180.88,302.66 181.38,303.10 181.88,303.05 182.38,303.48 182.88,305.21 183.38,307.39 183.88,311.89 184.38,318.73 184.88,326.23 185.38,331.86 185.88,332.88 186.38,332.19 186.88,330.89 187.38,328.61 187.88,326.80 188.38,324.07 188.89,322.66 189.39,321.05 189.89,319.90 190.39,318.25 190.89,317.81 191.39,317.24 191.89,316.78 192.39,316.25 192.89,315.70 193.39,315.72 193.89,315.27 194.39,314.69 194.89,314.37 195.39,313.56 195.89,312.67 196.39,312.52 196.89,311.51 197.39,311.36 197.90,310.70 198.40,309.82 198.90,309.26 199.40,308.72 199.90,308.38 200.40,308.59 200.90,307.77 201.40,308.00 201.90,307.29" fill="none" stroke="#6aaad8" stroke-width="1.00" stroke-linejoin="round"/>
<polyline points="114.80,315.84 115.30,315.48 115.80,315.66 116.30,315.68 116.80,315.32 117.30,315.23 117.80,315.61 118.30,315.28 118.80,315.46 119.31,315.82 119.81,315.82 120.31,315.30 120.81,315.28 121.31,315.38 121.81,315.81 122.31,315.25 122.81,315.40 123.31,315.32 123.81,315.34 124.31,315.63 124.81,315.39 125.31,315.56 125.81,315.79 126.31,315.79 126.81,315.58 127.31,315.84 127.81,315.70 128.32,315.88 128.82,315.49 129.32,315.58 129.82,315.73 130.32,315.99 130.82,315.77 131.32,315.67 131.82,315.52 132.32,315.55 132.82,315.51 133.32,316.05 133.82,315.99 134.32,316.00 134.82,315.75 135.32,315.88 135.82,315.60 136.32,315.73 136.83,315.50 137.33,315.70 137.83,315.59 138.33,315.49 138.83,316.07 139.33,315.50 139.83,316.01 140.33,315.93 140.83,315.51 141.33,315.79 141.83,316.16 142.33,316.16 142.83,315.87 143.33,316.02 143.83,315.98 144.33,315.69 144.83,315.88 145.34,315.92 145.84,315.78 146.34,316.08 146.84,315.82 147.34,316.02 147.84,315.52 148.34,315.72 148.84,315.33 149.34,315.53 149.84,315.30 150.34,314.45 150.84,313.50 151.34,312.17 151.84,310.05 152.34,307.85 152.84,305.29 153.34,302.46 153.84,299.48 154.35,297.17 154.85,295.42 155.35,294.89 155.85,295.44 156.35,296.83 156.85,299.59 157.35,302.66 157.85,305.41 158.35,308.36 158.85,309.98 159.35,311.89 159.85,312.30 160.35,312.92 160.85,313.42 161.35,312.88 161.85,313.22 162.35,313.33 162.86,313.35 163.36,313.20 163.86,313.08 164.36,313.25 164.86,313.72 165.36,313.63 165.86,313.96 166.36,314.96 166.86,315.23 167.36,315.40 167.86,316.13 168.36,316.62 168.86,317.63 169.36,317.80 169.86,318.62 170.36,319.00 170.86,318.89 171.36,318.82 171.87,318.78 172.37,318.28 172.87,317.85 173.37,317.01 173.87,316.61 174.37,315.58 174.87,314.60 175.37,314.27 175.87,313.65 176.37,312.91 176.87,312.42 177.37,312.50 177.87,312.65 178.37,312.34 178.87,313.18 179.37,313.45 179.87,314.27 180.38,314.75 180.88,315.37 181.38,315.90 181.88,316.41 182.38,316.57 182.88,317.58 183.38,320.77 183.88,325.27 184.38,332.01 184.88,339.31 185.38,344.49 185.88,346.34 186.38,345.18 186.88,343.85 187.38,341.82 187.88,339.65 188.38,337.59 188.89,335.30 189.39,333.69 189.89,332.53 190.39,331.76 190.89,331.01 191.39,330.38 191.89,329.76 192.39,329.25 192.89,328.64 193.39,328.55 193.89,328.10 194.39,327.53 194.89,327.18 195.39,326.82 195.89,326.22 196.39,325.04 196.89,324.55 197.39,324.17 197.90,323.61 198.40,322.75 198.90,322.66 199.40,321.85 199.90,321.64 200.40,320.79 200.90,320.66 201.40,320.26 201.90,320.63" fill="none" stroke="#c5dcf0" stroke-width="1.00" stroke-linejoin="round"/>
<polyline points="114.80,326.82 115.30,326.77 115.80,326.67 116.30,326.33 116.80,326.40 117.30,326.68 117.80,326.75 118.30,326.20 118.80,326.31 119.31,326.83 119.81,326.29 120.31,326.67 120.81,326.45 121.31,326.68 121.81,326.83 122.31,326.64 122.81,326.52 123.31,326.47 123.81,326.69 124.31,326.70 124.81,326.55 125.31,326.60 125.81,326.65 126.31,326.46 126.81,326.41 127.31,326.69 127.81,326.37 128.32,326.72 128.82,326.87 129.32,326.90 129.82,326.50 130.32,326.62 130.82,326.98 131.32,326.58 131.82,327.04 132.32,326.49 132.82,326.95 133.32,326.39 133.82,326.84 134.32,326.94 134.82,326.76 135.32,326.83 135.82,327.03 136.32,327.09 136.83,326.53 137.33,326.77 137.83,326.44 138.33,326.69 138.83,326.53 139.33,326.54 139.83,326.87 140.33,326.50 140.83,326.56 141.33,326.46 141.83,327.03 142.33,326.64 142.83,326.52 143.33,326.91 143.83,326.99 144.33,326.93 144.83,326.88 145.34,326.87 145.84,327.01 146.34,326.72 146.84,327.10 147.34,326.98 147.84,327.07 148.34,327.04 148.84,326.88 149.34,326.44 149.84,326.06 150.34,325.58 150.84,324.51 151.34,322.76 151.84,321.53 152.34,318.72 152.84,316.22 153.34,313.32 153.84,310.28 154.35,308.24 154.85,306.60 155.35,306.08 155.85,306.39 156.35,307.82 156.85,310.51 157.35,313.74 157.85,316.48 158.35,319.26 158.85,320.77 159.35,322.73 159.85,323.32 160.35,323.78 160.85,324.08 161.35,323.98 161.85,323.85 162.35,323.86 162.86,323.85 163.36,323.90 163.86,324.39 164.36,324.08 164.86,324.41 165.36,324.62 165.86,325.30 166.36,325.50 166.86,326.16 167.36,326.45 167.86,326.96 168.36,327.76 168.86,328.07 169.36,329.22 169.86,329.51 170.36,329.76 170.86,330.06 171.36,330.31 171.87,329.76 172.37,329.27 172.87,328.59 173.37,328.05 173.87,327.60 174.37,326.72 174.87,325.70 175.37,325.36 175.87,324.11 176.37,323.68 176.87,323.58 177.37,323.53 177.87,323.31 178.37,323.34 178.87,324.23 179.37,324.73 179.87,325.06 180.38,325.83 180.88,326.66 181.38,326.46 181.88,326.94 182.38,327.53 182.88,329.18 183.38,331.43 183.88,336.49 184.38,343.62 184.88,351.01 185.38,356.71 185.88,357.76 186.38,357.33 186.88,355.50 187.38,353.37 187.88,351.47 188.38,349.30 188.89,346.81 189.39,345.17 189.89,343.99 190.39,342.95 190.89,342.24 191.39,341.61 191.89,341.48 192.39,340.82 192.89,340.59 193.39,339.92 193.89,339.20 194.39,338.95 194.89,338.15 195.39,337.90 195.89,337.01 196.39,336.95 196.89,335.88 197.39,335.67 197.90,334.58 198.40,333.98 198.90,333.45 199.40,333.36 199.90,332.93 200.40,332.50 200.90,332.09 201.40,331.55 201.90,331.44" fill="none" stroke="#fdd3c0" stroke-width="1.00" stroke-linejoin="round"/>
<polyline points="114.80,334.76 115.30,334.40 115.80,334.72 116.30,334.83 116.80,334.39 117.30,334.72 117.80,334.42 118.30,334.30 118.80,334.44 119.31,334.73 119.81,334.31 120.31,334.67 120.81,334.46 121.31,334.34 121.81,334.53 122.31,334.51 122.81,334.56 123.31,334.86 123.81,334.90 124.31,334.42 124.81,334.96 125.31,334.70 125.81,334.95 126.31,334.85 126.81,334.66 127.31,334.47 127.81,334.95 128.32,335.00 128.82,334.75 129.32,334.40 129.82,334.90 130.32,334.86 130.82,334.95 131.32,335.02 131.82,335.03 132.32,334.87 132.82,334.63 133.32,334.74 133.82,334.72 134.32,334.91 134.82,334.82 135.32,334.96 135.82,334.75 136.32,334.81 136.83,335.08 137.33,334.96 137.83,335.07 138.33,334.91 138.83,334.51 139.33,334.72 139.83,334.64 140.33,334.63 140.83,334.54 141.33,334.53 141.83,334.80 142.33,335.01 142.83,335.08 143.33,335.15 143.83,334.89 144.33,334.50 144.83,334.63 145.34,334.54 145.84,335.11 146.34,334.73 146.84,335.01 147.34,334.81 147.84,334.88 148.34,335.01 148.84,334.75 149.34,334.13 149.84,334.13 150.34,333.31 150.84,332.79 151.34,330.92 151.84,329.06 152.34,327.22 152.84,324.18 153.34,321.06 153.84,318.77 154.35,316.48 154.85,314.54 155.35,313.62 155.85,314.57 156.35,315.84 156.85,318.28 157.35,321.10 157.85,324.65 158.35,326.84 158.85,328.85 159.35,330.50 159.85,331.66 160.35,332.36 160.85,331.99 161.35,332.29 161.85,331.98 162.35,332.32 162.86,332.03 163.36,332.20 163.86,332.42 164.36,332.40 164.86,332.60 165.36,332.59 165.86,333.06 166.36,333.83 166.86,334.32 167.36,334.69 167.86,334.86 168.36,335.94 168.86,336.61 169.36,337.20 169.86,337.64 170.36,337.95 170.86,337.92 171.36,337.90 171.87,337.55 172.37,337.45 172.87,336.67 173.37,336.35 173.87,335.22 174.37,334.47 174.87,333.56 175.37,332.93 175.87,332.56 176.37,332.01 176.87,331.68 177.37,330.91 177.87,331.47 178.37,331.72 178.87,332.08 179.37,333.09 179.87,333.52 180.38,333.80 180.88,334.63 181.38,334.74 181.88,335.16 182.38,335.79 182.88,337.07 183.38,339.51 183.88,345.17 184.38,352.41 184.88,360.87 185.38,366.43 185.88,368.06 186.38,366.74 186.88,364.99 187.38,362.95 187.88,361.06 188.38,358.61 188.89,356.54 189.39,354.33 189.89,353.17 190.39,352.26 190.89,351.42 191.39,350.55 191.89,349.74 192.39,349.47 192.89,349.41 193.39,348.91 193.89,348.24 194.39,347.54 194.89,347.17 195.39,346.56 195.89,345.86 196.39,345.49 196.89,344.62 197.39,343.62 197.90,343.40 198.40,342.75 198.90,341.74 199.40,341.51 199.90,341.36 200.40,340.74 200.90,340.44 201.40,340.06 201.90,339.83" fill="none" stroke="#f7a088" stroke-width="1.00" stroke-linejoin="round"/>
<polyline points="114.80,339.65 115.30,339.79 115.80,339.17 116.30,339.83 116.80,339.75 117.30,339.22 117.80,339.75 118.30,339.75 118.80,339.33 119.31,339.88 119.81,339.46 120.31,339.53 120.81,339.68 121.31,339.71 121.81,339.75 122.31,339.43 122.81,339.58 123.31,339.34 123.81,339.45 124.31,339.60 124.81,339.32 125.31,339.51 125.81,339.85 126.31,339.41 126.81,339.59 127.31,339.32 127.81,339.82 128.32,339.38 128.82,339.44 129.32,339.84 129.82,339.63 130.32,339.72 130.82,339.76 131.32,339.69 131.82,339.64 132.32,339.46 132.82,339.46 133.32,339.51 133.82,339.54 134.32,339.60 134.82,340.00 135.32,339.54 135.82,339.48 136.32,339.59 136.83,339.50 137.33,339.99 137.83,340.08 138.33,339.96 138.83,340.09 139.33,339.82 139.83,339.75 140.33,339.71 140.83,339.91 141.33,339.62 141.83,339.83 142.33,339.74 142.83,339.94 143.33,340.09 143.83,339.94 144.33,339.59 144.83,339.91 145.34,340.01 145.84,339.88 146.34,339.55 146.84,339.57 147.34,339.88 147.84,339.97 148.34,339.76 148.84,339.80 149.34,339.46 149.84,339.27 150.34,338.22 150.84,337.69 151.34,336.26 151.84,333.97 152.34,331.74 152.84,329.09 153.34,326.55 153.84,323.66 154.35,320.88 154.85,319.71 155.35,318.72 155.85,319.57 156.35,320.79 156.85,323.18 157.35,326.30 157.85,329.36 158.35,331.97 158.85,334.14 159.35,335.32 159.85,336.37 160.35,336.69 160.85,337.54 161.35,337.20 161.85,336.99 162.35,336.83 162.86,337.11 163.36,336.73 163.86,336.95 164.36,337.49 164.86,337.64 165.36,338.08 165.86,338.53 166.36,338.57 166.86,339.32 167.36,339.85 167.86,340.41 168.36,340.79 168.86,341.55 169.36,341.63 169.86,342.25 170.36,342.89 170.86,343.06 171.36,343.07 171.87,342.70 172.37,342.03 172.87,341.66 173.37,340.92 173.87,340.52 174.37,339.46 174.87,339.04 175.37,338.11 175.87,337.29 176.37,336.86 176.87,336.66 177.37,336.12 177.87,336.03 178.37,336.93 178.87,337.04 179.37,338.06 179.87,338.37 180.38,338.87 180.88,339.64 181.38,339.52 181.88,340.45 182.38,340.67 182.88,342.34 183.38,345.30 183.88,350.48 184.38,357.96 184.88,367.01 185.38,372.63 185.88,373.86 186.38,372.90 186.88,370.94 187.38,369.09 187.88,366.52 188.38,364.22 188.89,362.30 189.39,360.17 189.89,358.41 190.39,357.67 190.89,356.44 191.39,356.11 191.89,355.51 192.39,354.95 192.89,354.62 193.39,353.74 193.89,353.43 194.39,352.80 194.89,352.23 195.39,351.55 195.89,350.98 196.39,350.75 196.89,350.14 197.39,349.19 197.90,348.61 198.40,347.42 198.90,347.03 199.40,346.75 199.90,346.40 200.40,345.41 200.90,345.74 201.40,345.47 201.90,344.66" fill="none" stroke="#e6453a" stroke-width="1.00" stroke-linejoin="round"/>
<polyline points="114.80,348.32 115.30,348.56 115.80,348.84 116.30,348.63 116.80,348.51 117.30,348.40 117.80,348.28 118.30,348.89 118.80,348.72 119.31,348.38 119.81,348.62 120.31,348.71 120.81,348.85 121.31,348.42 121.81,348.45 122.31,348.37 122.81,348.65 123.31,348.89 123.81,348.77 124.31,348.36 124.81,348.53 125.31,348.32 125.81,348.39 126.31,348.63 126.81,348.40 127.31,348.48 127.81,348.47 128.32,348.60 128.82,348.91 129.32,348.48 129.82,348.75 130.32,348.61 130.82,348.54 131.32,348.55 131.82,348.89 132.32,348.94 132.82,348.87 133.32,348.98 133.82,348.88 134.32,348.58 134.82,348.54 135.32,348.78 135.82,348.82 136.32,348.95 136.83,349.04 137.33,348.97 137.83,349.10 138.33,348.89 138.83,348.90 139.33,348.99 139.83,348.79 140.33,349.00 140.83,349.06 141.33,348.81 141.83,348.70 142.33,348.73 142.83,348.90 143.33,348.87 143.83,348.83 144.33,348.76 144.83,349.01 145.34,348.98 145.84,349.16 146.34,349.18 146.84,348.52 147.34,348.78 147.84,348.99 148.34,348.79 148.84,348.73 149.34,348.25 149.84,347.96 150.34,347.67 150.84,346.58 151.34,345.35 151.84,343.53 152.34,341.22 152.84,338.49 153.34,335.65 153.84,332.84 154.35,330.49 154.85,328.48 155.35,327.79 155.85,328.28 156.35,330.14 156.85,332.79 157.35,335.54 157.85,338.34 158.35,340.73 158.85,342.85 159.35,344.29 159.85,345.28 160.35,345.66 160.85,346.13 161.35,346.07 161.85,346.45 162.35,345.82 162.86,345.75 163.36,346.35 163.86,346.48 164.36,346.38 164.86,346.65 165.36,346.82 165.86,347.22 166.36,347.54 166.86,347.86 167.36,348.97 167.86,349.43 168.36,350.02 168.86,350.12 169.36,351.05 169.86,351.15 170.36,351.98 170.86,351.72 171.36,352.07 171.87,351.52 172.37,351.68 172.87,351.08 173.37,350.08 173.87,349.70 174.37,348.84 174.87,347.63 175.37,347.33 175.87,346.63 176.37,345.61 176.87,345.51 177.37,345.10 177.87,345.01 178.37,345.65 178.87,345.93 179.37,347.01 179.87,347.53 180.38,347.75 180.88,348.33 181.38,348.48 181.88,349.10 182.38,349.92 182.88,351.44 183.38,354.45 183.88,359.62 184.38,367.55 184.88,376.72 185.38,382.61 185.88,384.21 186.38,382.86 186.88,381.41 187.38,378.62 187.88,376.26 188.38,373.69 188.89,371.58 189.39,369.87 189.89,368.58 190.39,366.79 190.89,366.27 191.39,365.31 191.89,365.15 192.39,364.58 192.89,364.25 193.39,363.75 193.89,363.01 194.39,362.19 194.89,361.92 195.39,361.10 195.89,360.30 196.39,359.48 196.89,359.31 197.39,358.26 197.90,357.34 198.40,356.71 198.90,356.02 199.40,355.39 199.90,355.38 200.40,354.78 200.90,354.33 201.40,354.09 201.90,353.86" fill="none" stroke="#b3262f" stroke-width="1.00" stroke-linejoin="round"/>
<polyline points="114.80,358.04 115.30,358.53 115.80,358.58 116.30,358.24 116.80,358.17 117.30,358.12 117.80,358.04 118.30,358.14 118.80,358.14 119.31,358.60 119.81,358.14 120.31,358.15 120.81,358.67 121.31,358.67 121.81,358.10 122.31,358.26 122.81,358.73 123.31,358.32 123.81,358.49 124.31,358.54 124.81,358.52 125.31,358.11 125.81,358.58 126.31,358.65 126.81,358.40 127.31,358.34 127.81,358.61 128.32,358.80 128.82,358.77 129.32,358.26 129.82,358.65 130.32,358.47 130.82,358.82 131.32,358.82 131.82,358.48 132.32,358.78 132.82,358.78 133.32,358.24 133.82,358.45 134.32,358.84 134.82,358.34 135.32,358.49 135.82,358.63 136.32,358.44 136.83,358.75 137.33,358.34 137.83,358.63 138.33,358.61 138.83,358.24 139.33,358.79 139.83,358.79 140.33,358.84 140.83,358.38 141.33,358.63 141.83,358.37 142.33,358.78 142.83,358.70 143.33,358.90 143.83,358.38 144.33,358.47 144.83,358.34 145.34,358.95 145.84,358.76 146.34,358.41 146.84,358.82 147.34,358.61 147.84,358.55 148.34,358.76 148.84,358.60 149.34,358.20 149.84,357.67 150.34,357.09 150.84,356.10 151.34,354.54 151.84,352.62 152.34,350.50 152.84,348.01 153.34,344.76 153.84,341.75 154.35,339.03 154.85,337.96 155.35,336.83 155.85,337.29 156.35,339.28 156.85,341.99 157.35,344.51 157.85,347.56 158.35,350.39 158.85,353.10 159.35,354.31 159.85,354.99 160.35,355.88 160.85,355.98 161.35,355.72 161.85,355.63 162.35,355.77 162.86,356.16 163.36,355.82 163.86,356.33 164.36,356.08 164.86,356.30 165.36,356.45 165.86,357.16 166.36,357.26 166.86,358.25 167.36,358.52 167.86,358.64 168.36,359.65 168.86,360.15 169.36,360.87 169.86,361.34 170.36,361.36 170.86,361.81 171.36,361.89 171.87,361.27 172.37,361.41 172.87,360.74 173.37,359.71 173.87,358.91 174.37,358.37 174.87,357.74 175.37,356.97 175.87,355.90 176.37,355.65 176.87,355.23 177.37,354.81 177.87,355.14 178.37,355.57 178.87,356.15 179.37,356.31 179.87,356.89 180.38,357.88 180.88,358.54 181.38,358.63 181.88,359.29 182.38,359.60 182.88,360.88 183.38,364.31 183.88,369.77 184.38,378.69 184.88,387.98 185.38,393.94 185.88,395.64 186.38,394.89 186.88,392.45 187.38,390.13 187.88,387.35 188.38,385.22 188.89,383.06 189.39,380.90 189.89,379.44 190.39,377.71 190.89,377.19 191.39,376.57 191.89,375.84 192.39,374.87 192.89,374.41 193.39,374.34 193.89,373.62 194.39,372.84 194.89,372.11 195.39,371.28 195.89,371.09 196.39,370.22 196.89,369.14 197.39,368.36 197.90,368.20 198.40,367.43 198.90,366.12 199.40,365.63 199.90,365.61 200.40,364.87 200.90,364.81 201.40,364.28 201.90,364.00" fill="none" stroke="#2d4f8e" stroke-width="1.00" stroke-linejoin="round"/>
<text x="26.90" y="245.60" font-size="7.00" fill="#222">OCV</text>
<text x="26.10" y="286.30" font-size="7.00" fill="#222">-0.1 V</text>
<text x="26.10" y="297.60" font-size="7.00" fill="#222">-0.3 V</text>
<text x="26.10" y="309.60" font-size="7.00" fill="#222">-0.5 V</text>
<text x="26.10" y="321.70" font-size="7.00" fill="#222">-0.7 V</text>
<text x="26.10" y="331.60" font-size="7.00" fill="#222">-0.9 V</text>
<text x="26.10" y="339.70" font-size="7.00" fill="#222">-1.1 V</text>
<text x="26.10" y="347.70" font-size="7.00" fill="#222">-1.3 V</text>
<text x="26.10" y="355.70" font-size="7.00" fill="#222">-1.5 V</text>
<text x="26.10" y="364.60" font-size="7.00" fill="#222">-1.7 V</text>
<text x="69.70" y="346.90" font-size="7.00" fill="#222" text-anchor="middle">(3345)</text>
<text x="69.40" y="355.60" font-size="7.00" fill="#222" text-anchor="middle"><tspan font-style="italic">v</tspan><tspan baseline-shift="-1.80" font-size="5.00">s</tspan>NH<tspan baseline-shift="-1.80" font-size="5.00">2</tspan><tspan baseline-shift="2.00" font-size="5.00">'</tspan></text>
<text x="86.80" y="365.20" font-size="7.00" fill="#222" text-anchor="middle">(3250)</text>
<text x="86.30" y="372.60" font-size="7.00" fill="#222" text-anchor="middle">OH stretch</text>
<text x="25.30" y="393.50" font-size="7.00" fill="#222">0.01</text>
<line x1="39.70" y1="382.30" x2="39.70" y2="398.40" stroke="#808080" stroke-width="1.20"/><line x1="38.20" y1="382.30" x2="41.20" y2="382.30" stroke="#808080" stroke-width="0.80"/><line x1="38.20" y1="398.40" x2="41.20" y2="398.40" stroke="#808080" stroke-width="0.80"/>
<text x="160.60" y="375.20" font-size="7.00" fill="#222" text-anchor="middle">(1395)</text>
<text x="160.60" y="383.20" font-size="7.00" fill="#222" text-anchor="middle">*COOH</text>
<text x="175.00" y="389.70" font-size="7.00" fill="#222" text-anchor="middle">(1339)</text>
<text x="175.00" y="398.00" font-size="7.00" fill="#222" text-anchor="middle">*NO<tspan baseline-shift="-1.80" font-size="5.00">3</tspan><tspan baseline-shift="4.30" font-size="5.00">-</tspan></text>
<text x="224.30" y="228.50" font-size="16.00" fill="#111">e</text>
<defs><clipPath id="clipe"><rect x="252.4" y="224.2" width="177.5" height="177.3"/></clipPath><filter id="blure" x="-20%" y="-20%" width="140%" height="140%"><feGaussianBlur stdDeviation="4.0"/></filter></defs>
<g clip-path="url(#clipe)"><g filter="url(#blure)">
<rect x="242.4" y="214.2" width="197.5" height="197.3" fill="#4a4ef2"/>
<path d="M240.4 272 Q280 262 296 268 Q312 280 316 320 L318 410 L240.4 410 Z" fill="#e2e2fa"/>
<path d="M240.4 280 Q282 272 294 278 Q306 290 308 330 L309 410 L240.4 410 Z" fill="#faf6f8"/>
<defs><linearGradient id="gel" x1="0" y1="0" x2="0" y2="1"><stop offset="0.000" stop-color="#4a4ef2" stop-opacity="1.00"/><stop offset="0.300" stop-color="#5458f2" stop-opacity="1.00"/><stop offset="0.450" stop-color="#8084f3" stop-opacity="1.00"/><stop offset="0.600" stop-color="#b4b6f6" stop-opacity="1.00"/><stop offset="0.750" stop-color="#dcdcf9" stop-opacity="1.00"/><stop offset="0.900" stop-color="#f6f4fa" stop-opacity="1.00"/><stop offset="1.000" stop-color="#faf6f8" stop-opacity="0.00"/></linearGradient></defs><rect x="240.4" y="214.2" width="72.0" height="96.0" fill="url(#gel)"/>
<ellipse cx="319.0" cy="350.0" rx="5.0" ry="50.0" fill="#9a9ef4"/>
<ellipse cx="258.0" cy="330.0" rx="5.0" ry="30.0" fill="#e6e6fa"/>
<ellipse cx="258.0" cy="380.0" rx="5.0" ry="14.0" fill="#e6e6fa"/>
<ellipse cx="277.0" cy="335.0" rx="15.0" ry="60.0" fill="#f9d2d2"/>
<ellipse cx="283.0" cy="304.0" rx="6.0" ry="14.0" fill="#f7bcbc"/>
<ellipse cx="283.0" cy="340.0" rx="6.0" ry="16.0" fill="#f7bebe"/>
<ellipse cx="283.0" cy="390.0" rx="6.0" ry="16.0" fill="#f6b6b6"/>
<ellipse cx="283.0" cy="345.0" rx="5.0" ry="55.0" fill="#f8c4c4"/>
<ellipse cx="268.0" cy="296.0" rx="4.0" ry="12.0" fill="#f8c8c8"/>
<ellipse cx="268.0" cy="360.0" rx="4.0" ry="12.0" fill="#f8c8c8"/>
<ellipse cx="268.0" cy="390.0" rx="4.0" ry="12.0" fill="#f9cccc"/>
<ellipse cx="297.0" cy="360.0" rx="7.0" ry="8.0" fill="#fadada"/>
<ellipse cx="376.0" cy="300.0" rx="11.0" ry="34.0" fill="#8a8ef3"/>
<ellipse cx="376.0" cy="308.0" rx="8.0" ry="22.0" fill="#b8baf6"/>
<ellipse cx="376.0" cy="316.0" rx="6.0" ry="12.0" fill="#dcdcf9"/>
<ellipse cx="330.0" cy="330.0" rx="4.0" ry="60.0" fill="#6a6ef2"/>
<ellipse cx="353.0" cy="372.0" rx="5.0" ry="24.0" fill="#eeeefc"/>
<ellipse cx="353.0" cy="345.0" rx="4.0" ry="14.0" fill="#b8baf6"/>
<path d="M375.4 316 Q364 336 361 368 Q359 400 375 408 Q391 400 390 368 Q387 336 375.4 316 Z" fill="#fdf2f2"/>
<path d="M375.4 326 Q366 344 363.5 368 Q362.5 396 375 402 Q388 396 387.5 368 Q385 344 375.4 326 Z" fill="#f6a4a4"/>
<ellipse cx="375.4" cy="372.0" rx="9.5" ry="24.0" fill="#f36c6c"/>
<ellipse cx="375.4" cy="375.0" rx="6.5" ry="16.0" fill="#f05050"/>
<ellipse cx="392.7" cy="368.0" rx="2.5" ry="7.0" fill="#d6d8f8"/>
<path d="M397 300 Q398 268 412 262 L440 262 L440 396 Q420 404 406 398 Q397 385 397 350 Z" fill="#dcdcf9"/>
<path d="M400 300 Q401 278 414 272 L440 272 L440 396 Q420 402 408 396 Q400 382 400 350 Z" fill="#fce8ea"/>
<ellipse cx="416.0" cy="340.0" rx="13.0" ry="50.0" fill="#f8c8c8"/>
<ellipse cx="414.0" cy="352.0" rx="12.0" ry="36.0" fill="#f6a8a8"/>
<ellipse cx="413.0" cy="360.0" rx="9.0" ry="24.0" fill="#f48080"/>
<ellipse cx="412.0" cy="362.0" rx="5.0" ry="14.0" fill="#f37070"/>
<ellipse cx="424.0" cy="300.0" rx="6.0" ry="20.0" fill="#f8c4c4"/>
</g></g>
<line x1="277.30" y1="224.20" x2="277.30" y2="401.50" stroke="#333" stroke-width="0.50" stroke-dasharray="0.8 0.6"/>
<line x1="289.50" y1="224.20" x2="289.50" y2="401.50" stroke="#333" stroke-width="0.50" stroke-dasharray="0.8 0.6"/>
<line x1="337.20" y1="224.20" x2="337.20" y2="401.50" stroke="#333" stroke-width="0.50" stroke-dasharray="0.8 0.6"/>
<line x1="347.80" y1="224.20" x2="347.80" y2="401.50" stroke="#333" stroke-width="0.50" stroke-dasharray="0.8 0.6"/>
<line x1="358.60" y1="224.20" x2="358.60" y2="401.50" stroke="#333" stroke-width="0.50" stroke-dasharray="0.8 0.6"/>
<line x1="362.60" y1="224.20" x2="362.60" y2="401.50" stroke="#333" stroke-width="0.50" stroke-dasharray="0.8 0.6"/>
<line x1="387.50" y1="224.20" x2="387.50" y2="401.50" stroke="#333" stroke-width="0.50" stroke-dasharray="0.8 0.6"/>
<rect x="252.40" y="224.20" width="177.50" height="177.30" fill="none" stroke="#2b2b2b" stroke-width="0.90"/>
<text x="282.50" y="363.00" font-size="6.80" fill="#222" transform="rotate(-90 282.50 363.00)">N-C-N</text>
<text x="345.30" y="376.00" font-size="6.80" fill="#222" transform="rotate(-90 345.30 376.00)">C-N</text>
<text x="357.20" y="381.00" font-size="6.80" fill="#222" transform="rotate(-90 357.20 381.00)">*OCO</text>
<text x="378.20" y="382.30" font-size="6.80" fill="#222" transform="rotate(-90 378.20 382.30)">*COOH</text>
<text x="249.40" y="227.30" font-size="8.20" fill="#222" text-anchor="end">0.0</text>
<line x1="252.40" y1="224.40" x2="254.40" y2="224.40" stroke="#2b2b2b" stroke-width="0.70"/>
<text x="249.40" y="279.00" font-size="8.20" fill="#222" text-anchor="end">−0.5</text>
<line x1="252.40" y1="276.10" x2="254.40" y2="276.10" stroke="#2b2b2b" stroke-width="0.70"/>
<text x="249.40" y="331.40" font-size="8.20" fill="#222" text-anchor="end">−1.0</text>
<line x1="252.40" y1="328.50" x2="254.40" y2="328.50" stroke="#2b2b2b" stroke-width="0.70"/>
<text x="249.40" y="383.40" font-size="8.20" fill="#222" text-anchor="end">−1.5</text>
<line x1="252.40" y1="380.50" x2="254.40" y2="380.50" stroke="#2b2b2b" stroke-width="0.70"/>
<text x="252.40" y="411.60" font-size="7.60" fill="#222" text-anchor="middle">1500</text>
<line x1="252.40" y1="401.50" x2="252.40" y2="399.30" stroke="#2b2b2b" stroke-width="0.70"/>
<text x="311.60" y="411.60" font-size="7.60" fill="#222" text-anchor="middle">1450</text>
<line x1="311.60" y1="401.50" x2="311.60" y2="399.30" stroke="#2b2b2b" stroke-width="0.70"/>
<text x="370.80" y="411.60" font-size="7.60" fill="#222" text-anchor="middle">1400</text>
<line x1="370.80" y1="401.50" x2="370.80" y2="399.30" stroke="#2b2b2b" stroke-width="0.70"/>
<text x="430.30" y="411.60" font-size="7.60" fill="#222" text-anchor="middle">1350</text>
<line x1="430.30" y1="401.50" x2="430.30" y2="399.30" stroke="#2b2b2b" stroke-width="0.70"/>
<line x1="282.00" y1="401.50" x2="282.00" y2="400.20" stroke="#2b2b2b" stroke-width="0.70"/>
<line x1="341.20" y1="401.50" x2="341.20" y2="400.20" stroke="#2b2b2b" stroke-width="0.70"/>
<line x1="400.30" y1="401.50" x2="400.30" y2="400.20" stroke="#2b2b2b" stroke-width="0.70"/>
<text x="348.20" y="421.90" font-size="9.00" fill="#222" text-anchor="middle">Wavenumbers (cm<tspan baseline-shift="3.00" font-size="5.50">-1</tspan>)</text>
<text x="231.00" y="308.40" font-size="9.30" fill="#222" text-anchor="middle" transform="rotate(-90 231.00 308.40)">Potential (V <tspan font-style="italic">vs.</tspan> RHE)</text>
<text x="252.80" y="222.60" font-size="7.30" fill="#222">CuRu/CS</text>
<text x="460.50" y="222.60" font-size="8.00" fill="#222" text-anchor="end">Indensity (arb.units)</text>
<defs><linearGradient id="cbe" x1="0" y1="0" x2="0" y2="1"><stop offset="0.000" stop-color="#f42a2a"/><stop offset="0.200" stop-color="#f66a6a"/><stop offset="0.380" stop-color="#fab8b8"/><stop offset="0.500" stop-color="#fdf6f6"/><stop offset="0.560" stop-color="#eeeefd"/><stop offset="0.720" stop-color="#a8aaf6"/><stop offset="0.880" stop-color="#5c60f2"/><stop offset="1.000" stop-color="#2a2cf6"/></linearGradient></defs><rect x="433.6" y="227.3" width="7.1" height="170.2" fill="url(#cbe)"/>
<text x="442.30" y="230.20" font-size="6.40" fill="#222">0.004</text>
<text x="442.30" y="251.10" font-size="6.40" fill="#222">0.003</text>
<text x="442.30" y="272.30" font-size="6.40" fill="#222">0.003</text>
<text x="442.30" y="293.50" font-size="6.40" fill="#222">0.002</text>
<text x="442.30" y="314.70" font-size="6.40" fill="#222">0.002</text>
<text x="442.30" y="335.90" font-size="6.40" fill="#222">0.001</text>
<text x="442.30" y="357.70" font-size="6.40" fill="#222">0.001</text>
<text x="442.30" y="378.90" font-size="6.40" fill="#222">0.000</text>
<text x="442.30" y="400.10" font-size="6.40" fill="#222">−0.00</text>
<text x="480.00" y="227.30" font-size="16.00" fill="#111">f</text>
<rect x="493.40" y="223.00" width="177.80" height="176.70" fill="none" stroke="#2b2b2b" stroke-width="0.90"/>
<line x1="493.40" y1="399.70" x2="493.40" y2="401.90" stroke="#2b2b2b" stroke-width="0.70"/>
<text x="493.40" y="409.80" font-size="7.60" fill="#222" text-anchor="middle">100</text>
<line x1="511.18" y1="399.70" x2="511.18" y2="401.00" stroke="#2b2b2b" stroke-width="0.70"/>
<text x="511.18" y="409.80" font-size="7.60" fill="#222" text-anchor="middle">150</text>
<line x1="528.96" y1="399.70" x2="528.96" y2="401.90" stroke="#2b2b2b" stroke-width="0.70"/>
<text x="528.96" y="409.80" font-size="7.60" fill="#222" text-anchor="middle">200</text>
<line x1="546.74" y1="399.70" x2="546.74" y2="401.00" stroke="#2b2b2b" stroke-width="0.70"/>
<text x="546.74" y="409.80" font-size="7.60" fill="#222" text-anchor="middle">250</text>
<line x1="564.52" y1="399.70" x2="564.52" y2="401.90" stroke="#2b2b2b" stroke-width="0.70"/>
<text x="564.52" y="409.80" font-size="7.60" fill="#222" text-anchor="middle">300</text>
<line x1="582.30" y1="399.70" x2="582.30" y2="401.00" stroke="#2b2b2b" stroke-width="0.70"/>
<text x="582.30" y="409.80" font-size="7.60" fill="#222" text-anchor="middle">350</text>
<line x1="600.08" y1="399.70" x2="600.08" y2="401.90" stroke="#2b2b2b" stroke-width="0.70"/>
<text x="600.08" y="409.80" font-size="7.60" fill="#222" text-anchor="middle">400</text>
<line x1="617.86" y1="399.70" x2="617.86" y2="401.00" stroke="#2b2b2b" stroke-width="0.70"/>
<text x="617.86" y="409.80" font-size="7.60" fill="#222" text-anchor="middle">450</text>
<line x1="635.64" y1="399.70" x2="635.64" y2="401.90" stroke="#2b2b2b" stroke-width="0.70"/>
<text x="635.64" y="409.80" font-size="7.60" fill="#222" text-anchor="middle">500</text>
<line x1="653.42" y1="399.70" x2="653.42" y2="401.00" stroke="#2b2b2b" stroke-width="0.70"/>
<text x="653.42" y="409.80" font-size="7.60" fill="#222" text-anchor="middle">550</text>
<line x1="671.20" y1="399.70" x2="671.20" y2="401.90" stroke="#2b2b2b" stroke-width="0.70"/>
<text x="671.20" y="409.80" font-size="7.60" fill="#222" text-anchor="middle">600</text>
<text x="582.20" y="421.00" font-size="9.00" fill="#222" text-anchor="middle">Temperature (℃)</text>
<text x="484.50" y="312.00" font-size="8.95" fill="#222" text-anchor="middle" transform="rotate(-90 484.50 312.00)">Intensity (arb.units)</text>
<path d="M493.40 384.60 C496.17 384.27 504.08 383.35 510.00 382.60 C515.92 381.85 523.07 381.28 528.90 380.10 C534.73 378.92 541.00 376.65 545.00 375.50 C549.00 374.35 550.40 373.78 552.90 373.20 C555.40 372.62 557.13 372.28 560.00 372.00 C562.87 371.72 566.77 371.62 570.10 371.50 C573.43 371.38 577.15 371.30 580.00 371.30 C582.85 371.30 584.53 371.55 587.20 371.50 C589.87 371.45 593.13 371.28 596.00 371.00 C598.87 370.72 601.73 370.43 604.40 369.80 C607.07 369.17 609.72 368.17 612.00 367.20 C614.28 366.23 616.27 365.00 618.10 364.00 C619.93 363.00 621.52 361.90 623.00 361.20 C624.48 360.50 625.83 360.07 627.00 359.80 C628.17 359.53 629.00 359.43 630.00 359.60 C631.00 359.77 632.00 360.07 633.00 360.80 C634.00 361.53 634.77 362.80 636.00 364.00 C637.23 365.20 638.90 366.87 640.40 368.00 C641.90 369.13 643.40 370.22 645.00 370.80 C646.60 371.38 648.20 371.42 650.00 371.50 C651.80 371.58 653.63 371.52 655.80 371.30 C657.97 371.08 660.43 370.65 663.00 370.20 C665.57 369.75 669.83 368.87 671.20 368.60" stroke="#e05a5a" stroke-width="1.10" fill="none"/>
<path d="M493.40 384.60 C496.17 384.27 504.08 383.35 510.00 382.60 C515.92 381.85 522.90 381.37 528.90 380.10 C534.90 378.83 540.85 376.60 546.00 375.00 C551.15 373.40 555.22 371.93 559.80 370.50 C564.38 369.07 570.13 367.82 573.50 366.40 C576.87 364.98 578.25 363.27 580.00 362.00 C581.75 360.73 582.75 359.55 584.00 358.80 C585.25 358.05 586.33 357.72 587.50 357.50 C588.67 357.28 589.92 358.42 591.00 357.50 C592.08 356.58 593.00 354.92 594.00 352.00 C595.00 349.08 595.83 346.47 597.00 340.00 C598.17 333.53 599.83 321.87 601.00 313.20 C602.17 304.53 603.08 295.20 604.00 288.00 C604.92 280.80 605.75 274.00 606.50 270.00 C607.25 266.00 607.88 265.20 608.50 264.00 C609.12 262.80 609.62 262.63 610.20 262.80 C610.78 262.97 611.37 262.80 612.00 265.00 C612.63 267.20 613.33 270.83 614.00 276.00 C614.67 281.17 615.32 288.67 616.00 296.00 C616.68 303.33 617.43 312.67 618.10 320.00 C618.77 327.33 619.38 334.27 620.00 340.00 C620.62 345.73 621.13 350.57 621.80 354.40 C622.47 358.23 623.18 360.65 624.00 363.00 C624.82 365.35 625.70 367.08 626.70 368.50 C627.70 369.92 628.87 370.78 630.00 371.50 C631.13 372.22 632.17 372.55 633.50 372.80 C634.83 373.05 636.57 373.17 638.00 373.00 C639.43 372.83 640.43 372.33 642.10 371.80 C643.77 371.27 645.72 370.70 648.00 369.80 C650.28 368.90 653.13 367.70 655.80 366.40 C658.47 365.10 661.43 363.55 664.00 362.00 C666.57 360.45 670.00 357.92 671.20 357.10" stroke="#1f5aa6" stroke-width="1.30" fill="none"/>
<line x1="500.80" y1="233.30" x2="516.90" y2="233.30" stroke="#1f5aa6" stroke-width="1.40"/>
<text x="520.30" y="236.10" font-size="7.60" fill="#222">CuRu/MCHS</text>
<line x1="500.80" y1="242.20" x2="516.90" y2="242.20" stroke="#e05a5a" stroke-width="1.20"/>
<text x="520.30" y="245.10" font-size="7.60" fill="#222">CuRu/CS</text>
<text x="589.00" y="262.80" font-size="7.30" fill="#1f5aa6">429.2</text>
<line x1="610.20" y1="255.00" x2="610.20" y2="281.00" stroke="#1f5aa6" stroke-width="0.90" stroke-dasharray="3 1.2 0.8 1.2"/>
<text x="631.80" y="352.30" font-size="7.30" fill="#e05a5a">482.6</text>
<line x1="629.10" y1="351.00" x2="629.10" y2="377.00" stroke="#e05a5a" stroke-width="0.90" stroke-dasharray="3 1.2 0.8 1.2"/>
<defs><radialGradient id="sCu" cx="0.5" cy="0.5" r="0.5" fx="0.4" fy="0.35"><stop offset="0" stop-color="#6cbbe6"/><stop offset="0.5" stop-color="#2f8bc9"/><stop offset="1" stop-color="#16568a"/></radialGradient><radialGradient id="sO" cx="0.5" cy="0.5" r="0.5" fx="0.4" fy="0.35"><stop offset="0" stop-color="#ff8080"/><stop offset="0.5" stop-color="#f01010"/><stop offset="1" stop-color="#b00000"/></radialGradient><radialGradient id="sH" cx="0.5" cy="0.5" r="0.5" fx="0.4" fy="0.35"><stop offset="0" stop-color="#ffffff"/><stop offset="0.7" stop-color="#f0f0f0"/><stop offset="1" stop-color="#b8b8b8"/></radialGradient><radialGradient id="sP" cx="0.5" cy="0.5" r="0.5" fx="0.4" fy="0.35"><stop offset="0" stop-color="#fde0e6"/><stop offset="0.5" stop-color="#f4a6b6"/><stop offset="1" stop-color="#d07088"/></radialGradient><radialGradient id="sN" cx="0.5" cy="0.5" r="0.5" fx="0.4" fy="0.35"><stop offset="0" stop-color="#6070e0"/><stop offset="0.5" stop-color="#1c2aa0"/><stop offset="1" stop-color="#0c1460"/></radialGradient><radialGradient id="sC" cx="0.5" cy="0.5" r="0.5" fx="0.4" fy="0.35"><stop offset="0" stop-color="#c8c8c8"/><stop offset="0.6" stop-color="#8a8a8a"/><stop offset="1" stop-color="#5a5a5a"/></radialGradient><pattern id="slab" width="2.6" height="2.6" patternUnits="userSpaceOnUse"><rect width="2.6" height="2.6" fill="#9a9a9a"/><path d="M0 2.6 L2.6 0" stroke="#626262" stroke-width="0.7"/><circle cx="1.3" cy="1.3" r="0.45" fill="#dadada"/></pattern><g id="cuClu"><circle cx="0.0" cy="0.0" r="2.35" fill="url(#sCu)"/><circle cx="3.9" cy="0.0" r="2.35" fill="url(#sCu)"/><circle cx="7.8" cy="0.0" r="2.35" fill="url(#sCu)"/><circle cx="11.7" cy="0.0" r="2.35" fill="url(#sCu)"/><circle cx="15.6" cy="0.0" r="2.35" fill="url(#sCu)"/><circle cx="19.5" cy="0.0" r="2.35" fill="url(#sCu)"/><circle cx="23.4" cy="0.0" r="2.35" fill="url(#sCu)"/><circle cx="27.3" cy="0.0" r="2.35" fill="url(#sCu)"/><circle cx="31.2" cy="0.0" r="2.35" fill="url(#sCu)"/><circle cx="1.9" cy="3.7" r="2.35" fill="url(#sCu)"/><circle cx="5.8" cy="3.7" r="2.35" fill="url(#sCu)"/><circle cx="9.8" cy="3.7" r="2.35" fill="url(#sCu)"/><circle cx="13.6" cy="3.7" r="2.35" fill="url(#sCu)"/><circle cx="17.6" cy="3.7" r="2.35" fill="url(#sCu)"/><circle cx="21.4" cy="3.7" r="2.35" fill="url(#sCu)"/><circle cx="25.3" cy="3.7" r="2.35" fill="url(#sCu)"/><circle cx="29.2" cy="3.7" r="2.35" fill="url(#sCu)"/><circle cx="33.1" cy="3.7" r="2.35" fill="url(#sCu)"/><circle cx="0.0" cy="7.4" r="2.35" fill="url(#sCu)"/><circle cx="3.9" cy="7.4" r="2.35" fill="url(#sCu)"/><circle cx="7.8" cy="7.4" r="2.35" fill="url(#sCu)"/><circle cx="11.7" cy="7.4" r="2.35" fill="url(#sCu)"/><circle cx="15.6" cy="7.4" r="2.35" fill="url(#sCu)"/><circle cx="19.5" cy="7.4" r="2.35" fill="url(#sCu)"/><circle cx="23.4" cy="7.4" r="2.35" fill="url(#sCu)"/><circle cx="27.3" cy="7.4" r="2.35" fill="url(#sCu)"/><circle cx="31.2" cy="7.4" r="2.35" fill="url(#sCu)"/><circle cx="1.9" cy="11.1" r="2.35" fill="url(#sCu)"/><circle cx="5.8" cy="11.1" r="2.35" fill="url(#sCu)"/><circle cx="9.8" cy="11.1" r="2.35" fill="url(#sCu)"/><circle cx="13.6" cy="11.1" r="2.35" fill="url(#sCu)"/><circle cx="17.6" cy="11.1" r="2.35" fill="url(#sCu)"/><circle cx="21.4" cy="11.1" r="2.35" fill="url(#sCu)"/><circle cx="25.3" cy="11.1" r="2.35" fill="url(#sCu)"/><circle cx="29.2" cy="11.1" r="2.35" fill="url(#sCu)"/><circle cx="33.1" cy="11.1" r="2.35" fill="url(#sCu)"/><circle cx="0.0" cy="14.8" r="2.35" fill="url(#sCu)"/><circle cx="3.9" cy="14.8" r="2.35" fill="url(#sCu)"/><circle cx="7.8" cy="14.8" r="2.35" fill="url(#sCu)"/><circle cx="11.7" cy="14.8" r="2.35" fill="url(#sCu)"/><circle cx="15.6" cy="14.8" r="2.35" fill="url(#sCu)"/><circle cx="19.5" cy="14.8" r="2.35" fill="url(#sCu)"/><circle cx="23.4" cy="14.8" r="2.35" fill="url(#sCu)"/><circle cx="27.3" cy="14.8" r="2.35" fill="url(#sCu)"/><circle cx="31.2" cy="14.8" r="2.35" fill="url(#sCu)"/><circle cx="1.9" cy="18.5" r="2.35" fill="url(#sCu)"/><circle cx="5.8" cy="18.5" r="2.35" fill="url(#sCu)"/><circle cx="9.8" cy="18.5" r="2.35" fill="url(#sCu)"/><circle cx="13.6" cy="18.5" r="2.35" fill="url(#sCu)"/><circle cx="17.6" cy="18.5" r="2.35" fill="url(#sCu)"/><circle cx="21.4" cy="18.5" r="2.35" fill="url(#sCu)"/><circle cx="25.3" cy="18.5" r="2.35" fill="url(#sCu)"/><circle cx="29.2" cy="18.5" r="2.35" fill="url(#sCu)"/><circle cx="33.1" cy="18.5" r="2.35" fill="url(#sCu)"/><circle cx="0.0" cy="22.2" r="2.35" fill="url(#sCu)"/><circle cx="3.9" cy="22.2" r="2.35" fill="url(#sCu)"/><circle cx="7.8" cy="22.2" r="2.35" fill="url(#sCu)"/><circle cx="11.7" cy="22.2" r="2.35" fill="url(#sCu)"/><circle cx="15.6" cy="22.2" r="2.35" fill="url(#sCu)"/><circle cx="19.5" cy="22.2" r="2.35" fill="url(#sCu)"/><circle cx="23.4" cy="22.2" r="2.35" fill="url(#sCu)"/><circle cx="27.3" cy="22.2" r="2.35" fill="url(#sCu)"/><circle cx="31.2" cy="22.2" r="2.35" fill="url(#sCu)"/><circle cx="1.9" cy="25.9" r="2.35" fill="url(#sCu)"/><circle cx="5.8" cy="25.9" r="2.35" fill="url(#sCu)"/><circle cx="9.8" cy="25.9" r="2.35" fill="url(#sCu)"/><circle cx="13.6" cy="25.9" r="2.35" fill="url(#sCu)"/><circle cx="17.6" cy="25.9" r="2.35" fill="url(#sCu)"/><circle cx="21.4" cy="25.9" r="2.35" fill="url(#sCu)"/><circle cx="25.3" cy="25.9" r="2.35" fill="url(#sCu)"/><circle cx="29.2" cy="25.9" r="2.35" fill="url(#sCu)"/><circle cx="33.1" cy="25.9" r="2.35" fill="url(#sCu)"/></g><g id="cuClu2"><circle cx="0.0" cy="0.0" r="2.35" fill="url(#sCu)"/><circle cx="3.9" cy="0.0" r="2.35" fill="url(#sCu)"/><circle cx="7.8" cy="0.0" r="2.35" fill="url(#sCu)"/><circle cx="11.7" cy="0.0" r="2.35" fill="url(#sCu)"/><circle cx="15.6" cy="0.0" r="2.35" fill="url(#sCu)"/><circle cx="1.9" cy="3.7" r="2.35" fill="url(#sCu)"/><circle cx="5.8" cy="3.7" r="2.35" fill="url(#sCu)"/><circle cx="9.8" cy="3.7" r="2.35" fill="url(#sCu)"/><circle cx="13.6" cy="3.7" r="2.35" fill="url(#sCu)"/><circle cx="17.6" cy="3.7" r="2.35" fill="url(#sCu)"/><circle cx="0.0" cy="7.4" r="2.35" fill="url(#sCu)"/><circle cx="3.9" cy="7.4" r="2.35" fill="url(#sCu)"/><circle cx="7.8" cy="7.4" r="2.35" fill="url(#sCu)"/><circle cx="11.7" cy="7.4" r="2.35" fill="url(#sCu)"/><circle cx="15.6" cy="7.4" r="2.35" fill="url(#sCu)"/><circle cx="1.9" cy="11.1" r="2.35" fill="url(#sCu)"/><circle cx="5.8" cy="11.1" r="2.35" fill="url(#sCu)"/><circle cx="9.8" cy="11.1" r="2.35" fill="url(#sCu)"/><circle cx="13.6" cy="11.1" r="2.35" fill="url(#sCu)"/><circle cx="17.6" cy="11.1" r="2.35" fill="url(#sCu)"/><circle cx="0.0" cy="14.8" r="2.35" fill="url(#sCu)"/><circle cx="3.9" cy="14.8" r="2.35" fill="url(#sCu)"/><circle cx="7.8" cy="14.8" r="2.35" fill="url(#sCu)"/><circle cx="11.7" cy="14.8" r="2.35" fill="url(#sCu)"/><circle cx="15.6" cy="14.8" r="2.35" fill="url(#sCu)"/><circle cx="1.9" cy="18.5" r="2.35" fill="url(#sCu)"/><circle cx="5.8" cy="18.5" r="2.35" fill="url(#sCu)"/><circle cx="9.8" cy="18.5" r="2.35" fill="url(#sCu)"/><circle cx="13.6" cy="18.5" r="2.35" fill="url(#sCu)"/><circle cx="17.6" cy="18.5" r="2.35" fill="url(#sCu)"/><circle cx="0.0" cy="22.2" r="2.35" fill="url(#sCu)"/><circle cx="3.9" cy="22.2" r="2.35" fill="url(#sCu)"/><circle cx="7.8" cy="22.2" r="2.35" fill="url(#sCu)"/><circle cx="11.7" cy="22.2" r="2.35" fill="url(#sCu)"/><circle cx="15.6" cy="22.2" r="2.35" fill="url(#sCu)"/><circle cx="1.9" cy="25.9" r="2.35" fill="url(#sCu)"/><circle cx="5.8" cy="25.9" r="2.35" fill="url(#sCu)"/><circle cx="9.8" cy="25.9" r="2.35" fill="url(#sCu)"/><circle cx="13.6" cy="25.9" r="2.35" fill="url(#sCu)"/><circle cx="17.6" cy="25.9" r="2.35" fill="url(#sCu)"/></g></defs>
<text x="1.80" y="441.50" font-size="16.00" fill="#111">g</text>
<rect x="29.40" y="438.30" width="640.40" height="177.90" fill="none" stroke="#2b2b2b" stroke-width="0.90"/>
<line x1="29.40" y1="604.36" x2="30.90" y2="604.36" stroke="#2b2b2b" stroke-width="0.70"/>
<line x1="29.40" y1="591.78" x2="32.00" y2="591.78" stroke="#2b2b2b" stroke-width="0.70"/>
<text x="25.60" y="594.78" font-size="8.60" fill="#222" text-anchor="end">−6</text>
<line x1="29.40" y1="579.20" x2="30.90" y2="579.20" stroke="#2b2b2b" stroke-width="0.70"/>
<line x1="29.40" y1="566.62" x2="32.00" y2="566.62" stroke="#2b2b2b" stroke-width="0.70"/>
<text x="25.60" y="569.62" font-size="8.60" fill="#222" text-anchor="end">−4</text>
<line x1="29.40" y1="554.04" x2="30.90" y2="554.04" stroke="#2b2b2b" stroke-width="0.70"/>
<line x1="29.40" y1="541.46" x2="32.00" y2="541.46" stroke="#2b2b2b" stroke-width="0.70"/>
<text x="25.60" y="544.46" font-size="8.60" fill="#222" text-anchor="end">−2</text>
<line x1="29.40" y1="528.88" x2="30.90" y2="528.88" stroke="#2b2b2b" stroke-width="0.70"/>
<line x1="29.40" y1="516.30" x2="32.00" y2="516.30" stroke="#2b2b2b" stroke-width="0.70"/>
<text x="25.60" y="519.30" font-size="8.60" fill="#222" text-anchor="end">0</text>
<line x1="29.40" y1="503.72" x2="30.90" y2="503.72" stroke="#2b2b2b" stroke-width="0.70"/>
<line x1="29.40" y1="491.14" x2="32.00" y2="491.14" stroke="#2b2b2b" stroke-width="0.70"/>
<text x="25.60" y="494.14" font-size="8.60" fill="#222" text-anchor="end">2</text>
<line x1="29.40" y1="478.56" x2="30.90" y2="478.56" stroke="#2b2b2b" stroke-width="0.70"/>
<line x1="29.40" y1="465.98" x2="32.00" y2="465.98" stroke="#2b2b2b" stroke-width="0.70"/>
<text x="25.60" y="468.98" font-size="8.60" fill="#222" text-anchor="end">4</text>
<line x1="29.40" y1="453.40" x2="30.90" y2="453.40" stroke="#2b2b2b" stroke-width="0.70"/>
<line x1="29.40" y1="440.82" x2="32.00" y2="440.82" stroke="#2b2b2b" stroke-width="0.70"/>
<text x="25.60" y="443.82" font-size="8.60" fill="#222" text-anchor="end">6</text>
<text x="10.60" y="525.00" font-size="9.60" fill="#222" text-anchor="middle" transform="rotate(-90 10.60 525.00)">Free energy (ΔG, eV)</text>
<text x="353.70" y="630.60" font-size="10.10" fill="#222" text-anchor="middle">Reaction coordinate</text>
<line x1="564.00" y1="451.40" x2="586.70" y2="451.40" stroke="#e8706e" stroke-width="1.60"/>
<text x="589.20" y="454.70" font-size="9.40" fill="#222">*OCONO Path</text>
<line x1="564.00" y1="465.50" x2="586.70" y2="465.50" stroke="#1f5aa6" stroke-width="1.60"/>
<text x="589.60" y="468.80" font-size="9.40" fill="#222">*COOHNH<tspan baseline-shift="-2.20" font-size="6.60">2</tspan> Path</text>
<rect x="34.4" y="484.4" width="114.2" height="50.0" rx="8" ry="8" fill="none" stroke="#333" stroke-width="0.8" stroke-dasharray="2.6 2"/>
<rect x="409.0" y="531.4" width="32.0" height="14.4" rx="2.5" ry="2.5" fill="none" stroke="#333" stroke-width="0.8" stroke-dasharray="2.2 1.6"/>
<rect x="442.3" y="571.2" width="112.8" height="43.0" rx="8" ry="8" fill="none" stroke="#333" stroke-width="0.8" stroke-dasharray="2.6 2"/>
<line x1="441.00" y1="536.00" x2="526.00" y2="570.50" stroke="#333" stroke-width="0.80" stroke-dasharray="2.6 2"/>
<line x1="73.20" y1="514.70" x2="108.50" y2="504.50" stroke="#ec8a88" stroke-width="1.10" stroke-dasharray="4.2 3"/>
<line x1="133.50" y1="504.50" x2="168.90" y2="518.30" stroke="#ec8a88" stroke-width="1.10" stroke-dasharray="4.2 3"/>
<line x1="194.60" y1="518.30" x2="230.50" y2="517.60" stroke="#ec8a88" stroke-width="1.10" stroke-dasharray="4.2 3"/>
<line x1="255.20" y1="517.60" x2="291.50" y2="534.00" stroke="#ec8a88" stroke-width="1.10" stroke-dasharray="4.2 3"/>
<line x1="316.20" y1="534.00" x2="352.50" y2="538.40" stroke="#ec8a88" stroke-width="1.10" stroke-dasharray="4.2 3"/>
<line x1="377.30" y1="538.40" x2="411.20" y2="534.00" stroke="#ec8a88" stroke-width="1.10" stroke-dasharray="4.2 3"/>
<line x1="438.50" y1="534.00" x2="471.30" y2="519.20" stroke="#ec8a88" stroke-width="1.10" stroke-dasharray="4.2 3"/>
<line x1="499.50" y1="519.20" x2="533.30" y2="565.10" stroke="#ec8a88" stroke-width="1.10" stroke-dasharray="4.2 3"/>
<line x1="560.60" y1="565.10" x2="594.30" y2="583.40" stroke="#ec8a88" stroke-width="1.10" stroke-dasharray="4.2 3"/>
<line x1="73.20" y1="514.70" x2="168.90" y2="524.00" stroke="#4a9ee8" stroke-width="1.10" stroke-dasharray="4.2 3"/>
<line x1="194.60" y1="524.00" x2="230.50" y2="531.40" stroke="#4a9ee8" stroke-width="1.10" stroke-dasharray="4.2 3"/>
<line x1="255.20" y1="531.40" x2="291.50" y2="542.60" stroke="#4a9ee8" stroke-width="1.10" stroke-dasharray="4.2 3"/>
<line x1="316.20" y1="542.60" x2="352.50" y2="550.00" stroke="#4a9ee8" stroke-width="1.10" stroke-dasharray="4.2 3"/>
<line x1="377.30" y1="550.00" x2="411.20" y2="541.70" stroke="#4a9ee8" stroke-width="1.10" stroke-dasharray="4.2 3"/>
<line x1="46.80" y1="514.70" x2="73.20" y2="514.70" stroke="#e8706e" stroke-width="1.70"/>
<line x1="108.50" y1="504.50" x2="133.50" y2="504.50" stroke="#e8706e" stroke-width="1.70"/>
<line x1="168.90" y1="518.30" x2="194.60" y2="518.30" stroke="#e8706e" stroke-width="1.70"/>
<line x1="230.50" y1="517.60" x2="255.20" y2="517.60" stroke="#e8706e" stroke-width="1.70"/>
<line x1="291.50" y1="534.00" x2="316.20" y2="534.00" stroke="#e8706e" stroke-width="1.70"/>
<line x1="352.50" y1="538.40" x2="377.30" y2="538.40" stroke="#e8706e" stroke-width="1.70"/>
<line x1="411.20" y1="534.00" x2="438.50" y2="534.00" stroke="#e8706e" stroke-width="1.70"/>
<line x1="471.30" y1="519.20" x2="499.50" y2="519.20" stroke="#e8706e" stroke-width="1.70"/>
<line x1="533.30" y1="565.10" x2="560.60" y2="565.10" stroke="#e8706e" stroke-width="1.70"/>
<line x1="594.30" y1="583.40" x2="620.00" y2="583.40" stroke="#e8706e" stroke-width="1.70"/>
<line x1="168.90" y1="524.00" x2="194.60" y2="524.00" stroke="#1f5aa6" stroke-width="1.70"/>
<line x1="230.50" y1="531.40" x2="255.20" y2="531.40" stroke="#1f5aa6" stroke-width="1.70"/>
<line x1="291.50" y1="542.60" x2="316.20" y2="542.60" stroke="#1f5aa6" stroke-width="1.70"/>
<line x1="352.50" y1="550.00" x2="377.30" y2="550.00" stroke="#1f5aa6" stroke-width="1.70"/>
<line x1="411.20" y1="541.70" x2="438.50" y2="541.70" stroke="#1f5aa6" stroke-width="1.70"/>
<line x1="450.00" y1="595.80" x2="471.90" y2="595.80" stroke="#1f5aa6" stroke-width="1.50"/>
<line x1="471.90" y1="595.80" x2="500.50" y2="587.20" stroke="#4a9ee8" stroke-width="1.00" stroke-dasharray="4 3"/>
<line x1="500.50" y1="587.20" x2="523.00" y2="587.20" stroke="#1f5aa6" stroke-width="1.50"/>
<text x="475.50" y="587.00" font-size="9.80" fill="#2461ad" text-anchor="middle">+0.64 eV</text>
<text x="525.60" y="583.80" font-size="9.00" fill="#2461ad" text-anchor="middle">*COOHNH<tspan baseline-shift="-2.20" font-size="6.50">2</tspan></text>
<text x="476.30" y="607.50" font-size="9.00" fill="#2461ad" text-anchor="middle">*COOH+*NH<tspan baseline-shift="-2.20" font-size="6.50">2</tspan></text>
<text x="73.20" y="505.20" font-size="10.00" fill="#e8706e" text-anchor="middle">+0.79 eV</text>
<text x="62.00" y="527.60" font-size="9.10" fill="#e8706e" text-anchor="middle">*OCO+*NO</text>
<text x="121.30" y="496.90" font-size="9.10" fill="#e8706e" text-anchor="middle">*OCONO</text>
<text x="186.50" y="508.30" font-size="9.10" fill="#e8706e" text-anchor="middle">*OCONHO</text>
<text x="177.50" y="541.10" font-size="9.10" fill="#2461ad" text-anchor="middle">*OCO+*NHO</text>
<text x="246.60" y="508.80" font-size="9.10" fill="#e8706e" text-anchor="middle">*OCONHOH</text>
<text x="240.10" y="549.50" font-size="9.10" fill="#2461ad" text-anchor="middle">*OCO+*NHOH</text>
<text x="306.00" y="524.70" font-size="9.10" fill="#e8706e" text-anchor="middle">*OCONH</text>
<text x="304.40" y="558.50" font-size="9.10" fill="#2461ad" text-anchor="middle">*OCO+*NH</text>
<text x="362.20" y="530.50" font-size="9.10" fill="#e8706e" text-anchor="middle">*OCONH<tspan baseline-shift="-2.20" font-size="6.50">2</tspan></text>
<text x="365.40" y="566.50" font-size="9.10" fill="#2461ad" text-anchor="middle">*OCO+*NH<tspan baseline-shift="-2.20" font-size="6.50">2</tspan></text>
<text x="379.80" y="513.00" font-size="10.00" fill="#e8706e" text-anchor="middle">+0.33 eV</text>
<text x="424.00" y="524.70" font-size="9.10" fill="#e8706e" text-anchor="middle">*COOHNH<tspan baseline-shift="-2.20" font-size="6.50">2</tspan></text>
<text x="446.60" y="513.00" font-size="10.00" fill="#e8706e" text-anchor="middle">+1.16 eV</text>
<text x="486.70" y="513.00" font-size="9.10" fill="#e8706e" text-anchor="middle">*CONH<tspan baseline-shift="-2.20" font-size="6.50">2</tspan></text>
<text x="440.10" y="557.50" font-size="9.10" fill="#2461ad" text-anchor="middle">*COOH+*NH<tspan baseline-shift="-2.20" font-size="6.50">2</tspan></text>
<text x="419.30" y="567.20" font-size="10.00" fill="#2461ad" text-anchor="middle">+0.67 eV</text>
<text x="557.40" y="559.50" font-size="9.10" fill="#e8706e" text-anchor="middle">*ONCONH<tspan baseline-shift="-2.20" font-size="6.50">2</tspan></text>
<text x="617.50" y="577.00" font-size="9.10" fill="#e8706e" text-anchor="middle">*CO(NH<tspan baseline-shift="-2.20" font-size="6.50">2</tspan>)<tspan baseline-shift="-2.20" font-size="6.50">2</tspan></text>
<text x="42.70" y="554.30" font-size="10.20" fill="#111" font-weight="bold">First C-N coupling</text>
<defs><clipPath id="mct0"><circle cx="126.8" cy="461.6" r="21.3"/></clipPath></defs>
<circle cx="126.8" cy="461.6" r="21.6" fill="#fff"/>
<g clip-path="url(#mct0)">
<path d="M106.8 471.1 L148.8 474.1 L148.8 485.2 L106.8 485.2 Z" fill="url(#slab)"/>
<use href="#cuClu" x="124.4" y="446.1"/>
</g>
<circle cx="119.4" cy="452.0" r="2.9" fill="url(#sO)"/>
<circle cx="121.2" cy="454.8" r="2.0" fill="url(#sC)"/>
<circle cx="124.5" cy="454.4" r="2.9" fill="url(#sO)"/>
<circle cx="118.2" cy="458.0" r="2.2" fill="url(#sN)"/>
<circle cx="118.8" cy="461.8" r="2.9" fill="url(#sO)"/>
<circle cx="124.2" cy="463.6" r="2.6" fill="url(#sP)"/>
<circle cx="122.0" cy="467.6" r="2.6" fill="url(#sP)"/>
<circle cx="126.8" cy="461.6" r="21.6" fill="none" stroke="#f08a8a" stroke-width="0.75"/>
<defs><clipPath id="mct1"><circle cx="185.0" cy="461.6" r="21.3"/></clipPath></defs>
<circle cx="185.0" cy="461.6" r="21.6" fill="#fff"/>
<g clip-path="url(#mct1)">
<path d="M165.0 471.1 L207.0 474.1 L207.0 485.2 L165.0 485.2 Z" fill="url(#slab)"/>
<use href="#cuClu" x="183.2" y="446.1"/>
</g>
<circle cx="179.2" cy="451.4" r="2.6" fill="url(#sO)"/>
<circle cx="175.4" cy="456.4" r="2.6" fill="url(#sO)"/>
<circle cx="176.4" cy="459.8" r="2.5" fill="url(#sH)"/>
<circle cx="180.4" cy="456.6" r="2.2" fill="url(#sN)"/>
<circle cx="182.0" cy="457.6" r="2.6" fill="url(#sO)"/>
<circle cx="182.8" cy="462.2" r="2.6" fill="url(#sP)"/>
<circle cx="180.4" cy="466.6" r="2.6" fill="url(#sP)"/>
<circle cx="185.0" cy="461.6" r="21.6" fill="none" stroke="#f08a8a" stroke-width="0.75"/>
<defs><clipPath id="mct2"><circle cx="246.5" cy="461.6" r="21.3"/></clipPath></defs>
<circle cx="246.5" cy="461.6" r="21.6" fill="#fff"/>
<g clip-path="url(#mct2)">
<path d="M226.5 471.1 L268.5 474.1 L268.5 485.2 L226.5 485.2 Z" fill="url(#slab)"/>
<use href="#cuClu" x="245.3" y="446.1"/>
</g>
<circle cx="240.3" cy="453.0" r="2.6" fill="url(#sO)"/>
<circle cx="236.5" cy="458.4" r="2.6" fill="url(#sO)"/>
<circle cx="238.7" cy="461.4" r="2.5" fill="url(#sH)"/>
<circle cx="241.9" cy="457.0" r="2.2" fill="url(#sN)"/>
<circle cx="241.9" cy="453.0" r="2.0" fill="url(#sH)"/>
<circle cx="243.9" cy="464.2" r="2.6" fill="url(#sP)"/>
<circle cx="242.1" cy="468.2" r="2.6" fill="url(#sP)"/>
<circle cx="246.5" cy="461.6" r="21.6" fill="none" stroke="#f08a8a" stroke-width="0.75"/>
<defs><clipPath id="mct3"><circle cx="308.0" cy="461.6" r="21.3"/></clipPath></defs>
<circle cx="308.0" cy="461.6" r="21.6" fill="#fff"/>
<g clip-path="url(#mct3)">
<path d="M288.0 471.1 L330.0 474.1 L330.0 485.2 L288.0 485.2 Z" fill="url(#slab)"/>
<use href="#cuClu" x="305.6" y="446.1"/>
</g>
<circle cx="300.0" cy="454.0" r="2.6" fill="url(#sO)"/>
<circle cx="303.2" cy="457.2" r="2.4" fill="url(#sN)"/>
<circle cx="298.2" cy="458.8" r="2.6" fill="url(#sO)"/>
<circle cx="300.4" cy="462.4" r="2.5" fill="url(#sH)"/>
<circle cx="305.2" cy="464.2" r="2.6" fill="url(#sP)"/>
<circle cx="302.6" cy="468.0" r="2.6" fill="url(#sP)"/>
<circle cx="308.0" cy="461.6" r="21.6" fill="none" stroke="#f08a8a" stroke-width="0.75"/>
<defs><clipPath id="mct4"><circle cx="368.0" cy="461.6" r="21.3"/></clipPath></defs>
<circle cx="368.0" cy="461.6" r="21.6" fill="#fff"/>
<g clip-path="url(#mct4)">
<path d="M348.0 471.1 L390.0 474.1 L390.0 485.2 L348.0 485.2 Z" fill="url(#slab)"/>
<use href="#cuClu" x="366.2" y="446.1"/>
</g>
<circle cx="362.4" cy="452.2" r="2.0" fill="url(#sC)"/>
<circle cx="361.8" cy="455.0" r="2.7" fill="url(#sH)"/>
<circle cx="358.4" cy="458.6" r="2.5" fill="url(#sO)"/>
<circle cx="362.6" cy="460.4" r="2.7" fill="url(#sH)"/>
<circle cx="364.8" cy="460.8" r="2.0" fill="url(#sN)"/>
<circle cx="367.0" cy="462.4" r="2.5" fill="url(#sP)"/>
<circle cx="364.4" cy="466.2" r="2.5" fill="url(#sP)"/>
<circle cx="368.0" cy="461.6" r="21.6" fill="none" stroke="#f08a8a" stroke-width="0.75"/>
<defs><clipPath id="mct5"><circle cx="426.6" cy="461.6" r="21.3"/></clipPath></defs>
<circle cx="426.6" cy="461.6" r="21.6" fill="#fff"/>
<g clip-path="url(#mct5)">
<path d="M406.6 471.1 L448.6 474.1 L448.6 485.2 L406.6 485.2 Z" fill="url(#slab)"/>
<use href="#cuClu" x="425.4" y="446.1"/>
</g>
<circle cx="421.4" cy="453.2" r="2.0" fill="url(#sC)"/>
<circle cx="417.8" cy="455.6" r="2.5" fill="url(#sO)"/>
<circle cx="419.0" cy="459.2" r="2.7" fill="url(#sH)"/>
<circle cx="422.0" cy="458.0" r="2.1" fill="url(#sN)"/>
<circle cx="424.0" cy="459.6" r="2.2" fill="url(#sO)"/>
<circle cx="425.4" cy="462.2" r="2.5" fill="url(#sP)"/>
<circle cx="423.0" cy="466.6" r="2.5" fill="url(#sP)"/>
<circle cx="426.6" cy="461.6" r="21.6" fill="none" stroke="#f08a8a" stroke-width="0.75"/>
<defs><clipPath id="mct6"><circle cx="489.6" cy="461.6" r="21.3"/></clipPath></defs>
<circle cx="489.6" cy="461.6" r="21.6" fill="#fff"/>
<g clip-path="url(#mct6)">
<path d="M469.6 471.1 L511.6 474.1 L511.6 485.2 L469.6 485.2 Z" fill="url(#slab)"/>
<use href="#cuClu" x="487.2" y="446.1"/>
</g>
<circle cx="483.2" cy="453.0" r="2.4" fill="url(#sO)"/>
<circle cx="486.0" cy="452.0" r="2.5" fill="url(#sH)"/>
<circle cx="485.0" cy="456.2" r="2.1" fill="url(#sN)"/>
<circle cx="481.0" cy="458.2" r="2.4" fill="url(#sO)"/>
<circle cx="483.0" cy="461.0" r="2.5" fill="url(#sH)"/>
<circle cx="486.4" cy="464.2" r="2.5" fill="url(#sP)"/>
<circle cx="484.4" cy="467.8" r="2.5" fill="url(#sP)"/>
<circle cx="489.6" cy="461.6" r="21.6" fill="none" stroke="#f08a8a" stroke-width="0.75"/>
<defs><clipPath id="mct7"><circle cx="550.2" cy="511.0" r="21.3"/></clipPath></defs>
<circle cx="550.2" cy="511.0" r="21.6" fill="#fff"/>
<g clip-path="url(#mct7)">
<path d="M530.2 520.5 L572.2 523.5 L572.2 534.6 L530.2 534.6 Z" fill="url(#slab)"/>
<use href="#cuClu2" x="548.7" y="497.5"/>
</g>
<circle cx="547.2" cy="502.4" r="2.0" fill="url(#sN)"/>
<circle cx="546.4" cy="506.6" r="2.4" fill="url(#sO)"/>
<circle cx="543.6" cy="507.6" r="2.5" fill="url(#sH)"/>
<circle cx="541.0" cy="510.4" r="2.2" fill="url(#sO)"/>
<circle cx="543.8" cy="512.8" r="2.5" fill="url(#sH)"/>
<circle cx="547.0" cy="515.0" r="2.5" fill="url(#sP)"/>
<circle cx="545.6" cy="518.6" r="2.5" fill="url(#sP)"/>
<circle cx="550.2" cy="511.0" r="21.6" fill="none" stroke="#f08a8a" stroke-width="0.75"/>
<defs><clipPath id="mct8"><circle cx="618.7" cy="528.3" r="21.3"/></clipPath></defs>
<circle cx="618.7" cy="528.3" r="21.6" fill="#fff"/>
<g clip-path="url(#mct8)">
<path d="M598.7 537.8 L640.7 540.8 L640.7 551.9 L598.7 551.9 Z" fill="url(#slab)"/>
<use href="#cuClu2" x="617.2" y="514.8"/>
</g>
<circle cx="613.5" cy="519.9" r="2.2" fill="url(#sH)"/>
<circle cx="615.5" cy="521.9" r="2.0" fill="url(#sN)"/>
<circle cx="609.9" cy="526.1" r="2.4" fill="url(#sO)"/>
<circle cx="612.7" cy="528.5" r="2.5" fill="url(#sH)"/>
<circle cx="615.7" cy="530.7" r="2.5" fill="url(#sP)"/>
<circle cx="613.7" cy="534.3" r="2.5" fill="url(#sP)"/>
<circle cx="618.7" cy="528.3" r="21.6" fill="none" stroke="#f08a8a" stroke-width="0.75"/>
<defs><clipPath id="mcb0"><circle cx="173.0" cy="593.0" r="21.3"/></clipPath></defs>
<circle cx="173.0" cy="593.0" r="21.6" fill="#fff"/>
<g clip-path="url(#mcb0)">
<path d="M151.0 604.5 L195.0 606.5 L195.0 616.6 L151.0 616.6 Z" fill="url(#slab)"/>
<use href="#cuClu" x="166.0" y="579.2"/>
</g>
<circle cx="169.4" cy="586.6" r="2.9" fill="url(#sO)"/>
<circle cx="168.4" cy="589.6" r="2.0" fill="url(#sC)"/>
<circle cx="165.4" cy="592.2" r="2.9" fill="url(#sO)"/>
<circle cx="170.6" cy="593.8" r="2.5" fill="url(#sP)"/>
<circle cx="175.9" cy="598.4" r="2.5" fill="url(#sP)"/>
<circle cx="180.8" cy="595.7" r="2.6" fill="url(#sH)"/>
<circle cx="182.8" cy="592.4" r="2.0" fill="url(#sN)"/>
<circle cx="186.1" cy="592.2" r="2.9" fill="url(#sO)"/>
<circle cx="173.0" cy="593.0" r="21.6" fill="none" stroke="#5b92d2" stroke-width="0.75"/>
<defs><clipPath id="mcb1"><circle cx="233.0" cy="593.0" r="21.3"/></clipPath></defs>
<circle cx="233.0" cy="593.0" r="21.6" fill="#fff"/>
<g clip-path="url(#mcb1)">
<path d="M211.0 604.5 L255.0 606.5 L255.0 616.6 L211.0 616.6 Z" fill="url(#slab)"/>
<use href="#cuClu" x="226.0" y="579.2"/>
</g>
<circle cx="225.4" cy="588.4" r="2.8" fill="url(#sO)"/>
<circle cx="228.8" cy="585.8" r="2.8" fill="url(#sO)"/>
<circle cx="231.2" cy="588.2" r="2.2" fill="url(#sN)"/>
<circle cx="227.0" cy="591.0" r="2.5" fill="url(#sH)"/>
<circle cx="230.4" cy="593.8" r="2.6" fill="url(#sP)"/>
<circle cx="228.4" cy="597.6" r="2.6" fill="url(#sP)"/>
<circle cx="233.0" cy="593.0" r="21.6" fill="none" stroke="#5b92d2" stroke-width="0.75"/>
<defs><clipPath id="mcb2"><circle cx="294.6" cy="593.0" r="21.3"/></clipPath></defs>
<circle cx="294.6" cy="593.0" r="21.6" fill="#fff"/>
<g clip-path="url(#mcb2)">
<path d="M272.6 604.5 L316.6 606.5 L316.6 616.6 L272.6 616.6 Z" fill="url(#slab)"/>
<use href="#cuClu" x="287.6" y="579.2"/>
</g>
<circle cx="286.6" cy="587.4" r="2.8" fill="url(#sO)"/>
<circle cx="285.2" cy="592.0" r="2.8" fill="url(#sO)"/>
<circle cx="288.2" cy="590.0" r="2.2" fill="url(#sH)"/>
<circle cx="290.2" cy="594.6" r="2.6" fill="url(#sP)"/>
<circle cx="287.8" cy="598.0" r="2.6" fill="url(#sP)"/>
<circle cx="293.0" cy="592.4" r="2.0" fill="url(#sN)"/>
<circle cx="294.6" cy="593.0" r="21.6" fill="none" stroke="#5b92d2" stroke-width="0.75"/>
<defs><clipPath id="mcb3"><circle cx="356.1" cy="593.0" r="21.3"/></clipPath></defs>
<circle cx="356.1" cy="593.0" r="21.6" fill="#fff"/>
<g clip-path="url(#mcb3)">
<path d="M334.1 604.5 L378.1 606.5 L378.1 616.6 L334.1 616.6 Z" fill="url(#slab)"/>
<use href="#cuClu" x="349.1" y="579.2"/>
</g>
<circle cx="347.3" cy="584.4" r="2.8" fill="url(#sO)"/>
<circle cx="347.3" cy="590.0" r="2.8" fill="url(#sO)"/>
<circle cx="351.3" cy="589.4" r="2.5" fill="url(#sH)"/>
<circle cx="350.1" cy="594.4" r="2.5" fill="url(#sH)"/>
<circle cx="351.9" cy="591.8" r="2.5" fill="url(#sP)"/>
<circle cx="354.1" cy="594.0" r="2.0" fill="url(#sN)"/>
<circle cx="354.5" cy="597.4" r="2.6" fill="url(#sP)"/>
<circle cx="356.1" cy="593.0" r="21.6" fill="none" stroke="#5b92d2" stroke-width="0.75"/>
<defs><clipPath id="mcb4"><circle cx="414.9" cy="593.0" r="21.3"/></clipPath></defs>
<circle cx="414.9" cy="593.0" r="21.6" fill="#fff"/>
<g clip-path="url(#mcb4)">
<path d="M392.9 604.5 L436.9 606.5 L436.9 616.6 L392.9 616.6 Z" fill="url(#slab)"/>
<use href="#cuClu" x="407.9" y="579.2"/>
</g>
<circle cx="404.5" cy="592.4" r="2.5" fill="url(#sH)"/>
<circle cx="407.9" cy="591.0" r="2.0" fill="url(#sC)"/>
<circle cx="410.9" cy="594.8" r="2.0" fill="url(#sN)"/>
<circle cx="416.1" cy="589.0" r="2.7" fill="url(#sP)"/>
<circle cx="415.5" cy="594.8" r="2.7" fill="url(#sP)"/>
<circle cx="418.9" cy="592.2" r="2.6" fill="url(#sP)"/>
<circle cx="413.5" cy="585.6" r="2.2" fill="url(#sH)"/>
<circle cx="414.9" cy="593.0" r="21.6" fill="none" stroke="#5b92d2" stroke-width="0.75"/>
<defs><radialGradient id="hB" cx="0.5" cy="0.5" r="0.5" fx="0.42" fy="0.42"><stop offset="0" stop-color="#ffffff"/><stop offset="0.1" stop-color="#d0d8fa"/><stop offset="0.28" stop-color="#5a70d6"/><stop offset="0.7" stop-color="#3447b4"/><stop offset="1" stop-color="#1e2a7c"/></radialGradient><radialGradient id="hR" cx="0.5" cy="0.5" r="0.5" fx="0.45" fy="0.45"><stop offset="0" stop-color="#ffffff"/><stop offset="0.15" stop-color="#f4f0ec"/><stop offset="0.45" stop-color="#cdbfb4"/><stop offset="0.85" stop-color="#a89688"/><stop offset="1" stop-color="#7a6a5e"/></radialGradient><radialGradient id="hGlow" cx="0.5" cy="0.5" r="0.5"><stop offset="0" stop-color="#bcd2e8"/><stop offset="0.45" stop-color="#d6e4f2"/><stop offset="0.8" stop-color="#f2f6fb"/><stop offset="1" stop-color="#ffffff" stop-opacity="0"/></radialGradient><marker id="ah" viewBox="0 0 10 10" refX="8" refY="5" markerWidth="5.5" markerHeight="5.5" orient="auto-start-reverse" markerUnits="userSpaceOnUse"><path d="M0 0.5 L10 5 L0 9.5 L2.5 5 Z" fill="#2b2a7e"/></marker><marker id="ahr" viewBox="0 0 10 10" refX="8" refY="5" markerWidth="5.5" markerHeight="5.5" orient="auto-start-reverse" markerUnits="userSpaceOnUse"><path d="M0 0.5 L10 5 L0 9.5 L2.5 5 Z" fill="#c9282e"/></marker></defs>
<text x="1.00" y="644.00" font-size="16.40" fill="#111">h</text>
<ellipse cx="451" cy="745" rx="34" ry="32" fill="url(#hGlow)"/>
<ellipse cx="592" cy="715" rx="58" ry="56" fill="url(#hGlow)"/>
<text x="90.60" y="660.00" font-size="10.30" fill="#111" text-anchor="middle" font-weight="bold">Non-confinement (CuRu/CS)</text>
<circle cx="112.0" cy="689.1" r="4.8" fill="url(#hB)"/>
<circle cx="97.1" cy="685.1" r="5.3" fill="url(#hR)"/>
<circle cx="105.0" cy="685.1" r="5.8" fill="url(#hR)"/>
<circle cx="95.8" cy="709.7" r="4.5" fill="url(#hB)"/>
<circle cx="114.2" cy="709.7" r="4.8" fill="url(#hB)"/>
<circle cx="112.9" cy="703.1" r="5.0" fill="url(#hB)"/>
<circle cx="90.1" cy="694.8" r="5.2" fill="url(#hB)"/>
<circle cx="98.9" cy="695.2" r="5.2" fill="url(#hB)"/>
<circle cx="109.8" cy="696.1" r="5.2" fill="url(#hB)"/>
<circle cx="84.0" cy="703.1" r="5.0" fill="url(#hB)"/>
<circle cx="91.9" cy="704.0" r="5.2" fill="url(#hB)"/>
<circle cx="103.3" cy="705.7" r="5.2" fill="url(#hB)"/>
<circle cx="87.5" cy="713.2" r="5.2" fill="url(#hB)"/>
<circle cx="105.9" cy="712.3" r="5.2" fill="url(#hB)"/>
<path d="M98.1 719.5 L98.1 752.0" fill="none" stroke="#2b2a7e" stroke-width="1.15" marker-end="url(#ah)"/>
<path d="M131.6 722.6 C110 722.4 99.2 727 99.2 733.5 C99.2 739.8 110 742 132.8 741.6" fill="none" stroke="#2b2a7e" stroke-width="1.15"/>
<text x="137.60" y="726.50" font-size="8.80" fill="#222">*COOH</text>
<text x="143.80" y="745.10" font-size="8.80" fill="#222">*NH<tspan baseline-shift="-2.20" font-size="6.20">2</tspan></text>
<text x="78.20" y="765.00" font-size="8.80" fill="#222">*COOH(NH<tspan baseline-shift="-2.20" font-size="6.20">2</tspan>)<tspan baseline-shift="-2.20" font-size="6.20">2</tspan></text>
<text x="44.20" y="765.00" font-size="9.10" fill="#222" text-anchor="middle">Side reactions</text>
<text x="44.70" y="775.40" font-size="9.10" fill="#222" text-anchor="middle">dominate</text>
<path d="M98.1 768.0 L98.1 801.5" fill="none" stroke="#2b2a7e" stroke-width="1.15" marker-end="url(#ah)"/>
<path d="M157.6 751.5 C157.6 768 152 773 132 774 C110 775 100 777 99.2 783" fill="none" stroke="#2b2a7e" stroke-width="1.15"/>
<text x="94.40" y="812.50" font-size="9.20" fill="#222" text-anchor="middle">Low C-N coupling efficiency</text>
<path d="M64.6 821.4 L99.3 821.4" fill="none" stroke="#2b2a7e" stroke-width="1.15" marker-end="url(#ah)"/>
<text x="104.30" y="824.50" font-size="9.20" fill="#222">CO(NH<tspan baseline-shift="-2.20" font-size="6.20">2</tspan>)<tspan baseline-shift="-2.20" font-size="6.20">2</tspan></text>
<text x="262.30" y="659.80" font-size="10.30" fill="#c9282e" text-anchor="middle" font-weight="bold">Nano-confinement (CuRu/MCHS)</text>
<circle cx="267.6" cy="719.5" r="30.9" fill="none" stroke="#adbcdb" stroke-width="3.8" stroke-dasharray="5.6 3.6"/>
<circle cx="256.8" cy="714.2" r="5.9" fill="url(#hB)"/>
<circle cx="255.4" cy="730.8" r="5.3" fill="url(#hB)"/>
<circle cx="265.8" cy="708.5" r="7.4" fill="url(#hR)"/>
<circle cx="277.7" cy="715.1" r="7.0" fill="url(#hB)"/>
<circle cx="283.4" cy="725.1" r="6.4" fill="url(#hB)"/>
<circle cx="253.5" cy="723.7" r="6.9" fill="url(#hB)"/>
<circle cx="264.4" cy="718.9" r="7.4" fill="url(#hR)"/>
<circle cx="275.3" cy="728.0" r="6.9" fill="url(#hB)"/>
<circle cx="263.0" cy="732.7" r="6.9" fill="url(#hB)"/>
<path d="M226.0 748.0 Q266.8 720 226.0 692.0" fill="none" stroke="#2b2a7e" stroke-width="1.20" marker-end="url(#ah)" marker-start="url(#ah)"/>
<path d="M309.0 693.4 Q272.4 720.5 310.2 748.0" fill="none" stroke="#2b2a7e" stroke-width="1.20"/>
<text x="198.60" y="696.50" font-size="8.80" fill="#222">CO<tspan baseline-shift="-2.20" font-size="6.20">2</tspan></text>
<text x="197.30" y="748.70" font-size="8.80" fill="#222">NO<tspan baseline-shift="-2.20" font-size="6.20">3</tspan><tspan baseline-shift="3.00" font-size="6.60">—</tspan></text>
<text x="315.20" y="699.00" font-size="8.80" fill="#222">*NO</text>
<text x="314.00" y="750.00" font-size="8.80" fill="#222">*OCO</text>
<path d="M268.8 755.4 L268.8 790.5" fill="none" stroke="#2b2a7e" stroke-width="1.15" marker-end="url(#ah)"/>
<path d="M268.8 763.6 C278 764 282.6 769 282.6 775 C282.6 782 276 787 269.2 788.6" fill="none" stroke="#2b2a7e" stroke-width="1.15"/>
<text x="230.20" y="774.70" font-size="9.10" fill="#222" text-anchor="middle">Short pathway</text>
<text x="315.80" y="771.70" font-size="9.10" fill="#222" text-anchor="middle">Fast kinetics</text>
<text x="271.20" y="800.80" font-size="9.10" fill="#222" text-anchor="middle">*OCONO</text>
<text x="269.30" y="813.20" font-size="9.20" fill="#222" text-anchor="middle">Enhanced urea yield rate</text>
<path d="M230.8 821.1 L266.8 821.1" fill="none" stroke="#2b2a7e" stroke-width="1.15" marker-end="url(#ah)"/>
<text x="270.50" y="825.50" font-size="9.20" fill="#222">CO(NH<tspan baseline-shift="-2.20" font-size="6.20">2</tspan>)<tspan baseline-shift="-2.20" font-size="6.20">2</tspan></text>
<text x="496.70" y="663.50" font-size="8.80" fill="#c9282e" text-anchor="middle">*OCONO</text>
<text x="449.90" y="687.80" font-size="10.60" fill="#c9282e" text-anchor="middle">Nano-confinement</text>
<text x="531.80" y="696.40" font-size="10.60" fill="#c9282e" text-anchor="middle">*NO</text>
<text x="489.70" y="720.20" font-size="10.60" fill="#c9282e" text-anchor="middle">*OCO</text>
<text x="421.30" y="735.60" font-size="10.40" fill="#222" text-anchor="middle">CO<tspan baseline-shift="-2.30" font-size="6.80">2</tspan></text>
<text x="529.10" y="729.90" font-size="10.40" fill="#222" text-anchor="middle">*NHO</text>
<text x="543.20" y="760.00" font-size="10.40" fill="#222" text-anchor="middle">*NHOH</text>
<text x="560.30" y="668.30" font-size="10.40" fill="#222" text-anchor="middle">*NOOH</text>
<text x="607.80" y="659.90" font-size="10.40" fill="#222" text-anchor="middle">*NO<tspan baseline-shift="-2.40" font-size="7.00">2</tspan></text>
<text x="641.30" y="683.10" font-size="10.40" fill="#222" text-anchor="middle">*NO<tspan baseline-shift="-2.40" font-size="7.00">3</tspan></text>
<text x="646.00" y="721.70" font-size="10.40" fill="#222">NO<tspan baseline-shift="-2.40" font-size="7.00">3</tspan><tspan baseline-shift="3.20" font-size="7.00">—</tspan></text>
<text x="482.00" y="784.30" font-size="10.40" fill="#222" text-anchor="middle">*COOH</text>
<text x="575.90" y="781.10" font-size="10.40" fill="#222" text-anchor="middle">*NH</text>
<text x="619.10" y="785.60" font-size="10.40" fill="#222" text-anchor="middle">*NH<tspan baseline-shift="-2.40" font-size="7.00">2</tspan></text>
<text x="606.60" y="806.00" font-size="10.60" fill="#222" text-anchor="middle">Non-confinement</text>
<text x="546.50" y="819.00" font-size="9.50" fill="#222" text-anchor="middle">*COOH(NH<tspan baseline-shift="-2.30" font-size="6.60">2</tspan>)<tspan baseline-shift="-2.30" font-size="6.60">2</tspan></text>
<text x="389.00" y="806.00" font-size="8.50" fill="#222" text-anchor="middle">*</text>
<text x="402.30" y="807.60" font-size="9.30" fill="#222">adsorbed species</text>
<circle cx="393.8" cy="819.3" r="4.9" fill="url(#hB)"/>
<text x="406.50" y="822.80" font-size="9.60" fill="#222">Cu</text>
<circle cx="439.0" cy="819.3" r="4.9" fill="url(#hR)"/>
<text x="448.80" y="822.80" font-size="9.60" fill="#222">Ru</text>
<path d="M490.3 709.0 C497 700 501 690 502.2 667.5" fill="none" stroke="#c9282e" stroke-width="1.15" marker-end="url(#ahr)"/>
<path d="M520.6 691.2 C512 688 504 683 502.4 676" fill="none" stroke="#c9282e" stroke-width="1.15"/>
<path d="M426.0 718.8 C440 706 458 702 473.5 707.8" fill="none" stroke="#2b2a7e" stroke-width="1.15" marker-end="url(#ah)"/>
<path d="M492.0 723.0 C500 735 502 752 494.0 767.8" fill="none" stroke="#2b2a7e" stroke-width="1.15" marker-end="url(#ah)"/>
<path d="M657.3 711.0 C656 702 654 695 650.0 688.0" fill="none" stroke="#2b2a7e" stroke-width="1.15" marker-end="url(#ah)"/>
<path d="M638.0 673.7 C633 668 628 663 621.0 660.3" fill="none" stroke="#2b2a7e" stroke-width="1.15" marker-end="url(#ah)"/>
<path d="M593.5 654.0 C586 654 578 656 570.4 658.2" fill="none" stroke="#2b2a7e" stroke-width="1.15" marker-end="url(#ah)"/>
<path d="M551.3 670.1 C545 674 540 679 537.0 685.8" fill="none" stroke="#2b2a7e" stroke-width="1.15" marker-end="url(#ah)"/>
<path d="M533.2 698.0 C531 705 530 712 529.8 719.8" fill="none" stroke="#2b2a7e" stroke-width="1.15" marker-end="url(#ah)"/>
<path d="M529.8 731.5 C531 738 533 745 537.0 751.0" fill="none" stroke="#2b2a7e" stroke-width="1.15" marker-end="url(#ah)"/>
<path d="M547.0 764.0 C552 770 557 773 564.8 775.8" fill="none" stroke="#2b2a7e" stroke-width="1.15" marker-end="url(#ah)"/>
<path d="M585.7 781.0 C592 782 599 782.5 607.0 782.3" fill="none" stroke="#2b2a7e" stroke-width="1.15" marker-end="url(#ah)"/>
<path d="M502.4 781.0 C528 781 545 788 547.0 811.5" fill="none" stroke="#2b2a7e" stroke-width="1.15" marker-end="url(#ah)"/>
<path d="M630.0 786.6 C600 786.6 560 784 549 791 C547.3 793 547 795 547 797" fill="none" stroke="#2b2a7e" stroke-width="1.15"/>
</svg>
</body></html>
